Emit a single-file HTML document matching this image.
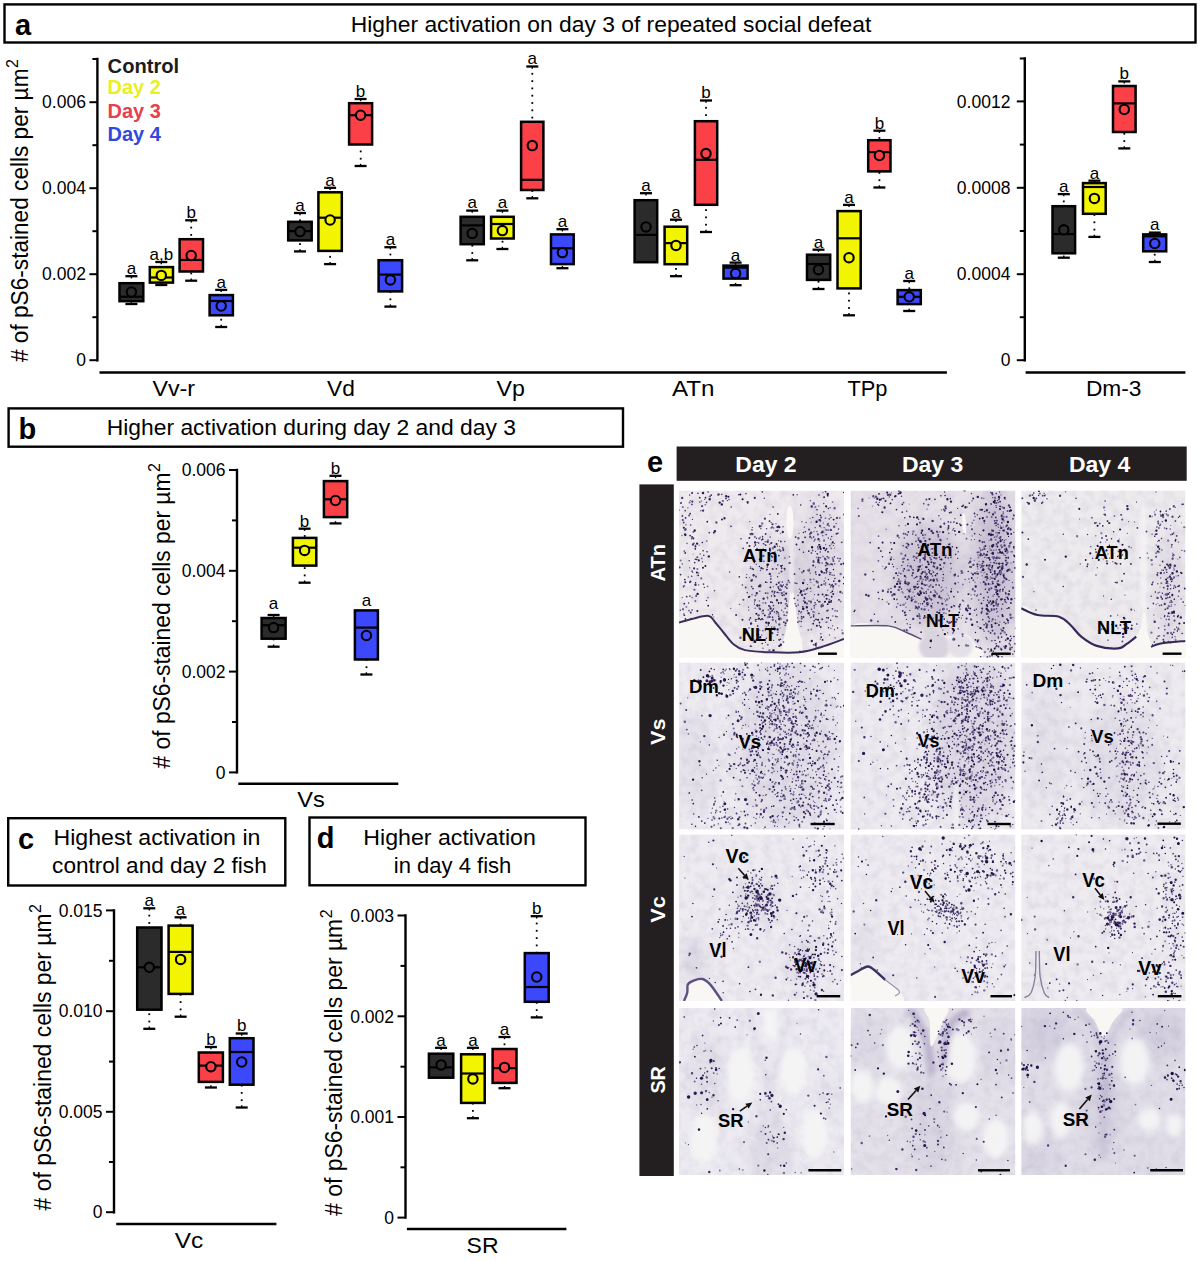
<!DOCTYPE html>
<html><head><meta charset="utf-8"><style>
html,body{margin:0;padding:0;background:#fff;overflow:hidden;}
svg{display:block;}
text{font-family:"Liberation Sans", sans-serif;}
</style></head><body>
<svg width="1200" height="1261" viewBox="0 0 1200 1261">
<defs><filter id="blur8" x="-50%" y="-50%" width="200%" height="200%"><feGaussianBlur stdDeviation="8"/></filter><filter id="tex0" x="0" y="0" width="100%" height="100%"><feTurbulence type="fractalNoise" baseFrequency="0.11" numOctaves="3" seed="3"/><feColorMatrix values="0 0 0 0 0.45 0 0 0 0 0.42 0 0 0 0 0.55 0.5 0 0 0 -0.19"/></filter><filter id="tex1" x="0" y="0" width="100%" height="100%"><feTurbulence type="fractalNoise" baseFrequency="0.11" numOctaves="3" seed="11"/><feColorMatrix values="0 0 0 0 0.45 0 0 0 0 0.42 0 0 0 0 0.55 0.5 0 0 0 -0.19"/></filter><filter id="tex2" x="0" y="0" width="100%" height="100%"><feTurbulence type="fractalNoise" baseFrequency="0.11" numOctaves="3" seed="23"/><feColorMatrix values="0 0 0 0 0.45 0 0 0 0 0.42 0 0 0 0 0.55 0.5 0 0 0 -0.19"/></filter><filter id="blur1" x="-50%" y="-50%" width="200%" height="200%"><feGaussianBlur stdDeviation="1.5"/></filter><filter id="blur2" x="-50%" y="-50%" width="200%" height="200%"><feGaussianBlur stdDeviation="3"/></filter></defs>
<rect width="1200" height="1261" fill="#fff"/>
<rect x="4.5" y="4.4" width="1191" height="38.1" fill="none" stroke="#000" stroke-width="2.4"/>
<text x="15" y="35" font-size="29" text-anchor="start" font-weight="bold" fill="#000">a</text>
<text x="350.8" y="31.7" font-size="22" text-anchor="start" fill="#000" textLength="520.5" lengthAdjust="spacingAndGlyphs">Higher activation on day 3 of repeated social defeat</text>
<text x="107.6" y="72.6" font-size="19.5" text-anchor="start" font-weight="bold" fill="#1c1c1c" textLength="71.6" lengthAdjust="spacingAndGlyphs">Control</text>
<text x="107.6" y="93.5" font-size="19.5" text-anchor="start" font-weight="bold" fill="#e9f01c" textLength="53.3" lengthAdjust="spacingAndGlyphs">Day 2</text>
<text x="107.6" y="117.5" font-size="19.5" text-anchor="start" font-weight="bold" fill="#e8404c" textLength="53.3" lengthAdjust="spacingAndGlyphs">Day 3</text>
<text x="107.6" y="141.1" font-size="19.5" text-anchor="start" font-weight="bold" fill="#3048e0" textLength="53.3" lengthAdjust="spacingAndGlyphs">Day 4</text>
<path d="M97.4 57.8L97.4 361.4" stroke="#000" stroke-width="2.4"/>
<path d="M92.4 59L97.4 59" stroke="#000" stroke-width="2.0"/>
<path d="M89.4 102.2L97.4 102.2" stroke="#000" stroke-width="2.0"/>
<path d="M92.4 145.2L97.4 145.2" stroke="#000" stroke-width="2.0"/>
<path d="M89.4 188.2L97.4 188.2" stroke="#000" stroke-width="2.0"/>
<path d="M92.4 231.2L97.4 231.2" stroke="#000" stroke-width="2.0"/>
<path d="M89.4 274.2L97.4 274.2" stroke="#000" stroke-width="2.0"/>
<path d="M92.4 317.2L97.4 317.2" stroke="#000" stroke-width="2.0"/>
<path d="M89.4 360.2L97.4 360.2" stroke="#000" stroke-width="2.0"/>
<text x="85.9" y="108.4" font-size="17.5" text-anchor="end" fill="#000">0.006</text>
<text x="85.9" y="194.4" font-size="17.5" text-anchor="end" fill="#000">0.004</text>
<text x="85.9" y="280.4" font-size="17.5" text-anchor="end" fill="#000">0.002</text>
<text x="85.9" y="366.4" font-size="17.5" text-anchor="end" fill="#000">0</text>
<text transform="translate(28,362) rotate(-90)" font-size="23" textLength="293.5" lengthAdjust="spacingAndGlyphs"># of pS6-stained cells per µm</text>
<text transform="translate(18.3,68) rotate(-90)" font-size="16">2</text>
<path d="M99.5 372.6L946.9 372.6" stroke="#000" stroke-width="2.5"/>
<text x="173.7" y="395.9" font-size="21.5" text-anchor="middle" fill="#000" textLength="42.6" lengthAdjust="spacingAndGlyphs">Vv-r</text>
<text x="341" y="395.9" font-size="21.5" text-anchor="middle" fill="#000" textLength="27.8" lengthAdjust="spacingAndGlyphs">Vd</text>
<text x="510.7" y="395.9" font-size="21.5" text-anchor="middle" fill="#000" textLength="28.4" lengthAdjust="spacingAndGlyphs">Vp</text>
<text x="693.2" y="395.9" font-size="21.5" text-anchor="middle" fill="#000" textLength="42.6" lengthAdjust="spacingAndGlyphs">ATn</text>
<text x="867.5" y="395.9" font-size="21.5" text-anchor="middle" fill="#000" textLength="40" lengthAdjust="spacingAndGlyphs">TPp</text>
<path d="M125.4 276.2L137.4 276.2" stroke="#000" stroke-width="2.3"/>
<path d="M131.4 276.2L131.4 278.4" stroke="#000" stroke-width="1.4"/>
<path d="M125.4 304L137.4 304" stroke="#000" stroke-width="2.3"/>
<path d="M131.4 301.8L131.4 304" stroke="#000" stroke-width="1.4"/>
<rect x="119.5" y="283.2" width="23.8" height="18" fill="#2b2b2b" stroke="#000" stroke-width="2.5"/>
<path d="M119.5 296.7L143.3 296.7" stroke="#000" stroke-width="2.2"/>
<circle cx="131.4" cy="292" r="4.7" fill="#2b2b2b" stroke="#000" stroke-width="2.1"/>
<text x="131.4" y="274" font-size="17" text-anchor="middle" fill="#000">a</text>
<path d="M155.3 262L167.3 262" stroke="#000" stroke-width="2.3"/>
<path d="M161.3 262L161.3 264.2" stroke="#000" stroke-width="1.4"/>
<path d="M155.3 285L167.3 285" stroke="#000" stroke-width="2.3"/>
<path d="M161.3 282.8L161.3 285" stroke="#000" stroke-width="1.4"/>
<rect x="149.8" y="267.1" width="23.2" height="15.5" fill="#f3f500" stroke="#000" stroke-width="2.5"/>
<path d="M149.8 277.5L172.9 277.5" stroke="#000" stroke-width="2.2"/>
<circle cx="161.3" cy="275.4" r="4.7" fill="#f3f500" stroke="#000" stroke-width="2.1"/>
<text x="161.3" y="259.8" font-size="17" text-anchor="middle" fill="#000">a,b</text>
<path d="M185.2 220.3L197.2 220.3" stroke="#000" stroke-width="2.3"/>
<path d="M191.2 220.3L191.2 222.5" stroke="#000" stroke-width="1.4"/>
<path d="M185.2 280.7L197.2 280.7" stroke="#000" stroke-width="2.3"/>
<path d="M191.2 278.5L191.2 280.7" stroke="#000" stroke-width="1.4"/>
<rect x="190.3" y="226.7" width="1.8" height="1.8" fill="#000"/>
<rect x="190.3" y="234" width="1.8" height="1.8" fill="#000"/>
<rect x="190.3" y="272.5" width="1.8" height="1.8" fill="#000"/>
<rect x="179.6" y="239.2" width="23.4" height="32.3" fill="#fc4048" stroke="#000" stroke-width="2.5"/>
<path d="M179.6 259.9L202.9 259.9" stroke="#000" stroke-width="2.2"/>
<circle cx="191.2" cy="255.5" r="4.7" fill="#fc4048" stroke="#000" stroke-width="2.1"/>
<text x="191.2" y="218.1" font-size="17" text-anchor="middle" fill="#000">b</text>
<path d="M215.2 289.9L227.2 289.9" stroke="#000" stroke-width="2.3"/>
<path d="M221.2 289.9L221.2 292.1" stroke="#000" stroke-width="1.4"/>
<path d="M215.2 327L227.2 327" stroke="#000" stroke-width="2.3"/>
<path d="M221.2 324.8L221.2 327" stroke="#000" stroke-width="1.4"/>
<rect x="220.3" y="318.8" width="1.8" height="1.8" fill="#000"/>
<rect x="209.6" y="295.1" width="23.3" height="20.2" fill="#3c48fc" stroke="#000" stroke-width="2.5"/>
<path d="M209.6 301L232.8 301" stroke="#000" stroke-width="2.2"/>
<circle cx="221.2" cy="306" r="4.7" fill="#3c48fc" stroke="#000" stroke-width="2.1"/>
<text x="221.2" y="287.7" font-size="17" text-anchor="middle" fill="#000">a</text>
<path d="M294 213L306 213" stroke="#000" stroke-width="2.3"/>
<path d="M300 213L300 215.2" stroke="#000" stroke-width="1.4"/>
<path d="M294 251.4L306 251.4" stroke="#000" stroke-width="2.3"/>
<path d="M300 249.2L300 251.4" stroke="#000" stroke-width="1.4"/>
<rect x="299.1" y="219.4" width="1.8" height="1.8" fill="#000"/>
<rect x="299.1" y="243.2" width="1.8" height="1.8" fill="#000"/>
<rect x="288.2" y="221.8" width="23.5" height="18.6" fill="#2b2b2b" stroke="#000" stroke-width="2.5"/>
<path d="M288.2 231.1L311.8 231.1" stroke="#000" stroke-width="2.2"/>
<circle cx="300" cy="231.6" r="4.7" fill="#2b2b2b" stroke="#000" stroke-width="2.1"/>
<text x="300" y="210.8" font-size="17" text-anchor="middle" fill="#000">a</text>
<path d="M324.1 187.8L336.1 187.8" stroke="#000" stroke-width="2.3"/>
<path d="M330.1 187.8L330.1 190" stroke="#000" stroke-width="1.4"/>
<path d="M324.1 264.1L336.1 264.1" stroke="#000" stroke-width="2.3"/>
<path d="M330.1 261.9L330.1 264.1" stroke="#000" stroke-width="1.4"/>
<rect x="329.2" y="255.9" width="1.8" height="1.8" fill="#000"/>
<rect x="318.4" y="192.3" width="23.4" height="58.6" fill="#f3f500" stroke="#000" stroke-width="2.5"/>
<path d="M318.4 217.7L341.9 217.7" stroke="#000" stroke-width="2.2"/>
<circle cx="330.1" cy="220" r="4.7" fill="#f3f500" stroke="#000" stroke-width="2.1"/>
<text x="330.1" y="185.6" font-size="17" text-anchor="middle" fill="#000">a</text>
<path d="M354.6 99L366.6 99" stroke="#000" stroke-width="2.3"/>
<path d="M360.6 99L360.6 101.2" stroke="#000" stroke-width="1.4"/>
<path d="M354.6 166L366.6 166" stroke="#000" stroke-width="2.3"/>
<path d="M360.6 163.8L360.6 166" stroke="#000" stroke-width="1.4"/>
<rect x="359.8" y="157.8" width="1.8" height="1.8" fill="#000"/>
<rect x="359.8" y="150.5" width="1.8" height="1.8" fill="#000"/>
<rect x="349.1" y="103.2" width="23" height="41.3" fill="#fc4048" stroke="#000" stroke-width="2.5"/>
<path d="M349.1 115.2L372.1 115.2" stroke="#000" stroke-width="2.2"/>
<circle cx="360.6" cy="115.2" r="4.7" fill="#fc4048" stroke="#000" stroke-width="2.1"/>
<text x="360.6" y="96.8" font-size="17" text-anchor="middle" fill="#000">b</text>
<path d="M384.4 247.2L396.4 247.2" stroke="#000" stroke-width="2.3"/>
<path d="M390.4 247.2L390.4 249.4" stroke="#000" stroke-width="1.4"/>
<path d="M384.4 306.6L396.4 306.6" stroke="#000" stroke-width="2.3"/>
<path d="M390.4 304.4L390.4 306.6" stroke="#000" stroke-width="1.4"/>
<rect x="389.5" y="253.6" width="1.8" height="1.8" fill="#000"/>
<rect x="389.5" y="298.4" width="1.8" height="1.8" fill="#000"/>
<rect x="389.5" y="291.1" width="1.8" height="1.8" fill="#000"/>
<rect x="378.6" y="260.2" width="23.5" height="31.2" fill="#3c48fc" stroke="#000" stroke-width="2.5"/>
<path d="M378.6 274.6L402.1 274.6" stroke="#000" stroke-width="2.2"/>
<circle cx="390.4" cy="279.9" r="4.7" fill="#3c48fc" stroke="#000" stroke-width="2.1"/>
<text x="390.4" y="245" font-size="17" text-anchor="middle" fill="#000">a</text>
<path d="M466.2 210.6L478.2 210.6" stroke="#000" stroke-width="2.3"/>
<path d="M472.2 210.6L472.2 212.8" stroke="#000" stroke-width="1.4"/>
<path d="M466.2 260.3L478.2 260.3" stroke="#000" stroke-width="2.3"/>
<path d="M472.2 258.1L472.2 260.3" stroke="#000" stroke-width="1.4"/>
<rect x="471.4" y="252.1" width="1.8" height="1.8" fill="#000"/>
<rect x="471.4" y="244.8" width="1.8" height="1.8" fill="#000"/>
<rect x="460.6" y="216.8" width="23.2" height="27.4" fill="#2b2b2b" stroke="#000" stroke-width="2.5"/>
<path d="M460.6 225.4L483.9 225.4" stroke="#000" stroke-width="2.2"/>
<circle cx="472.2" cy="233.4" r="4.7" fill="#2b2b2b" stroke="#000" stroke-width="2.1"/>
<text x="472.2" y="208.4" font-size="17" text-anchor="middle" fill="#000">a</text>
<path d="M496.4 210.6L508.4 210.6" stroke="#000" stroke-width="2.3"/>
<path d="M502.4 210.6L502.4 212.8" stroke="#000" stroke-width="1.4"/>
<path d="M496.4 249L508.4 249" stroke="#000" stroke-width="2.3"/>
<path d="M502.4 246.8L502.4 249" stroke="#000" stroke-width="1.4"/>
<rect x="501.6" y="240.8" width="1.8" height="1.8" fill="#000"/>
<rect x="491.1" y="216.8" width="22.6" height="21.7" fill="#f3f500" stroke="#000" stroke-width="2.5"/>
<path d="M491.1 224L513.8 224" stroke="#000" stroke-width="2.2"/>
<circle cx="502.4" cy="230.6" r="4.7" fill="#f3f500" stroke="#000" stroke-width="2.1"/>
<text x="502.4" y="208.4" font-size="17" text-anchor="middle" fill="#000">a</text>
<path d="M526.3 66.5L538.3 66.5" stroke="#000" stroke-width="2.3"/>
<path d="M532.3 66.5L532.3 68.7" stroke="#000" stroke-width="1.4"/>
<path d="M526.3 198.3L538.3 198.3" stroke="#000" stroke-width="2.3"/>
<path d="M532.3 196.1L532.3 198.3" stroke="#000" stroke-width="1.4"/>
<rect x="531.4" y="72.9" width="1.8" height="1.8" fill="#000"/>
<rect x="531.4" y="80.2" width="1.8" height="1.8" fill="#000"/>
<rect x="531.4" y="87.5" width="1.8" height="1.8" fill="#000"/>
<rect x="531.4" y="94.8" width="1.8" height="1.8" fill="#000"/>
<rect x="531.4" y="102.1" width="1.8" height="1.8" fill="#000"/>
<rect x="531.4" y="109.4" width="1.8" height="1.8" fill="#000"/>
<rect x="531.4" y="116.7" width="1.8" height="1.8" fill="#000"/>
<rect x="531.4" y="190.1" width="1.8" height="1.8" fill="#000"/>
<rect x="521.1" y="121.8" width="22.3" height="68.2" fill="#fc4048" stroke="#000" stroke-width="2.5"/>
<path d="M521.1 179.8L543.5 179.8" stroke="#000" stroke-width="2.2"/>
<circle cx="532.3" cy="145.6" r="4.7" fill="#fc4048" stroke="#000" stroke-width="2.1"/>
<text x="532.3" y="64.3" font-size="17" text-anchor="middle" fill="#000">a</text>
<path d="M556.4 229.2L568.4 229.2" stroke="#000" stroke-width="2.3"/>
<path d="M562.4 229.2L562.4 231.4" stroke="#000" stroke-width="1.4"/>
<path d="M556.4 268.2L568.4 268.2" stroke="#000" stroke-width="2.3"/>
<path d="M562.4 266L562.4 268.2" stroke="#000" stroke-width="1.4"/>
<rect x="551" y="234.4" width="22.7" height="29.7" fill="#3c48fc" stroke="#000" stroke-width="2.5"/>
<path d="M551 248.3L573.8 248.3" stroke="#000" stroke-width="2.2"/>
<circle cx="562.4" cy="252.6" r="4.7" fill="#3c48fc" stroke="#000" stroke-width="2.1"/>
<text x="562.4" y="227" font-size="17" text-anchor="middle" fill="#000">a</text>
<path d="M640 193.2L652 193.2" stroke="#000" stroke-width="2.3"/>
<path d="M646 193.2L646 195.4" stroke="#000" stroke-width="1.4"/>
<rect x="634.6" y="200.2" width="22.6" height="62" fill="#2b2b2b" stroke="#000" stroke-width="2.5"/>
<path d="M634.6 234.9L657.2 234.9" stroke="#000" stroke-width="2.2"/>
<circle cx="646" cy="226.9" r="4.7" fill="#2b2b2b" stroke="#000" stroke-width="2.1"/>
<text x="646" y="191" font-size="17" text-anchor="middle" fill="#000">a</text>
<path d="M670 219.7L682 219.7" stroke="#000" stroke-width="2.3"/>
<path d="M676 219.7L676 221.9" stroke="#000" stroke-width="1.4"/>
<path d="M670 276.2L682 276.2" stroke="#000" stroke-width="2.3"/>
<path d="M676 274L676 276.2" stroke="#000" stroke-width="1.4"/>
<rect x="675.1" y="268" width="1.8" height="1.8" fill="#000"/>
<rect x="664.6" y="226.7" width="22.6" height="37.5" fill="#f3f500" stroke="#000" stroke-width="2.5"/>
<path d="M664.6 243.1L687.2 243.1" stroke="#000" stroke-width="2.2"/>
<circle cx="676" cy="245.4" r="4.7" fill="#f3f500" stroke="#000" stroke-width="2.1"/>
<text x="676" y="217.5" font-size="17" text-anchor="middle" fill="#000">a</text>
<path d="M700 100.5L712 100.5" stroke="#000" stroke-width="2.3"/>
<path d="M706 100.5L706 102.7" stroke="#000" stroke-width="1.4"/>
<path d="M700 232L712 232" stroke="#000" stroke-width="2.3"/>
<path d="M706 229.8L706 232" stroke="#000" stroke-width="1.4"/>
<rect x="705.1" y="106.9" width="1.8" height="1.8" fill="#000"/>
<rect x="705.1" y="114.2" width="1.8" height="1.8" fill="#000"/>
<rect x="705.1" y="223.8" width="1.8" height="1.8" fill="#000"/>
<rect x="705.1" y="216.5" width="1.8" height="1.8" fill="#000"/>
<rect x="705.1" y="209.2" width="1.8" height="1.8" fill="#000"/>
<rect x="694.9" y="121.2" width="22.3" height="83.6" fill="#fc4048" stroke="#000" stroke-width="2.5"/>
<path d="M694.9 159.8L717.1 159.8" stroke="#000" stroke-width="2.2"/>
<circle cx="706" cy="153.6" r="4.7" fill="#fc4048" stroke="#000" stroke-width="2.1"/>
<text x="706" y="98.3" font-size="17" text-anchor="middle" fill="#000">b</text>
<path d="M729.6 262.6L741.6 262.6" stroke="#000" stroke-width="2.3"/>
<path d="M735.6 262.6L735.6 264.8" stroke="#000" stroke-width="1.4"/>
<path d="M729.6 285.2L741.6 285.2" stroke="#000" stroke-width="2.3"/>
<path d="M735.6 283L735.6 285.2" stroke="#000" stroke-width="1.4"/>
<rect x="723.5" y="265.6" width="24.1" height="13" fill="#3c48fc" stroke="#000" stroke-width="2.5"/>
<path d="M723.5 267.6L747.6 267.6" stroke="#000" stroke-width="2.2"/>
<circle cx="735.6" cy="273.4" r="4.7" fill="#3c48fc" stroke="#000" stroke-width="2.1"/>
<text x="735.6" y="260.9" font-size="17" text-anchor="middle" fill="#000">a</text>
<path d="M812.5 249.7L824.5 249.7" stroke="#000" stroke-width="2.3"/>
<path d="M818.5 249.7L818.5 251.9" stroke="#000" stroke-width="1.4"/>
<path d="M812.5 289L824.5 289" stroke="#000" stroke-width="2.3"/>
<path d="M818.5 286.8L818.5 289" stroke="#000" stroke-width="1.4"/>
<rect x="817.6" y="280.8" width="1.8" height="1.8" fill="#000"/>
<rect x="807" y="254.7" width="23.2" height="25.2" fill="#2b2b2b" stroke="#000" stroke-width="2.5"/>
<path d="M807 264L830.1 264" stroke="#000" stroke-width="2.2"/>
<circle cx="818.5" cy="269.7" r="4.7" fill="#2b2b2b" stroke="#000" stroke-width="2.1"/>
<text x="818.5" y="247.5" font-size="17" text-anchor="middle" fill="#000">a</text>
<path d="M843 204.9L855 204.9" stroke="#000" stroke-width="2.3"/>
<path d="M849 204.9L849 207.1" stroke="#000" stroke-width="1.4"/>
<path d="M843 315.3L855 315.3" stroke="#000" stroke-width="2.3"/>
<path d="M849 313.1L849 315.3" stroke="#000" stroke-width="1.4"/>
<rect x="848.1" y="307.1" width="1.8" height="1.8" fill="#000"/>
<rect x="848.1" y="299.8" width="1.8" height="1.8" fill="#000"/>
<rect x="848.1" y="292.5" width="1.8" height="1.8" fill="#000"/>
<rect x="837.5" y="211.1" width="23.2" height="77.3" fill="#f3f500" stroke="#000" stroke-width="2.5"/>
<path d="M837.5 238.3L860.6 238.3" stroke="#000" stroke-width="2.2"/>
<circle cx="849" cy="257.7" r="4.7" fill="#f3f500" stroke="#000" stroke-width="2.1"/>
<text x="849" y="202.7" font-size="17" text-anchor="middle" fill="#000">a</text>
<path d="M873.4 130.7L885.4 130.7" stroke="#000" stroke-width="2.3"/>
<path d="M879.4 130.7L879.4 132.9" stroke="#000" stroke-width="1.4"/>
<path d="M873.4 187.5L885.4 187.5" stroke="#000" stroke-width="2.3"/>
<path d="M879.4 185.3L879.4 187.5" stroke="#000" stroke-width="1.4"/>
<rect x="878.5" y="137.1" width="1.8" height="1.8" fill="#000"/>
<rect x="878.5" y="179.3" width="1.8" height="1.8" fill="#000"/>
<rect x="878.5" y="172" width="1.8" height="1.8" fill="#000"/>
<rect x="868.2" y="140.2" width="22.3" height="31.2" fill="#fc4048" stroke="#000" stroke-width="2.5"/>
<path d="M868.2 152.1L890.5 152.1" stroke="#000" stroke-width="2.2"/>
<circle cx="879.4" cy="155.5" r="4.7" fill="#fc4048" stroke="#000" stroke-width="2.1"/>
<text x="879.4" y="128.5" font-size="17" text-anchor="middle" fill="#000">b</text>
<path d="M903.2 281L915.2 281" stroke="#000" stroke-width="2.3"/>
<path d="M909.2 281L909.2 283.2" stroke="#000" stroke-width="1.4"/>
<path d="M903.2 311L915.2 311" stroke="#000" stroke-width="2.3"/>
<path d="M909.2 308.8L909.2 311" stroke="#000" stroke-width="1.4"/>
<rect x="908.4" y="287.4" width="1.8" height="1.8" fill="#000"/>
<rect x="897.6" y="290.1" width="23.2" height="14" fill="#3c48fc" stroke="#000" stroke-width="2.5"/>
<path d="M897.6 296.8L920.9 296.8" stroke="#000" stroke-width="2.2"/>
<circle cx="909.2" cy="296.8" r="4.7" fill="#3c48fc" stroke="#000" stroke-width="2.1"/>
<text x="909.2" y="278.8" font-size="17" text-anchor="middle" fill="#000">a</text>
<path d="M1057.8 194.1L1069.8 194.1" stroke="#000" stroke-width="2.3"/>
<path d="M1063.8 194.1L1063.8 196.3" stroke="#000" stroke-width="1.4"/>
<path d="M1057.8 257.7L1069.8 257.7" stroke="#000" stroke-width="2.3"/>
<path d="M1063.8 255.5L1063.8 257.7" stroke="#000" stroke-width="1.4"/>
<rect x="1062.9" y="200.5" width="1.8" height="1.8" fill="#000"/>
<rect x="1052.5" y="206.2" width="22.6" height="47.1" fill="#2b2b2b" stroke="#000" stroke-width="2.5"/>
<path d="M1052.5 234L1075.2 234" stroke="#000" stroke-width="2.2"/>
<circle cx="1063.8" cy="229.8" r="4.7" fill="#2b2b2b" stroke="#000" stroke-width="2.1"/>
<text x="1063.8" y="191.9" font-size="17" text-anchor="middle" fill="#000">a</text>
<path d="M1088.4 180.7L1100.4 180.7" stroke="#000" stroke-width="2.3"/>
<path d="M1094.4 180.7L1094.4 182.9" stroke="#000" stroke-width="1.4"/>
<path d="M1088.4 236.9L1100.4 236.9" stroke="#000" stroke-width="2.3"/>
<path d="M1094.4 234.7L1094.4 236.9" stroke="#000" stroke-width="1.4"/>
<rect x="1093.5" y="228.7" width="1.8" height="1.8" fill="#000"/>
<rect x="1093.5" y="221.4" width="1.8" height="1.8" fill="#000"/>
<rect x="1093.5" y="214.1" width="1.8" height="1.8" fill="#000"/>
<rect x="1083" y="183.1" width="22.7" height="30.7" fill="#f3f500" stroke="#000" stroke-width="2.5"/>
<path d="M1083 187L1105.8 187" stroke="#000" stroke-width="2.2"/>
<circle cx="1094.4" cy="198.4" r="4.7" fill="#f3f500" stroke="#000" stroke-width="2.1"/>
<text x="1094.4" y="178.5" font-size="17" text-anchor="middle" fill="#000">a</text>
<path d="M1118.3 81.4L1130.3 81.4" stroke="#000" stroke-width="2.3"/>
<path d="M1124.3 81.4L1124.3 83.6" stroke="#000" stroke-width="1.4"/>
<path d="M1118.3 148.4L1130.3 148.4" stroke="#000" stroke-width="2.3"/>
<path d="M1124.3 146.2L1124.3 148.4" stroke="#000" stroke-width="1.4"/>
<rect x="1123.4" y="140.2" width="1.8" height="1.8" fill="#000"/>
<rect x="1123.4" y="132.9" width="1.8" height="1.8" fill="#000"/>
<rect x="1113" y="86" width="22.6" height="46" fill="#fc4048" stroke="#000" stroke-width="2.5"/>
<path d="M1113 103.4L1135.7 103.4" stroke="#000" stroke-width="2.2"/>
<circle cx="1124.3" cy="109.4" r="4.7" fill="#fc4048" stroke="#000" stroke-width="2.1"/>
<text x="1124.3" y="79.2" font-size="17" text-anchor="middle" fill="#000">b</text>
<path d="M1148.8 232.6L1160.8 232.6" stroke="#000" stroke-width="2.3"/>
<path d="M1154.8 232.6L1154.8 234.8" stroke="#000" stroke-width="1.4"/>
<path d="M1148.8 262L1160.8 262" stroke="#000" stroke-width="2.3"/>
<path d="M1154.8 259.8L1154.8 262" stroke="#000" stroke-width="1.4"/>
<rect x="1153.8" y="253.8" width="1.8" height="1.8" fill="#000"/>
<rect x="1143.2" y="234.4" width="23" height="16.9" fill="#3c48fc" stroke="#000" stroke-width="2.5"/>
<path d="M1143.2 236.3L1166.2 236.3" stroke="#000" stroke-width="2.2"/>
<circle cx="1154.8" cy="243.5" r="4.7" fill="#3c48fc" stroke="#000" stroke-width="2.1"/>
<text x="1154.8" y="230.4" font-size="17" text-anchor="middle" fill="#000">a</text>
<path d="M1024.8 57.3L1024.8 361.4" stroke="#000" stroke-width="2.4"/>
<path d="M1019.8 58.5L1024.8 58.5" stroke="#000" stroke-width="2.0"/>
<path d="M1016.8 101.4L1024.8 101.4" stroke="#000" stroke-width="2.0"/>
<path d="M1019.8 144.6L1024.8 144.6" stroke="#000" stroke-width="2.0"/>
<path d="M1016.8 187.8L1024.8 187.8" stroke="#000" stroke-width="2.0"/>
<path d="M1019.8 231L1024.8 231" stroke="#000" stroke-width="2.0"/>
<path d="M1016.8 274.2L1024.8 274.2" stroke="#000" stroke-width="2.0"/>
<path d="M1019.8 317.2L1024.8 317.2" stroke="#000" stroke-width="2.0"/>
<path d="M1016.8 360.2L1024.8 360.2" stroke="#000" stroke-width="2.0"/>
<text x="1010.4" y="107.6" font-size="17.5" text-anchor="end" fill="#000">0.0012</text>
<text x="1010.4" y="194" font-size="17.5" text-anchor="end" fill="#000">0.0008</text>
<text x="1010.4" y="280.4" font-size="17.5" text-anchor="end" fill="#000">0.0004</text>
<text x="1010.4" y="366.4" font-size="17.5" text-anchor="end" fill="#000">0</text>
<path d="M1025.6 372.6L1185.4 372.6" stroke="#000" stroke-width="2.5"/>
<text x="1113.7" y="395.9" font-size="21.5" text-anchor="middle" fill="#000" textLength="55.6" lengthAdjust="spacingAndGlyphs">Dm-3</text>
<rect x="8.6" y="408.4" width="614.4" height="38.3" fill="none" stroke="#000" stroke-width="2.4"/>
<text x="18.5" y="438.7" font-size="29" text-anchor="start" font-weight="bold" fill="#000">b</text>
<text x="106.7" y="434.8" font-size="22" text-anchor="start" fill="#000" textLength="409.3" lengthAdjust="spacingAndGlyphs">Higher activation during day 2 and day 3</text>
<path d="M237 468.8L237 773.6" stroke="#000" stroke-width="2.4"/>
<path d="M229 470L237 470" stroke="#000" stroke-width="2.0"/>
<path d="M232 520.4L237 520.4" stroke="#000" stroke-width="2.0"/>
<path d="M229 570.8L237 570.8" stroke="#000" stroke-width="2.0"/>
<path d="M232 621.2L237 621.2" stroke="#000" stroke-width="2.0"/>
<path d="M229 671.6L237 671.6" stroke="#000" stroke-width="2.0"/>
<path d="M232 722L237 722" stroke="#000" stroke-width="2.0"/>
<path d="M229 772.4L237 772.4" stroke="#000" stroke-width="2.0"/>
<text x="225.5" y="476.2" font-size="17.5" text-anchor="end" fill="#000">0.006</text>
<text x="225.5" y="577" font-size="17.5" text-anchor="end" fill="#000">0.004</text>
<text x="225.5" y="677.8" font-size="17.5" text-anchor="end" fill="#000">0.002</text>
<text x="225.5" y="778.6" font-size="17.5" text-anchor="end" fill="#000">0</text>
<text transform="translate(170,768.5) rotate(-90)" font-size="23" textLength="296" lengthAdjust="spacingAndGlyphs"># of pS6-stained cells per µm</text>
<text transform="translate(160.3,472) rotate(-90)" font-size="16">2</text>
<path d="M238.3 783.7L398.3 783.7" stroke="#000" stroke-width="2.5"/>
<text x="311.1" y="807.4" font-size="21.8" text-anchor="middle" fill="#000" textLength="27.5" lengthAdjust="spacingAndGlyphs">Vs</text>
<path d="M267.6 615L279.6 615" stroke="#000" stroke-width="2.3"/>
<path d="M273.6 615L273.6 617.2" stroke="#000" stroke-width="1.4"/>
<path d="M267.6 646.7L279.6 646.7" stroke="#000" stroke-width="2.3"/>
<path d="M273.6 644.5L273.6 646.7" stroke="#000" stroke-width="1.4"/>
<rect x="272.7" y="638.5" width="1.8" height="1.8" fill="#000"/>
<rect x="261.6" y="618" width="24" height="20.7" fill="#2b2b2b" stroke="#000" stroke-width="2.5"/>
<path d="M261.6 625.2L285.6 625.2" stroke="#000" stroke-width="2.2"/>
<circle cx="273.6" cy="627.6" r="4.7" fill="#2b2b2b" stroke="#000" stroke-width="2.1"/>
<text x="273.6" y="608.5" font-size="17" text-anchor="middle" fill="#000">a</text>
<path d="M298.6 528.7L310.6 528.7" stroke="#000" stroke-width="2.3"/>
<path d="M304.6 528.7L304.6 530.9" stroke="#000" stroke-width="1.4"/>
<path d="M298.6 582.7L310.6 582.7" stroke="#000" stroke-width="2.3"/>
<path d="M304.6 580.5L304.6 582.7" stroke="#000" stroke-width="1.4"/>
<rect x="303.8" y="535.1" width="1.8" height="1.8" fill="#000"/>
<rect x="303.8" y="574.5" width="1.8" height="1.8" fill="#000"/>
<rect x="303.8" y="567.2" width="1.8" height="1.8" fill="#000"/>
<rect x="292.9" y="537.9" width="23.4" height="27.7" fill="#f3f500" stroke="#000" stroke-width="2.5"/>
<path d="M292.9 547.7L316.4 547.7" stroke="#000" stroke-width="2.2"/>
<circle cx="304.6" cy="550.4" r="4.7" fill="#f3f500" stroke="#000" stroke-width="2.1"/>
<text x="304.6" y="526.5" font-size="17" text-anchor="middle" fill="#000">b</text>
<path d="M329.5 475.8L341.5 475.8" stroke="#000" stroke-width="2.3"/>
<path d="M335.5 475.8L335.5 478" stroke="#000" stroke-width="1.4"/>
<path d="M329.5 523.4L341.5 523.4" stroke="#000" stroke-width="2.3"/>
<path d="M335.5 521.2L335.5 523.4" stroke="#000" stroke-width="1.4"/>
<rect x="323.9" y="481.1" width="23.3" height="36" fill="#fc4048" stroke="#000" stroke-width="2.5"/>
<path d="M323.9 499.3L347.1 499.3" stroke="#000" stroke-width="2.2"/>
<circle cx="335.5" cy="500.5" r="4.7" fill="#fc4048" stroke="#000" stroke-width="2.1"/>
<text x="335.5" y="473.6" font-size="17" text-anchor="middle" fill="#000">b</text>
<path d="M360.4 674.5L372.4 674.5" stroke="#000" stroke-width="2.3"/>
<path d="M366.4 672.3L366.4 674.5" stroke="#000" stroke-width="1.4"/>
<rect x="365.6" y="666.3" width="1.8" height="1.8" fill="#000"/>
<rect x="365.6" y="659" width="1.8" height="1.8" fill="#000"/>
<rect x="354.9" y="610.4" width="23" height="49.1" fill="#3c48fc" stroke="#000" stroke-width="2.5"/>
<path d="M354.9 627.6L377.9 627.6" stroke="#000" stroke-width="2.2"/>
<circle cx="366.4" cy="635.5" r="4.7" fill="#3c48fc" stroke="#000" stroke-width="2.1"/>
<text x="366.4" y="605.6" font-size="17" text-anchor="middle" fill="#000">a</text>
<rect x="8.2" y="818.2" width="277.1" height="67.3" fill="none" stroke="#000" stroke-width="2.4"/>
<text x="18" y="848.7" font-size="29" text-anchor="start" font-weight="bold" fill="#000">c</text>
<text x="53.5" y="844.6" font-size="22" text-anchor="start" fill="#000" textLength="206.9" lengthAdjust="spacingAndGlyphs">Highest activation in</text>
<text x="52.1" y="872.7" font-size="22" text-anchor="start" fill="#000" textLength="214.6" lengthAdjust="spacingAndGlyphs">control and day 2 fish</text>
<path d="M114 909.2L114 1213.4" stroke="#000" stroke-width="2.4"/>
<path d="M106 910.4L114 910.4" stroke="#000" stroke-width="2.0"/>
<path d="M109 960.8L114 960.8" stroke="#000" stroke-width="2.0"/>
<path d="M106 1011.2L114 1011.2" stroke="#000" stroke-width="2.0"/>
<path d="M109 1061.6L114 1061.6" stroke="#000" stroke-width="2.0"/>
<path d="M106 1111.8L114 1111.8" stroke="#000" stroke-width="2.0"/>
<path d="M109 1162L114 1162" stroke="#000" stroke-width="2.0"/>
<path d="M106 1212.2L114 1212.2" stroke="#000" stroke-width="2.0"/>
<text x="102.5" y="916.6" font-size="17.5" text-anchor="end" fill="#000">0.015</text>
<text x="102.5" y="1017.4" font-size="17.5" text-anchor="end" fill="#000">0.010</text>
<text x="102.5" y="1118" font-size="17.5" text-anchor="end" fill="#000">0.005</text>
<text x="102.5" y="1218.4" font-size="17.5" text-anchor="end" fill="#000">0</text>
<text transform="translate(51,1210.4) rotate(-90)" font-size="23" textLength="297" lengthAdjust="spacingAndGlyphs"># of pS6-stained cells per µm</text>
<text transform="translate(41.3,912.9) rotate(-90)" font-size="16">2</text>
<path d="M116.2 1224L276.4 1224" stroke="#000" stroke-width="2.5"/>
<text x="189" y="1247.6" font-size="21.8" text-anchor="middle" fill="#000" textLength="28.5" lengthAdjust="spacingAndGlyphs">Vc</text>
<path d="M143.3 908.3L155.3 908.3" stroke="#000" stroke-width="2.3"/>
<path d="M149.3 908.3L149.3 910.5" stroke="#000" stroke-width="1.4"/>
<path d="M143.3 1028.8L155.3 1028.8" stroke="#000" stroke-width="2.3"/>
<path d="M149.3 1026.6L149.3 1028.8" stroke="#000" stroke-width="1.4"/>
<rect x="148.4" y="914.7" width="1.8" height="1.8" fill="#000"/>
<rect x="148.4" y="922" width="1.8" height="1.8" fill="#000"/>
<rect x="148.4" y="1020.6" width="1.8" height="1.8" fill="#000"/>
<rect x="148.4" y="1013.3" width="1.8" height="1.8" fill="#000"/>
<rect x="137.2" y="927.5" width="24.3" height="82.2" fill="#2b2b2b" stroke="#000" stroke-width="2.5"/>
<path d="M137.2 967.3L161.4 967.3" stroke="#000" stroke-width="2.2"/>
<circle cx="149.3" cy="967.3" r="4.7" fill="#2b2b2b" stroke="#000" stroke-width="2.1"/>
<text x="149.3" y="906.1" font-size="17" text-anchor="middle" fill="#000">a</text>
<path d="M174.6 917.3L186.6 917.3" stroke="#000" stroke-width="2.3"/>
<path d="M180.6 917.3L180.6 919.5" stroke="#000" stroke-width="1.4"/>
<path d="M174.6 1016.7L186.6 1016.7" stroke="#000" stroke-width="2.3"/>
<path d="M180.6 1014.5L180.6 1016.7" stroke="#000" stroke-width="1.4"/>
<rect x="179.7" y="923.7" width="1.8" height="1.8" fill="#000"/>
<rect x="179.7" y="1008.5" width="1.8" height="1.8" fill="#000"/>
<rect x="179.7" y="1001.2" width="1.8" height="1.8" fill="#000"/>
<rect x="179.7" y="993.9" width="1.8" height="1.8" fill="#000"/>
<rect x="168.6" y="925.6" width="24" height="68.3" fill="#f3f500" stroke="#000" stroke-width="2.5"/>
<path d="M168.6 951.9L192.6 951.9" stroke="#000" stroke-width="2.2"/>
<circle cx="180.6" cy="959.4" r="4.7" fill="#f3f500" stroke="#000" stroke-width="2.1"/>
<text x="180.6" y="915.1" font-size="17" text-anchor="middle" fill="#000">a</text>
<path d="M204.9 1047L216.9 1047" stroke="#000" stroke-width="2.3"/>
<path d="M210.9 1047L210.9 1049.2" stroke="#000" stroke-width="1.4"/>
<path d="M204.9 1087.5L216.9 1087.5" stroke="#000" stroke-width="2.3"/>
<path d="M210.9 1085.3L210.9 1087.5" stroke="#000" stroke-width="1.4"/>
<rect x="198.8" y="1052.5" width="24.1" height="29.4" fill="#fc4048" stroke="#000" stroke-width="2.5"/>
<path d="M198.8 1065.6L222.9 1065.6" stroke="#000" stroke-width="2.2"/>
<circle cx="210.9" cy="1066.7" r="4.7" fill="#fc4048" stroke="#000" stroke-width="2.1"/>
<text x="210.9" y="1044.8" font-size="17" text-anchor="middle" fill="#000">b</text>
<path d="M235.7 1033.5L247.7 1033.5" stroke="#000" stroke-width="2.3"/>
<path d="M241.7 1033.5L241.7 1035.7" stroke="#000" stroke-width="1.4"/>
<path d="M235.7 1107.5L247.7 1107.5" stroke="#000" stroke-width="2.3"/>
<path d="M241.7 1105.3L241.7 1107.5" stroke="#000" stroke-width="1.4"/>
<rect x="240.8" y="1099.3" width="1.8" height="1.8" fill="#000"/>
<rect x="240.8" y="1092" width="1.8" height="1.8" fill="#000"/>
<rect x="240.8" y="1084.7" width="1.8" height="1.8" fill="#000"/>
<rect x="229.8" y="1038.2" width="23.7" height="46.5" fill="#3c48fc" stroke="#000" stroke-width="2.5"/>
<path d="M229.8 1052L253.6 1052" stroke="#000" stroke-width="2.2"/>
<circle cx="241.7" cy="1062" r="4.7" fill="#3c48fc" stroke="#000" stroke-width="2.1"/>
<text x="241.7" y="1031.3" font-size="17" text-anchor="middle" fill="#000">b</text>
<rect x="309.5" y="817.5" width="276" height="67.8" fill="none" stroke="#000" stroke-width="2.4"/>
<text x="316.7" y="848" font-size="29" text-anchor="start" font-weight="bold" fill="#000">d</text>
<text x="363.3" y="844.6" font-size="22" text-anchor="start" fill="#000" textLength="172.5" lengthAdjust="spacingAndGlyphs">Higher activation</text>
<text x="393.8" y="873.1" font-size="22" text-anchor="start" fill="#000" textLength="117.5" lengthAdjust="spacingAndGlyphs">in day 4 fish</text>
<path d="M405.5 914.3L405.5 1218.8" stroke="#000" stroke-width="2.4"/>
<path d="M397.5 915.5L405.5 915.5" stroke="#000" stroke-width="2.0"/>
<path d="M400.5 965.9L405.5 965.9" stroke="#000" stroke-width="2.0"/>
<path d="M397.5 1016.3L405.5 1016.3" stroke="#000" stroke-width="2.0"/>
<path d="M400.5 1066.7L405.5 1066.7" stroke="#000" stroke-width="2.0"/>
<path d="M397.5 1117L405.5 1117" stroke="#000" stroke-width="2.0"/>
<path d="M400.5 1167.3L405.5 1167.3" stroke="#000" stroke-width="2.0"/>
<path d="M397.5 1217.6L405.5 1217.6" stroke="#000" stroke-width="2.0"/>
<text x="394" y="921.7" font-size="17.5" text-anchor="end" fill="#000">0.003</text>
<text x="394" y="1022.5" font-size="17.5" text-anchor="end" fill="#000">0.002</text>
<text x="394" y="1123.2" font-size="17.5" text-anchor="end" fill="#000">0.001</text>
<text x="394" y="1223.8" font-size="17.5" text-anchor="end" fill="#000">0</text>
<text transform="translate(342,1215.8) rotate(-90)" font-size="23" textLength="297" lengthAdjust="spacingAndGlyphs"># of pS6-stained cells per µm</text>
<text transform="translate(332.3,918.3) rotate(-90)" font-size="16">2</text>
<path d="M406.9 1229L566.4 1229" stroke="#000" stroke-width="2.5"/>
<text x="482.6" y="1253.2" font-size="21.8" text-anchor="middle" fill="#000" textLength="32" lengthAdjust="spacingAndGlyphs">SR</text>
<path d="M435.1 1047.8L447.1 1047.8" stroke="#000" stroke-width="2.3"/>
<path d="M441.1 1047.8L441.1 1050" stroke="#000" stroke-width="1.4"/>
<rect x="428.9" y="1053.7" width="24.4" height="24" fill="#2b2b2b" stroke="#000" stroke-width="2.5"/>
<path d="M428.9 1067.4L453.2 1067.4" stroke="#000" stroke-width="2.2"/>
<circle cx="441.1" cy="1064.9" r="4.7" fill="#2b2b2b" stroke="#000" stroke-width="2.1"/>
<text x="441.1" y="1045.6" font-size="17" text-anchor="middle" fill="#000">a</text>
<path d="M466.9 1047.8L478.9 1047.8" stroke="#000" stroke-width="2.3"/>
<path d="M472.9 1047.8L472.9 1050" stroke="#000" stroke-width="1.4"/>
<path d="M466.9 1118.2L478.9 1118.2" stroke="#000" stroke-width="2.3"/>
<path d="M472.9 1116L472.9 1118.2" stroke="#000" stroke-width="1.4"/>
<rect x="472" y="1110" width="1.8" height="1.8" fill="#000"/>
<rect x="472" y="1102.7" width="1.8" height="1.8" fill="#000"/>
<rect x="461.1" y="1054.3" width="23.6" height="48.6" fill="#f3f500" stroke="#000" stroke-width="2.5"/>
<path d="M461.1 1073.5L484.6 1073.5" stroke="#000" stroke-width="2.2"/>
<circle cx="472.9" cy="1078.9" r="4.7" fill="#f3f500" stroke="#000" stroke-width="2.1"/>
<text x="472.9" y="1045.6" font-size="17" text-anchor="middle" fill="#000">a</text>
<path d="M498.5 1037L510.5 1037" stroke="#000" stroke-width="2.3"/>
<path d="M504.5 1037L504.5 1039.2" stroke="#000" stroke-width="1.4"/>
<path d="M498.5 1088.2L510.5 1088.2" stroke="#000" stroke-width="2.3"/>
<path d="M504.5 1086L504.5 1088.2" stroke="#000" stroke-width="1.4"/>
<rect x="503.6" y="1043.4" width="1.8" height="1.8" fill="#000"/>
<rect x="492.6" y="1049" width="23.9" height="33.9" fill="#fc4048" stroke="#000" stroke-width="2.5"/>
<path d="M492.6 1068.1L516.5 1068.1" stroke="#000" stroke-width="2.2"/>
<circle cx="504.5" cy="1067.4" r="4.7" fill="#fc4048" stroke="#000" stroke-width="2.1"/>
<text x="504.5" y="1034.8" font-size="17" text-anchor="middle" fill="#000">a</text>
<path d="M530.7 916.2L542.7 916.2" stroke="#000" stroke-width="2.3"/>
<path d="M536.7 916.2L536.7 918.4" stroke="#000" stroke-width="1.4"/>
<path d="M530.7 1017.4L542.7 1017.4" stroke="#000" stroke-width="2.3"/>
<path d="M536.7 1015.2L536.7 1017.4" stroke="#000" stroke-width="1.4"/>
<rect x="535.8" y="922.6" width="1.8" height="1.8" fill="#000"/>
<rect x="535.8" y="929.9" width="1.8" height="1.8" fill="#000"/>
<rect x="535.8" y="937.2" width="1.8" height="1.8" fill="#000"/>
<rect x="535.8" y="944.5" width="1.8" height="1.8" fill="#000"/>
<rect x="535.8" y="951.8" width="1.8" height="1.8" fill="#000"/>
<rect x="535.8" y="1009.2" width="1.8" height="1.8" fill="#000"/>
<rect x="535.8" y="1001.9" width="1.8" height="1.8" fill="#000"/>
<rect x="524.8" y="953.1" width="23.9" height="48.7" fill="#3c48fc" stroke="#000" stroke-width="2.5"/>
<path d="M524.8 987L548.6 987" stroke="#000" stroke-width="2.2"/>
<circle cx="536.7" cy="977" r="4.7" fill="#3c48fc" stroke="#000" stroke-width="2.1"/>
<text x="536.7" y="914" font-size="17" text-anchor="middle" fill="#000">b</text>
<text x="647" y="472" font-size="29" text-anchor="start" font-weight="bold" fill="#000">e</text>
<rect x="676.6" y="446.5" width="510.1" height="34.3" fill="#231f20"/>
<text x="766" y="472" font-size="22.5" text-anchor="middle" font-weight="bold" fill="#fff" textLength="61.3" lengthAdjust="spacingAndGlyphs">Day 2</text>
<text x="932.6" y="472" font-size="22.5" text-anchor="middle" font-weight="bold" fill="#fff" textLength="61.3" lengthAdjust="spacingAndGlyphs">Day 3</text>
<text x="1099.6" y="472" font-size="22.5" text-anchor="middle" font-weight="bold" fill="#fff" textLength="61.3" lengthAdjust="spacingAndGlyphs">Day 4</text>
<rect x="639.4" y="484.4" width="34.4" height="691.6" fill="#231f20"/>
<text transform="translate(664.8,562.7) rotate(-90)" font-size="21" font-weight="bold" fill="#fff" text-anchor="middle" textLength="37.6" lengthAdjust="spacingAndGlyphs">ATn</text>
<text transform="translate(664.8,731.7) rotate(-90)" font-size="21" font-weight="bold" fill="#fff" text-anchor="middle" textLength="26.4" lengthAdjust="spacingAndGlyphs">Vs</text>
<text transform="translate(664.8,909.5) rotate(-90)" font-size="21" font-weight="bold" fill="#fff" text-anchor="middle" textLength="26.5" lengthAdjust="spacingAndGlyphs">Vc</text>
<text transform="translate(664.8,1079.9) rotate(-90)" font-size="21" font-weight="bold" fill="#fff" text-anchor="middle" textLength="27.4" lengthAdjust="spacingAndGlyphs">SR</text>
<clipPath id="c00"><rect x="679" y="490.6" width="165" height="167"/></clipPath>
<g clip-path="url(#c00)">
<rect x="679" y="490.6" width="165" height="167" fill="#eeeaee"/>
<rect x="679" y="490.6" width="165" height="167" filter="url(#tex0)"/>
<ellipse cx="778" cy="590.8" rx="33" ry="50.1" fill="#6a5a90" opacity="0.1" filter="url(#blur8)"/>
<ellipse cx="819.2" cy="565.8" rx="24.8" ry="66.8" fill="#6a5a90" opacity="0.1" filter="url(#blur8)"/>
<path d="M679 622.5C681.5 615.8 688.9 618.6 693.9 617.5C698.8 616.4 705.1 615 708.7 615.9C712.3 616.7 712.8 619.7 715.3 622.5C717.8 625.3 720.5 628.9 723.5 632.5C726.6 636.2 729.9 641.5 733.5 644.2C737 647 739 648 745 649.2C751 650.5 760.7 651.3 769.8 651.8C778.8 652.2 790.9 652.6 799.5 651.8C808 650.9 813.5 649 820.9 646.7C828.3 644.5 840.1 636.6 844 638.4C847.9 640.2 871.5 654.4 844 657.6C816.5 660.8 706.5 663.4 679 657.6C651.5 651.8 676.5 629.2 679 622.5Z" fill="#f8f7f4"/>
<path d="M791.7 594.1C792.3 594.1 792.7 589.1 793.7 594.1C794.7 599.1 796.4 614.7 797.8 624.2C799.2 633.7 804.4 646.5 801.9 650.9C799.4 655.4 785.4 655.4 783 650.9C780.5 646.5 785.9 633.7 787.1 624.2C788.3 614.7 789.3 599.1 790 594.1C790.8 589.1 791.1 594.1 791.7 594.1Z" fill="#f8f7f4"/>
<ellipse cx="789.9" cy="522.3" rx="3.6" ry="16.7" fill="#f9f8f7"/>
<ellipse cx="791.7" cy="565.8" rx="2" ry="33.4" fill="#f6f5f6" opacity="0.7" filter="url(#blur1)"/>
<path d="M750.4 617.9h0M692 493.2h0M680.6 574.6h0M817.3 553.8h0M780.9 541.5h0M745.7 587.4h0M783.9 622.2h0M827.1 610.7h0M758.2 615.4h0M765.6 593.1h0M784 594.9h0M690.1 535.6h0M768.2 564.4h0M754.8 640.5h0M815.6 572.1h0M684.8 579.6h0M788.4 580.6h0M837.8 533.3h0M820.4 515.3h0M690.2 513.7h0M819.2 519.9h0M753 588.6h0M685.2 553h0M778.9 555.6h0M686.7 596.6h0M770.2 613.5h0M831.3 585.3h0M698.2 575.3h0M777.4 634.8h0M771.6 542.8h0M774.6 595.9h0M780.5 550.9h0M777.2 592.3h0M795.6 537.1h0M820.4 520.8h0M805.1 594.2h0M819.5 622.5h0M762.7 539.2h0M685.6 517.9h0M806.5 589.4h0M739.3 576.8h0" stroke="#3a2a62" stroke-width="1.8" stroke-linecap="round"/>
<path d="M827.7 495.7h0M831.7 596.7h0M826.5 548.8h0M771.5 556.1h0M831.2 601h0M828.3 617.8h0M759.7 559.4h0M695.3 548.8h0M833.6 519.6h0M825.4 550.3h0M813.2 623.7h0M831.1 564.1h0M747.1 542.8h0M749.5 596.6h0M828 551.8h0M822.6 594.4h0M819.1 601.7h0M821.2 637.1h0M823 605.8h0M803.7 571h0M763.1 610.4h0M736.1 615h0M818.3 587h0M770.4 587.4h0M766.9 569.7h0M749.4 537.9h0M824.1 497.2h0M768.6 622.9h0M764.8 615.4h0M777.8 513.9h0M816.5 581.3h0M759.9 550.2h0M685.6 529.2h0M822.6 639.9h0M787.1 606h0M819.5 544.9h0M832.4 591.3h0M827.7 604.2h0M827.6 563.6h0M769.5 521.1h0M707.3 521.7h0M779.5 527.3h0M843.9 577.3h0M827.1 568.6h0M778.6 603h0M796.5 544.5h0M776.5 584.4h0M769.7 616.9h0" stroke="#1e1340" stroke-width="1.8" stroke-linecap="round"/>
<path d="M769.4 650.4h0M828.4 557.7h0M787 612.4h0M808.4 613.3h0M779.6 549.9h0M683 609.2h0M833.3 586.2h0M842.7 633.3h0M762.2 523.5h0M802.2 572.4h0M779.1 619.1h0M803.7 590.7h0M759.3 538.4h0M840.7 574h0M772.9 548.2h0M821.1 517.4h0" stroke="#7a6f9c" stroke-width="2.4" stroke-linecap="round"/>
<path d="M751.5 580.5h0M802.8 542.1h0M759.8 526.2h0M811.8 641h0M777 600.2h0M751.1 623.4h0M815.6 644.9h0M769.8 573.9h0M782.8 532h0M770.6 608.5h0M822.6 531.8h0M761.4 568.1h0M724.5 518.2h0M818.5 539.2h0M753.6 575.3h0M703.1 510.6h0M747.6 502.1h0M767.6 541.8h0M756.8 593.3h0M695.5 584.8h0M811.7 506.5h0M757.6 634.4h0M779.3 618.6h0" stroke="#3a2a62" stroke-width="2.4" stroke-linecap="round"/>
<path d="M785.6 623.2h0M807.5 588.3h0M765.6 533.9h0M759.5 605.4h0M808.8 551.1h0M793.3 494.8h0M839 599.8h0M765.8 582.2h0M713.8 532.7h0M768.9 605.8h0M708.2 605.7h0M770.9 602h0M824.1 572.8h0M711.2 495.1h0M681 503h0M805.1 537.3h0M794.6 574.1h0M705.5 497.7h0M800 651.5h0M692.1 536.8h0M755.7 619.6h0M769.9 548.5h0M819.1 544.8h0M818.4 594.7h0M684.3 603.7h0M748.8 597.2h0M699.7 497.7h0M816 619.3h0M781.7 568.1h0M685.4 618.9h0" stroke="#2a1c52" stroke-width="1.8" stroke-linecap="round"/>
<path d="M840.1 558.6h0M783 548.1h0M819.5 574.8h0M832.3 564.5h0M706.5 502.3h0M689.1 515.5h0M794.3 598.3h0M785.5 586.8h0M803.4 608.7h0M743.2 548.3h0M825.6 491.7h0M755.4 545h0M825.6 565.6h0M703.5 584.1h0M824.1 540.7h0M772.3 633.2h0M750.2 533.8h0M774.2 627.3h0M691.9 504.4h0M841.7 542.3h0M757.7 626h0M833.8 581.2h0M786.9 588.2h0M726 498.6h0M770.2 637.9h0M776.4 568.8h0M762.3 491.8h0M772.6 617.2h0M765.7 545.2h0M747.8 557h0M826.3 569h0M774.8 591.7h0M772.1 527.1h0M731 526.3h0M694.7 562.6h0M813.7 614.9h0M821.4 532.7h0M682.4 516h0M709.3 532.7h0M832.5 608.8h0M763.1 613.3h0M784.1 615.1h0M786.7 584.6h0M829.5 584.3h0M814.3 605.7h0M773.4 605.6h0M751.6 586.6h0M710 496.4h0M769.8 606.5h0M683.7 522.5h0" stroke="#4a3c74" stroke-width="1.8" stroke-linecap="round"/>
<path d="M838.5 528.9h0M708.1 492h0M803.4 532.5h0M834.9 578.5h0M778.5 588.7h0M808 570.3h0M815.1 602.8h0M761.8 540h0M837.6 627.9h0M827.9 595.2h0M689.9 582.6h0M693.9 543.3h0M785.2 625.2h0M741 538.7h0M776.7 611.5h0M813.6 537h0M695.3 559.3h0M780.5 639.2h0M829.8 545.8h0M684.5 615.3h0M837 616.8h0M830.7 572.8h0M828.4 508.6h0M760.7 619.8h0M815.5 643.5h0M817.7 546.9h0M703.8 555.2h0M843.6 583.7h0M818.9 613.6h0M771.1 528.1h0M826.7 617.8h0M759.4 566.4h0M691.8 576.2h0M830.7 620.3h0M826.9 571.8h0M767.3 567h0M712.5 614.8h0M683.5 586.7h0M817.4 600.3h0M826.2 573.1h0M805.3 531.7h0M808.2 630.1h0M803.5 552.3h0" stroke="#2a1c52" stroke-width="1.5" stroke-linecap="round"/>
<path d="M798.3 604.9h0M828.9 525.8h0M796.9 583.5h0M750.9 534.7h0M684.7 534.3h0M763.1 568.8h0M831 517.5h0M771 578.7h0M714.5 590.7h0M747.8 503.2h0M801.4 611.7h0M795.9 583.2h0M843.6 492.4h0M750.6 567h0M680.3 610.2h0M762.9 619.5h0M781.5 566h0M829 564.7h0M706.8 541h0M759.1 607.9h0M692.3 492.6h0M822.1 562.9h0M770.2 537h0M814.1 541h0M764.3 498.3h0M814.3 608h0M827.7 610.8h0M830.7 539.2h0M817 514.4h0M729 499.5h0M778.8 615.1h0M834.2 575.2h0M831 592.5h0M819.7 562.9h0M777.4 546h0M783.4 584.9h0M784.8 541.5h0M827.1 556.4h0M828.1 610.3h0M689.6 494.9h0M766.6 528.7h0M729.6 571.9h0M811.6 537.9h0" stroke="#4a3c74" stroke-width="1.5" stroke-linecap="round"/>
<path d="M810.9 591.4h0M829.5 526h0M834.5 548.1h0M776.9 613.8h0M693.1 554.1h0M811.2 522.2h0M759.4 638.2h0M805 589.6h0M779.9 581.3h0M776.3 613.4h0M821 527.5h0M713.8 616.9h0M787.8 582.5h0" stroke="#7a6f9c" stroke-width="1.2" stroke-linecap="round"/>
<path d="M742.4 585h0M689.2 560.7h0M823.9 511.8h0M706.5 600.6h0M820.3 552.1h0M746.3 577.5h0M755.7 641.9h0M828.1 523.5h0M782.3 581.9h0M828.4 579.6h0M770.9 543.2h0M831.7 536.4h0M750.4 645.9h0M768.5 623.3h0M811.5 609.2h0M683.9 614h0M774.6 629.8h0M825.7 583h0M827.1 563.9h0M784 591.9h0M781.1 590.1h0M795.1 603.7h0M768.2 609.9h0M807.4 610.8h0M774.7 596.2h0M824.2 581h0M758.9 550.4h0M763.3 543.8h0M777.6 576.8h0M757 548.6h0M819.3 625.6h0M771.5 595.9h0M828.4 537.9h0M839.8 518h0M738.7 494.7h0M785.2 608.2h0M812.8 517.4h0M766.3 638.3h0M778.4 612.9h0M779.6 619.8h0M690.7 525.1h0M813.5 644.7h0M762.6 536.4h0M688.6 603.1h0M758.7 542.9h0M774.5 612h0M804.5 598.5h0M777.1 611.7h0M756.4 538.2h0M837.9 558.3h0M784.9 557.9h0M799.4 549.6h0M699.8 501.9h0M731.2 507.1h0M799 621.2h0M809.9 533.7h0M778.7 616.5h0M770.9 611.7h0" stroke="#3a2a62" stroke-width="1.5" stroke-linecap="round"/>
<path d="M816.6 521.8h0M803.2 608.8h0M812.1 547.3h0M685.3 534.7h0M803.1 583h0M745.2 633.3h0M773.5 650.4h0M755 641.7h0M827.7 494h0M721.8 504.4h0M777.6 629.4h0M818.4 560.1h0M767.5 564.8h0M697.6 593.9h0M760.2 637.3h0M801.1 591.1h0M823.9 548.1h0" stroke="#1e1340" stroke-width="2.4" stroke-linecap="round"/>
<path d="M832.9 615.9h0M823 556.6h0M760.5 570.6h0M820.1 601.8h0M749.1 627.9h0M763 648.3h0M692 597.5h0M768.9 614.5h0M771.6 627h0M804.1 579.9h0M826 534.7h0M816.9 531.6h0M829.5 572.2h0M753.4 642.1h0M688.3 577.1h0M700.8 510.8h0M821.4 571.1h0M810.6 617.6h0M757.1 542.4h0M756.3 564.3h0M829.5 635.1h0M830.5 587h0M752 594.8h0M797.2 494.7h0M806.1 522.5h0M799.7 589.2h0M739.5 604.6h0M789.3 556.7h0M826 622.3h0M761.6 525.9h0M786.4 603.8h0M823.7 503.5h0M813.4 560.4h0M830.1 507.8h0M834.3 557h0M779.1 573.2h0M819 587.6h0M834.6 563.8h0M809.3 569.3h0M776 523.7h0M771.4 628.5h0M813.8 579.2h0M755.1 608.3h0M811 602.7h0M781.2 619.1h0M783 526.8h0M750.6 552.5h0M807.2 607.6h0M820.5 557.7h0M780.6 618h0M759.5 601.1h0M825.5 585h0M778 632.2h0" stroke="#5e5284" stroke-width="1.5" stroke-linecap="round"/>
<path d="M748.8 610.1h0M755.9 621.3h0M692.4 519.3h0M779.1 646.2h0M760.9 528.7h0M816.2 574.5h0M835.1 637.8h0M704.3 587.4h0M747.3 592.8h0M679.1 510.1h0M760.7 586.8h0M765.2 630.5h0M836.1 523.6h0M778.9 592.7h0M750.3 568.3h0M700.2 553.9h0M702.4 561.8h0M769 629.8h0M820.3 639h0M801.9 521.8h0M682.3 563.9h0M786.1 615.5h0" stroke="#1e1340" stroke-width="1.2" stroke-linecap="round"/>
<path d="M742.5 619.8h0M754.8 497.9h0M693.3 538.4h0M695.4 546.4h0M783.3 550.1h0M759 586.4h0M692.3 501.6h0M685.3 582.2h0M819.5 574.9h0M841.1 564.2h0M818.7 557.8h0M826.3 570.2h0M772.5 524.2h0M694.1 568.4h0M784.6 568.8h0M833.2 594.1h0M820.7 627.1h0M762 619h0M778.8 582.8h0M722 519.5h0M803.4 617h0M826.3 562.7h0M749.5 546h0M690.4 581.5h0" stroke="#3a2a62" stroke-width="2.1" stroke-linecap="round"/>
<path d="M780.7 585.4h0M813.6 561.8h0M810.9 601.8h0M716.4 522.5h0M685.2 529.7h0M779.3 624.5h0M760 608.9h0M769.3 616.7h0M798.4 538.3h0M740.4 637.8h0M834.2 526.7h0M810.1 536.8h0M837 517.9h0M834.6 508.2h0M772.4 591.4h0M789.6 562.9h0M702.1 506.1h0M817.6 582.4h0M779.9 589.9h0M781.8 593.2h0M763.4 555.9h0" stroke="#5e5284" stroke-width="2.4" stroke-linecap="round"/>
<path d="M689.7 567.7h0M682 535.4h0M815.6 574h0M829.9 515.1h0M771.6 560.5h0M764.5 544.2h0M780.5 533.6h0M709.3 496.5h0M818.8 506.1h0M831.4 544.1h0M699.1 545.2h0M761.8 611.5h0M774.9 562.7h0M825.8 559.5h0M830.9 628.6h0M746.7 574.4h0M828.4 525.1h0M813.9 531.6h0M823.4 522.9h0M780.2 589.1h0M682.2 597.4h0M779.6 546.6h0M819.7 541.2h0M831.9 575.1h0M698.6 573h0M783.5 611.9h0M730.6 608.4h0M829.9 573h0M773.4 586.7h0M842 630.2h0M814.6 612.3h0M760.3 537.3h0M825.4 577.9h0M833.2 589.1h0M832.7 575.2h0M759.8 630.2h0M769.6 544.2h0M769.7 611.9h0M763.2 548.8h0M767.7 598.7h0M776.2 622.8h0M701.5 500.9h0M697.3 575.3h0" stroke="#7a6f9c" stroke-width="1.5" stroke-linecap="round"/>
<path d="M811.1 532.7h0M840.4 592h0M752.5 534.1h0M770 550.6h0M802.1 594.9h0M682.2 497.9h0M764.9 518.6h0M821.5 606.2h0M781.9 586.3h0M830.8 529.9h0M832.9 586.4h0M718.6 494.4h0M765.4 550.8h0M785.6 598.9h0M772.2 633.1h0M813.7 503.5h0M693 544.4h0" stroke="#4a3c74" stroke-width="2.4" stroke-linecap="round"/>
<path d="M787 621.7h0M839 585.8h0M806.9 593.5h0M762.6 537.9h0M773.3 594.3h0M784.6 615.2h0M825.7 544.6h0M799 533.3h0M813.1 599h0M695.6 545.2h0M694.5 531.6h0M749.4 577.6h0M810.1 518.3h0M770 514.4h0M747.8 635h0M807.6 584.6h0M780.1 627.9h0M766.4 626.8h0M823 492.6h0" stroke="#5e5284" stroke-width="1.2" stroke-linecap="round"/>
<path d="M827.8 590.1h0M770.5 579.1h0M769.4 549.4h0M815.9 604.4h0M692.8 572.3h0M748.5 607.1h0M810.1 573.1h0M822.4 532.7h0M781.7 610.2h0M771.1 522.6h0M809.5 615h0M779.5 640.1h0M765.5 642.3h0M754.2 546.6h0M686 524.8h0M691.4 538.8h0M761.8 635.1h0M815.2 527.7h0M773.7 640.3h0M782.4 565.4h0M820.2 519.6h0M754.5 604.2h0M801.4 616.4h0M832.3 584.4h0M816.5 643.1h0M784.8 570h0M757 619.5h0M794.8 582.8h0" stroke="#2a1c52" stroke-width="1.2" stroke-linecap="round"/>
<path d="M746 493.6h0M765.6 602.9h0M812.7 550.5h0M749.4 619.8h0M798.1 595.3h0M809.9 534.1h0M833.1 559.3h0M814.2 620.7h0M778 530.3h0M843.9 514.5h0M827.6 524.5h0M692 571.2h0M689 610.6h0M767.4 597.3h0M684.1 585.8h0M752 529.8h0M755.5 595.6h0M829.2 518.8h0M773.4 609h0M689.9 596.1h0M691.8 537.8h0M829.3 599.7h0M684.3 551.1h0M821.6 605h0M721.7 494.3h0M701.3 578.2h0M763.9 561.3h0M835.7 616.3h0M803.7 601h0M828.1 530.1h0M811.4 553h0M703.1 550.7h0" stroke="#5e5284" stroke-width="1.8" stroke-linecap="round"/>
<path d="M780.8 644.7h0M709.7 499.2h0M719.7 502.6h0M778.6 526.6h0M760.2 585.4h0M818.3 562.1h0M697.1 543.6h0M763.6 598.6h0M774.7 546.8h0M726.2 496.2h0M805.1 602.4h0M757.4 605.5h0M694.7 530.5h0M714.9 531.3h0M708.8 556.4h0M820 546.9h0M806.8 607.2h0M766.3 622.6h0M755.1 542.4h0M703 493h0M839.3 581h0M758.9 618.6h0M829.1 602.1h0" stroke="#2a1c52" stroke-width="2.4" stroke-linecap="round"/>
<path d="M751.5 553.5h0M750.7 624.3h0M777.8 612.5h0M798.5 613.8h0M762.6 568.7h0M782.4 547.5h0M776.6 530.6h0M834.4 543.5h0M834.4 629.7h0M775.7 530.9h0M810.9 582.3h0M778.6 540.7h0M818.7 585.4h0M814.5 594.6h0M815.4 567.1h0M825.2 529h0M684 615.5h0M814.1 585h0M747.3 592.4h0M690.3 500.6h0M827.1 525.1h0M773.1 619.3h0M754.4 601.9h0M818.7 562.4h0M767.2 582.5h0" stroke="#4a3c74" stroke-width="1.2" stroke-linecap="round"/>
<path d="M829.9 574.4h0M782.2 595.4h0M697.9 493.3h0M754.4 562.5h0M768.4 625h0M801.2 621.5h0M696.7 559.4h0M828.5 627.7h0M824 584.1h0M810.5 588.2h0M773.1 507h0M762.2 643.5h0M837.1 611h0M702.3 542.6h0M772.4 602.6h0M804.3 597.8h0M802.7 606.7h0M777.9 565h0M809 600.9h0M817 509.8h0M751.1 646.2h0M774.4 593h0M833.5 569.5h0M751.8 533.5h0M786.6 600.9h0M707 551.8h0M693.2 531.9h0M692.1 610h0M797.8 622.3h0M819 495h0M800.8 505.1h0M753.3 569.6h0M685.2 510.8h0M775.7 621h0M777.2 531.3h0M758.6 634.6h0M695.6 582.8h0M813.6 616.8h0" stroke="#1e1340" stroke-width="1.5" stroke-linecap="round"/>
<path d="M800.8 612.8h0M773.5 528h0M822.8 535.6h0M816.6 557.5h0M707.9 597.7h0M826.9 622.1h0M822.8 604.1h0M824.3 596.6h0M707.6 586.4h0M816.2 646.9h0M819 545.6h0M765.2 541.7h0M759.7 591.2h0M811.3 629.5h0M747 560.6h0M797.8 600.1h0M840.7 601.5h0M823.6 531.8h0M783.5 642h0M762.9 630.7h0M810.4 500.6h0M799.4 568.8h0M782.9 634.7h0M789.6 582.4h0M831.2 548.3h0M832.6 502.1h0M701.8 558.4h0M775.1 552.1h0M818.1 548.9h0M687 543.3h0M839.1 561.1h0M787.2 605.1h0M832.6 558h0M825.5 518.2h0M835 610.7h0M705.4 504.7h0M755.5 620.3h0M804.4 527.1h0M701.4 578.7h0M686.4 606.9h0M813.8 504.1h0M820.8 633.7h0" stroke="#7a6f9c" stroke-width="1.8" stroke-linecap="round"/>
<path d="M696.2 596h0M743.4 599.8h0M746.8 556.2h0M822.1 572.4h0M835.6 584.1h0M697.3 557.3h0M694.4 589.7h0M807 603.6h0M722.9 501h0M801.7 618.4h0M755 600.1h0M772.7 619.9h0M787 584.5h0M756 576.6h0M758.9 615.2h0M817.9 534.4h0M809 570.8h0M833.4 561h0M772.4 557.1h0M810.4 579.6h0M825.3 559.4h0M779.1 639.8h0" stroke="#5e5284" stroke-width="2.1" stroke-linecap="round"/>
<path d="M728.4 496.8h0M756.4 613.7h0M779.4 646h0M742.6 499.3h0M756.8 639.8h0M768.7 622.9h0M826.2 506.4h0M820.6 548.9h0M786.2 593.6h0M776.5 544h0M740.3 494.5h0M696.9 572.5h0M821.5 571.6h0M825 601.7h0" stroke="#1e1340" stroke-width="2.1" stroke-linecap="round"/>
<path d="M801 626.3h0M704.7 499.5h0M826.8 565h0M832.6 625.8h0M749.8 521.6h0M824.1 527.5h0M826.2 534.4h0M690.9 618.3h0M833.4 545.5h0M727.4 500.6h0M777.6 550.2h0M842.3 593.2h0M752.5 579.8h0M698.8 584.9h0M687.9 507.8h0M763 602.9h0M717.9 495h0M797.8 617.8h0M834.4 556.7h0M785.4 603.9h0M815.6 551.3h0M752.3 527.5h0M811.4 617h0" stroke="#3a2a62" stroke-width="1.2" stroke-linecap="round"/>
<path d="M682.8 520h0M752.4 568.8h0M772.2 610.8h0M824.9 558.5h0M781.5 571.5h0M787.2 620.2h0M836.5 533.8h0M772.7 569h0M770.9 582.3h0M690.8 612.6h0M831 601.9h0M821.5 584.9h0M781.1 602.9h0M819.9 525.9h0M809.1 529.6h0M679.6 567.4h0M822.2 619.3h0M778.3 587h0M799.1 611.2h0" stroke="#4a3c74" stroke-width="2.1" stroke-linecap="round"/>
<path d="M808.6 613.2h0M832.8 542.4h0M698.8 560.4h0M705.4 566h0M683.8 527.8h0M781.1 566h0M843.5 563.6h0M697.4 611h0M770 550h0M813.2 565.5h0M800.5 592.8h0M826.6 598.7h0M703 567.7h0M826.1 595h0M818.1 619.7h0M816.9 625.8h0M777.4 527.1h0" stroke="#2a1c52" stroke-width="2.1" stroke-linecap="round"/>
<path d="M770.8 576.2h0M695.4 601.1h0M697.4 569h0M767.7 593.2h0M767.8 644.8h0M815.3 507h0M826.4 530h0M824 540.2h0M813.1 611.8h0M774.5 627.5h0M767.9 617.2h0M815 539.5h0M682.8 507h0M768 540.2h0M796.3 606.1h0M754.8 536.9h0M689.6 502.5h0M680.7 560.5h0" stroke="#7a6f9c" stroke-width="2.1" stroke-linecap="round"/>
<path d="M679 622.5C681.5 621.8 688.9 619.5 693.9 618.4C698.8 617.2 705.1 615.2 708.7 615.9C712.3 616.5 712.8 619.7 715.3 622.5C717.8 625.3 720.5 628.9 723.5 632.5C726.6 636.2 729.9 641.3 733.5 644.2C737 647.2 739 648.7 745 650.1C751 651.4 760.7 651.9 769.8 652.3C778.8 652.6 790.9 653.1 799.5 652.3C808 651.4 813.5 649.5 820.9 647.2C828.3 645 840.1 640.3 844 638.9" fill="none" stroke="#3c2e5c" stroke-width="2.0" stroke-linejoin="round"/>
</g>
<text x="742.8" y="561.8" font-size="18.5" font-weight="bold" textLength="35" lengthAdjust="spacingAndGlyphs">ATn</text>
<text x="741.8" y="641.3" font-size="18.5" font-weight="bold" textLength="34" lengthAdjust="spacingAndGlyphs">NLT</text>
<path d="M818 653.7H836.9" stroke="#000" stroke-width="2.4"/>
<clipPath id="c01"><rect x="850.6" y="490.6" width="164.8" height="167"/></clipPath>
<g clip-path="url(#c01)">
<rect x="850.6" y="490.6" width="164.8" height="167" fill="#e6e1e8"/>
<rect x="850.6" y="490.6" width="164.8" height="167" filter="url(#tex1)"/>
<ellipse cx="928.1" cy="574.1" rx="33" ry="50.1" fill="#6a5a90" opacity="0.2" filter="url(#blur8)"/>
<ellipse cx="994" cy="565.8" rx="21.4" ry="75.2" fill="#6a5a90" opacity="0.22" filter="url(#blur8)"/>
<path d="M850.6 625.9C856.9 620.6 879.2 624.8 888.5 625.9C897.8 627 901.1 630.6 906.6 632.5C912.1 634.5 917.1 637.3 921.5 637.6C925.9 637.8 928.3 634.5 933 634.2C937.7 633.9 944 635.9 949.5 635.9C955 635.9 962.1 633.4 966 634.2C969.8 635.1 970.9 637 972.6 640.9C974.2 644.8 996.2 654.8 975.8 657.6C955.5 660.4 871.5 662.9 850.6 657.6C829.7 652.3 844.3 631.2 850.6 625.9Z" fill="#f8f7f4"/>
<path d="M962.3 515.6C962.7 512.9 964.5 512.9 965.1 515.6C965.7 518.4 966.3 529.6 966 532.4C965.6 535.1 963.8 535.1 963.2 532.4C962.6 529.6 962 518.4 962.3 515.6Z" fill="#f8f7f4"/>
<ellipse cx="934.6" cy="646.7" rx="15.7" ry="14.2" fill="#d9d3df" filter="url(#blur1)"/>
<ellipse cx="960.2" cy="645.9" rx="12.4" ry="12.5" fill="#e4e0e8" filter="url(#blur1)"/>
<path d="M894.8 496.6h0M916.8 576.6h0M1009.9 543.5h0M917.5 584.1h0M886.1 567.2h0M883.6 498.4h0M974.9 573.2h0M986.7 577.4h0M995 653.7h0M930.8 592.1h0M1001.9 522.8h0M913.1 569.8h0M969.3 503.1h0M912.7 573.2h0M989.7 611.3h0M878.2 592.3h0M904 558.4h0M1005.8 593.7h0M908.1 584.6h0M987.4 592.3h0M990.6 632.9h0M994.7 520.8h0M896.5 509.6h0M917.9 571.2h0M991.6 603.9h0M996.9 520.6h0M908.3 531.9h0M1000.1 501.7h0M894.4 543.1h0M938 602.7h0M923.9 617.9h0M919.9 622.9h0M945.7 508.5h0M1006.4 634.6h0M924.1 593.2h0M939.1 585.1h0M921.1 632.2h0M985.4 577.2h0M1005.7 640.1h0M912.2 575.3h0M991.6 609.2h0M931.2 574h0M938.2 534.9h0M877.9 504.3h0M918.5 540h0M994.9 503h0M963.3 505.5h0M907.9 559.6h0M974.5 513.5h0M995.8 517.4h0M996.2 592.4h0M1013.9 515.5h0M918.3 566.7h0M1014 555.3h0M1008.2 599.2h0M994.8 501.1h0M990.3 570h0M920 522.7h0M1011 542.5h0M945.1 506.8h0" stroke="#3a2a62" stroke-width="1.8" stroke-linecap="round"/>
<path d="M971.7 578h0M983.4 561.7h0M889.9 552.6h0M894.2 543h0M890.5 503.4h0M895.3 621.9h0M1013.8 547h0M1007 525.4h0M962.1 506.3h0M879 493.8h0M977.6 641.6h0M956.9 523.2h0M937.5 567.8h0M1002.3 615h0M992.4 566h0M937.1 568.6h0M956.7 547.7h0M979.7 518.6h0M929.2 572.1h0M935.5 575.4h0M912.1 544h0M1006.7 579.3h0M894.2 599h0M904.2 568.8h0M905.2 581.7h0M1000.4 574.3h0M960.1 604.7h0M1002.9 630.7h0M930.8 579.9h0M960.7 515.2h0M980.9 553.9h0M907.3 599.1h0M1014.6 556.3h0M1008.9 607.9h0M940.1 565h0M949.3 610.9h0M927.6 599h0M1011.2 533.9h0M968.4 594.2h0M924.7 616h0M970.2 608.5h0M980.1 648h0M1006.5 549.1h0M959.2 612.4h0M909.9 516.7h0M1010.9 602.9h0M973.2 498.5h0M907 583.7h0M981.5 603.4h0M987.3 657.2h0M990.4 601.1h0M989 621.4h0M949.1 544.4h0M925.1 576.9h0M997.4 546.5h0M933.8 579.4h0M923.2 544.2h0M981.4 612.8h0" stroke="#1e1340" stroke-width="1.8" stroke-linecap="round"/>
<path d="M1001.6 608.9h0M878.7 505.2h0M1009.3 545.6h0M958.9 617.6h0M988.2 596.9h0M924.9 557.5h0M925 572.6h0M1004.1 622.2h0M930 557.8h0M948.2 558.1h0M1010.6 636.3h0M930.3 647.4h0M910.2 589.2h0M917.1 587.8h0M987.6 600.3h0M936.9 612.3h0M893.5 566.7h0M959.8 524.1h0M901.5 589h0M882.4 599.4h0M980.6 656.7h0M937.2 566.9h0M954.6 606.1h0M987.6 551.7h0M1002.8 591.1h0M987.5 606.4h0M987.9 578.4h0M978.8 552.2h0M996.1 605h0M1008.5 569.4h0M888.6 603.8h0M1006.3 548.2h0M1000.2 589.6h0M916 541.2h0M940.7 597.5h0M874.4 614.3h0M1007.1 608.6h0M904.8 517.8h0M950.8 563.6h0M993.4 651.3h0M892.2 499.8h0M1010.2 645h0M989.2 512.6h0M876.2 502.2h0M918.1 587.5h0" stroke="#2a1c52" stroke-width="1.5" stroke-linecap="round"/>
<path d="M997.2 593.1h0M1004 573.8h0M945.5 600.9h0M907.2 589.3h0M918.8 586.5h0M879.4 502.5h0M948.2 547.4h0M1001.3 563.5h0M950 543.9h0M905.7 603h0M946.3 508.2h0M908.3 590.2h0M933.5 562.7h0M1011.4 638.6h0M1005.7 555.3h0M936.2 555h0M1012.3 551.8h0M922.1 565.1h0M999.9 530.5h0M954.9 518.7h0M997.1 623.3h0M906.4 619.4h0M998.2 616.2h0M1000.4 526h0M1004.6 587.2h0M997.3 575.4h0" stroke="#3a2a62" stroke-width="1.2" stroke-linecap="round"/>
<path d="M988 610.8h0M902.3 512.2h0M992.1 655.6h0M999.6 538.2h0M993.5 558.5h0M986.5 554.7h0M907.2 534.8h0M1005.3 601.8h0M953.9 596.7h0M932.5 552.9h0M920.1 560h0M982.3 563.6h0M982.4 570.3h0M877.9 621.4h0M1009.5 569.5h0M903.6 533.7h0M916.1 557.5h0M903.1 561.9h0M985.9 623.4h0M998.9 499.4h0M943.9 509.4h0M917.8 608.7h0M955.7 554.3h0M977.5 566.6h0M982.7 619.6h0M991.1 504h0M988.3 617h0M904.1 630.2h0M935 499.3h0M885 568.6h0M950.8 557.3h0M931.1 559.5h0M999.8 558.1h0M928.2 562.1h0M1004.4 530.5h0M976 573.5h0M914 556.4h0M927.7 578.8h0M936.9 531.3h0M921.6 609h0M1004.8 549.4h0M1002.4 599.1h0M998.6 596.7h0M929.7 598.2h0M974.6 533.7h0M1001.6 637.1h0M998.4 637.9h0M870.2 542.6h0M937.4 612.2h0M1005.4 578.5h0M998.1 532.9h0M915.6 608.1h0M931.1 640.1h0M1000.6 633.6h0M996.3 563.3h0M1012 647.4h0M984.3 542.1h0M969.8 566.9h0M1007.9 638.4h0M1005.7 623.4h0M943 609.5h0M933.4 572.2h0M953.9 522.1h0M910.1 627.5h0M924.2 584.7h0M991.6 626.9h0M980.7 594.2h0M992.5 574.4h0M948.3 521.8h0M998.1 524.3h0M968 645.7h0M996.9 599.5h0" stroke="#4a3c74" stroke-width="1.8" stroke-linecap="round"/>
<path d="M897.2 568.7h0M928 577.7h0M996.5 612.3h0M978.1 626.6h0M939.6 556.6h0M893.9 559.3h0M985.3 555.6h0M999.8 570.4h0M872.7 506h0M989.1 540.6h0M996.6 604.9h0M1000.8 571.4h0M906.5 614.8h0M927 617.3h0M975 582.2h0M906.3 543.6h0M998 563.4h0M971.1 525.8h0M1005.1 499.4h0M984.7 572.3h0M926.9 605.9h0M989.6 546.1h0M992.6 581.3h0M969.7 582.2h0" stroke="#5e5284" stroke-width="1.2" stroke-linecap="round"/>
<path d="M943.1 577.9h0M927 509h0M915.2 589.3h0M918.2 553.6h0M971.4 573h0M913 599.4h0M935.1 562.9h0M917.5 581.5h0M914.4 589.1h0M962.3 615.3h0M993.7 544.3h0M990.2 550h0M939.9 531.8h0M977.6 594.9h0M881.4 499.8h0M997.3 500.6h0M999.8 570.9h0M991.9 621h0M897.9 603.7h0M925.6 567.2h0M911.7 568h0M972 500.8h0M902.2 591.9h0M1002.5 569.2h0M906.7 511.2h0M1008.5 536.4h0M957.6 508.3h0M924.8 558.8h0M966.1 645.8h0M910.1 624.5h0" stroke="#1e1340" stroke-width="1.2" stroke-linecap="round"/>
<path d="M1008.4 528.6h0M1008.9 505.4h0M999.3 585h0M933 533h0M988.9 602.6h0M987 613.8h0M871.2 620.5h0M910.7 566.4h0M922.7 549.7h0M1002.5 566.1h0M924.5 609.4h0M865.3 574.5h0M882.9 590.7h0M897.7 535.8h0M954.6 575.2h0M993 530.8h0M933.8 595.8h0M1004.6 545.5h0M1001.7 515.9h0M940.4 540h0M987.1 624.9h0M1001.7 569.2h0M939.2 620.4h0M917.9 593.7h0M913.2 618.9h0M890.2 494.7h0M991.2 539.5h0M970.2 561.8h0M1010.2 649.3h0M944.3 563.1h0M966.2 609.7h0M1005.2 647.7h0" stroke="#4a3c74" stroke-width="2.4" stroke-linecap="round"/>
<path d="M992 569.9h0M1011.2 551.7h0M941.2 591.2h0M912.4 575.7h0M961.2 573.3h0M930.9 619.3h0M995 497.3h0M919 569h0M1010.2 647.5h0M947.8 529.7h0M990.6 492.4h0M913.2 557.1h0M999.3 596.8h0M1014 548.8h0M1001.1 633h0M953.7 528.6h0M953.8 638.3h0M991.5 550.3h0M1005.8 578.6h0M888.8 604.1h0M927.9 547.8h0M995.7 647h0M949.4 598.1h0M1012.4 582.6h0M911.5 598.9h0M928.1 589.6h0M1008.3 558.2h0M909.8 610.4h0M965.1 579.6h0M894 577.5h0M997.1 583.3h0M934.2 548.8h0M998.3 636.4h0M917.9 556.6h0M1004.1 555.3h0M978.7 640h0M990.7 562.4h0M962.7 636.3h0M907.2 548.2h0M942.7 553h0M989.3 611.7h0M991.8 545.9h0M907.3 623.7h0M991.2 553.4h0M1006.1 597.2h0M914.2 578.2h0M1002.2 507h0M916.6 602.1h0M989.4 618.6h0M983.1 568.7h0M1003.2 512h0M973.9 520.3h0M989.2 569.5h0" stroke="#5e5284" stroke-width="1.5" stroke-linecap="round"/>
<path d="M990.6 577.2h0M976.6 596h0M921.4 577.9h0M920 562h0M934.6 590.3h0M996 532.7h0M986.9 639h0M983.6 529.9h0M962.9 584.5h0M974.5 594.7h0M937.3 554.7h0M990.9 533.2h0M958.2 551.7h0M1001 599.5h0M929.2 539.2h0M925 571.5h0M925 558.2h0M937.7 532.4h0M858.1 508.3h0M981 572.1h0M947.1 609.2h0M935.1 597h0M980 565h0M996.3 601.8h0M997.5 611.4h0M960 609.1h0M971.6 598.8h0M906 577.3h0M993.5 578.1h0M965.7 622.2h0M1000.8 648.3h0M970.6 558.4h0M986.6 623.7h0M891.4 557.2h0M975.2 516.6h0M1006.4 602.6h0M1002.7 507.3h0M951.2 568.5h0M879.4 500.2h0M978.4 557.5h0M963.5 601.2h0" stroke="#7a6f9c" stroke-width="1.8" stroke-linecap="round"/>
<path d="M906.7 630.5h0M956 622h0M962.4 572.8h0M998.2 580.9h0M986.8 574.2h0M858.8 516.1h0M992.6 581.7h0M929.4 586.5h0M893.8 578.1h0M936.1 584.8h0M928.4 504.7h0M926.4 499.6h0M936.5 558.3h0M873.7 579.5h0M936.8 579.3h0M1013 518.7h0M925.4 597.4h0M1002.7 582.5h0M962.5 634.4h0M991.7 534.8h0M1003.5 530.4h0M951 512.4h0M999.6 590.8h0M941.3 627.1h0M908.9 570.2h0M983.7 597.8h0M988.7 568.4h0M905.4 555.8h0M937.4 580.7h0" stroke="#5e5284" stroke-width="2.1" stroke-linecap="round"/>
<path d="M896.9 599.4h0M903.6 502.6h0M890.8 542.6h0M927.4 561.4h0M958.1 628.8h0M906.6 629.7h0M933 543.4h0M920.3 565.9h0M938.4 536.7h0M994.8 523.3h0M981.9 611.3h0M911.4 598.2h0M1006.9 532.3h0M934.5 567h0M998.6 573.4h0M895.4 586.4h0M1002.6 604.2h0M973.3 580.3h0M915 602h0M900.8 573.7h0M933.4 579.9h0M996.5 576.2h0M1009.2 546.6h0M923.7 503.7h0M958.2 576.1h0M878.9 598.6h0M980.8 550.2h0M1009.3 643.5h0M907.4 543.3h0M915.8 535.1h0M1006.1 526.4h0M988.6 631.3h0M946.5 604.8h0M916.7 558.3h0M925.1 556h0M966.5 538.7h0M987 516.9h0M923.5 592.3h0M909 583.4h0M987.1 557.8h0M977.4 552.4h0M1008.2 622.7h0M1012 572.2h0M922.5 588.7h0M984.5 582.4h0M878.4 560.8h0M948.7 623h0M945.8 555.6h0M915.7 606.4h0M925.8 580h0M935.4 592h0M905.4 534h0M878.5 536.1h0M968.6 608h0M995.4 560.6h0M981.8 498.1h0M916.8 553.2h0M987 574.5h0M996.6 503h0M983.8 565.6h0M1013.6 562h0M893.7 593.9h0M996.8 593.5h0M937.1 593.9h0M991.7 517h0" stroke="#5e5284" stroke-width="1.8" stroke-linecap="round"/>
<path d="M926.6 577.7h0M996.6 544.1h0M1007 619.2h0M972 529.3h0M992.5 630.6h0M998.5 646.6h0M898.1 581.5h0M967.4 524.6h0M898.9 490.8h0M994.7 633.6h0M982.5 542.1h0M1006.6 516.8h0M862.5 499.3h0M992.5 494.5h0M908.8 596.2h0M1001.9 547.1h0M992.7 619.3h0M973.3 564.9h0M992 567.8h0M887.9 591.9h0M977.1 622h0M991.4 588.3h0M945.5 506.3h0M994.1 562.7h0M915.6 586.8h0M956.9 619.5h0M1008.3 557.6h0M980.4 509.7h0M994.2 609.4h0M993.9 557.4h0M1000.5 537.1h0M944.7 510.8h0M999 625.1h0M920.4 578.8h0" stroke="#4a3c74" stroke-width="2.1" stroke-linecap="round"/>
<path d="M884.6 507.5h0M931.5 531h0M899.6 587.1h0M868.5 595.7h0M996.5 558h0M932.6 520.9h0M986.9 605.3h0M914.3 586.9h0M940.8 568.9h0M926 598.5h0M986.9 510.3h0M985.6 584.3h0M908 523.9h0M1001.3 527.9h0M986.6 627.2h0M966.2 608.8h0M1008.7 594.2h0M920.3 591.4h0M980.4 555.3h0M909.5 591.3h0M999 497h0M926.7 599.7h0M987 577.3h0M905.3 583.1h0M987.9 610.3h0" stroke="#3a2a62" stroke-width="2.4" stroke-linecap="round"/>
<path d="M928.2 545h0M997.2 590.8h0M953.2 629.3h0M1010.8 510.4h0M989 534.3h0M928.1 545.3h0M986.7 609h0M944.9 634.1h0M920.2 541.3h0M936.2 554.7h0M989.4 565.5h0M922 583.6h0M998.2 656.7h0M1007.7 638.6h0M996 586.7h0M997.5 594.3h0M930.8 641h0M900.5 492.5h0M972.2 624.8h0M965.5 507.2h0M983.3 569.8h0M920.8 593.3h0M922.1 530.6h0M927.7 604.3h0M992.6 545.4h0M980.5 628.1h0M1000.2 552.2h0M1007.9 522h0M993.9 501.9h0M918.5 569.7h0M986 504.3h0" stroke="#1e1340" stroke-width="2.4" stroke-linecap="round"/>
<path d="M920.5 576.5h0M951.1 591.6h0M982 509.7h0M986.8 565.6h0M939.2 597.1h0M995.4 623.3h0M992.3 546.6h0M994.7 571.2h0M911.7 600.6h0M896.1 573.3h0M1010.5 529.4h0M941.4 559.5h0M934.5 595.4h0M1006.3 564.8h0M1010.3 640.5h0M1003.6 575.4h0M1005.6 551.3h0M880 499.6h0M994.8 579h0M904.8 576h0M928.7 564.2h0M994.7 648.6h0M954 630.4h0M998.1 567.9h0M996.7 655.1h0M997.4 574.3h0M993.2 601.2h0" stroke="#1e1340" stroke-width="2.1" stroke-linecap="round"/>
<path d="M985.4 546h0M989 557.9h0M891 592.1h0M929.7 539.2h0M1004.9 599.8h0M1009.9 507.2h0M992.1 493.1h0M1003.5 628.1h0M1009.5 511h0M1001.9 552.9h0M993 534.8h0M948.4 528.1h0M1004.1 508.1h0M905.4 597h0M954.3 639.4h0M998.2 604.2h0M933.5 580.4h0M921.6 573.6h0M931.3 599.6h0M996 523.1h0M917.4 616.1h0M933.5 566.2h0M978 573.7h0M982.2 608.6h0M934.4 557.7h0M866.1 594.9h0M989.9 559.8h0M977.4 564.4h0M947.3 621.6h0M1002.6 568.2h0M973 574.4h0M951.5 607.1h0M987 554.8h0M999.6 566.8h0M1015.2 643.8h0M888 494.9h0M977.6 640.5h0M1005.8 560.6h0M900 493.3h0M885.5 501h0M944.3 523.6h0M943.3 608.8h0M1004.3 577.6h0M994.8 573.6h0M966.6 618.5h0" stroke="#3a2a62" stroke-width="2.1" stroke-linecap="round"/>
<path d="M925.1 617.5h0M1008.7 527.4h0M1000.6 539.3h0M919 581h0M983.2 629.4h0M929.8 573.4h0M944.6 491.9h0M952.8 632.9h0M960.2 604.3h0M996.3 507.3h0M936.8 554h0M968.9 579.1h0M904.3 538.1h0M978.8 600.1h0M932.4 576h0M977.7 573.4h0M1003.2 513.7h0M892.5 564.3h0M972.3 523.1h0M898.9 573.1h0M1015.4 628.3h0M988.6 617h0M980.5 567.8h0M982.9 561.6h0M897.8 575.6h0M1004 646.5h0M978.1 647.5h0M942.9 589.9h0M999.6 492h0M937.9 635.4h0M1001.1 629.2h0M1004 542.5h0M948.8 533.2h0M984.1 631.2h0M926.7 573.4h0M996.9 557.2h0M909.3 597.5h0M899 525.8h0M962.6 600.3h0M939.4 595.6h0M994.4 537.2h0M918.6 519.2h0M953.5 631.7h0M901.8 565.4h0M912 597.2h0M939.5 557.4h0M1003.6 553.7h0M979.8 548h0M913.3 572.7h0M923.1 579.6h0M971.5 493.4h0M926.9 585h0M923.9 537.9h0M926.4 593.5h0M993.1 596h0M984.9 557.2h0M1004.4 540.4h0M928.9 596.1h0" stroke="#4a3c74" stroke-width="1.5" stroke-linecap="round"/>
<path d="M907.2 570.2h0M982.3 575.7h0M905.1 579.7h0M948.3 595.5h0M990.6 604.7h0M946.2 587.8h0M1010.9 563h0M933.3 618.3h0M1002.7 507.7h0M989.8 651.7h0M991.4 540.4h0M942.8 629.9h0M921.5 569.2h0M958.3 582.6h0M915.5 601.2h0M905.6 525.5h0M972.1 536.1h0M940.7 518.9h0M971 595h0M990.2 579.2h0M947.6 632.8h0M1003.3 526.9h0M939.8 570.1h0M908.1 598h0M886.1 529.3h0M936.6 620.6h0M887.1 602.1h0M946 613.6h0M1010.5 570.6h0M983.8 498.4h0M997.5 535.3h0M999.9 622h0M990.9 584.2h0M926.3 591.3h0M931 549.2h0M980.9 535.2h0M913 592.3h0M899 579.7h0M980.1 551.9h0M906.1 607.3h0M996.2 546.2h0M941.5 509.9h0M996.8 581.7h0M925.8 545.6h0M1001 495h0M994.5 586.6h0M964 533.7h0M1007.5 597h0M967.5 506.9h0M936.7 592.9h0M874.5 498.1h0M974.4 560.5h0" stroke="#7a6f9c" stroke-width="1.5" stroke-linecap="round"/>
<path d="M914.5 596.1h0M992.8 497.6h0M899.4 581.8h0M935.9 558.8h0M957.7 558.4h0M996.2 550h0M994.2 594.3h0M889.3 496.9h0M940.2 559.3h0M1013.8 532.3h0M928.7 610.1h0M898.4 589.6h0M898.8 578.9h0M998.4 585.5h0M920.7 603.8h0M947.2 538.8h0M995.9 600.8h0M951.4 588.8h0M1001.7 656.6h0M971.3 539.8h0M995.3 498.1h0M996 505.6h0M1003.6 576.4h0M941.3 587.2h0M1001.6 630.8h0M1009.1 580.3h0M961.4 618h0M998.3 527.1h0M932 556.1h0M986.1 637.4h0M1005.8 592.4h0" stroke="#2a1c52" stroke-width="1.2" stroke-linecap="round"/>
<path d="M955.5 534.8h0M976.7 614.9h0M989 589.9h0M945.5 624.7h0M943.9 613.1h0M912.6 533.9h0M1007.1 552.9h0M984.1 547h0M994.8 572.7h0M982.6 555.6h0M976.3 609.3h0M908.1 546h0M901.5 496.3h0M919.9 618.4h0M925 556.8h0M903.1 545.7h0M1002 518h0M998 552.9h0M1001.8 515.3h0M1014.4 651.2h0M988.5 583.9h0M1006.2 579h0M952.9 529.9h0M927.7 576.7h0M991.9 640.8h0M896.6 607.1h0M929.2 580.9h0M900.3 605.3h0M907.7 565.7h0M930.8 585h0M991.8 610.6h0M938.9 515.7h0M873 571.6h0M1007.3 511h0M988.7 557.8h0M915.7 577.4h0M982.7 549.7h0M991.9 530.8h0M921.6 546.4h0M903.3 571.1h0M899 537.8h0M977.3 514.7h0M998.9 496.8h0M953.7 605.7h0M926 592.1h0M996.1 525.6h0M881.9 498.6h0M993.4 554h0M914.4 560.3h0M921.4 587.9h0M984.8 511.6h0M940 610.1h0M905.5 554.9h0M891 588.4h0M937 532.1h0" stroke="#3a2a62" stroke-width="1.5" stroke-linecap="round"/>
<path d="M995.9 576.7h0M949.3 622.2h0M996.6 536.6h0M1003.7 581.2h0M941.5 598.4h0M907.8 582.8h0M1004.7 632.4h0M974.9 591.1h0M901.3 553.6h0M922.9 518.6h0M913.4 531.5h0M925.6 541.3h0M992.7 557.1h0M903.8 604.6h0M924.8 554.7h0M997.7 605.7h0M1009.3 546.5h0M984.8 652.1h0M900.3 581.4h0M1003.5 520.5h0M994.9 512.5h0M1001.2 545.4h0M918.5 538.1h0M947.2 599.5h0M966.2 645.3h0M862.4 500.9h0" stroke="#7a6f9c" stroke-width="2.4" stroke-linecap="round"/>
<path d="M920.7 541.8h0M982.8 518.1h0M1000.6 541h0M1007.9 533.7h0M897.1 583.9h0M977.8 496.9h0M926.5 567.1h0M919.3 594.9h0M1002.6 519.1h0M1011.4 599.3h0M999.8 572h0M969.8 613.9h0M917.2 517.5h0M1000.2 571.5h0M951 501.6h0M959.2 531.9h0M940.6 526.7h0M982.3 566.4h0M947.4 499.2h0M894.9 586.6h0M943.1 532.1h0M992.6 602.6h0M877.3 498.8h0M975.7 586.5h0M997.9 584.5h0M991.1 535h0M999.2 563.6h0M992.8 553h0M929.1 529.1h0M1005.9 646.1h0M927.3 603.2h0M939.2 612.9h0" stroke="#2a1c52" stroke-width="2.4" stroke-linecap="round"/>
<path d="M918.9 607h0M997.9 557.7h0M876.1 496.8h0M919.4 616.3h0M1013 587.7h0M964.5 490.6h0M926.5 574.4h0M996.3 589.9h0M898.7 589.9h0M989.3 589.3h0M984.5 548.9h0M971.1 619.4h0M873.3 496.2h0M1010.8 617.8h0M1007.2 571.1h0M984 553.9h0M932.9 586.9h0M968.1 605.7h0M981.9 565.9h0M953.3 639.4h0M889 563.7h0M972.8 589.3h0M1010.4 614.8h0M892.4 595.3h0M961.5 571.1h0M1007.3 562.9h0" stroke="#5e5284" stroke-width="2.4" stroke-linecap="round"/>
<path d="M919.2 566.7h0M854.1 611.6h0M854.9 610.3h0M952.3 546.8h0M942.9 580.4h0M927.7 561.7h0M996.2 493.6h0M922.6 603.7h0M918 545h0M992.2 654.3h0M902.6 559h0M974.6 610.2h0M969 562.9h0M918.8 547.6h0M925.5 576.2h0M992.8 554h0M925.5 585.2h0M943.3 574.4h0M882.5 556.8h0M1003.1 530.7h0M996.1 643.7h0M909 583.1h0M940.9 495.8h0M929.8 570.7h0M925.5 554.1h0M988 648.9h0M932.2 548.7h0M981.6 648.9h0M928.6 569.6h0M984.1 624.7h0M891.9 617.1h0M957.8 592h0M992 578.3h0M1012.8 653.9h0M985.4 589.2h0M1013.9 636.5h0M1002.4 539.8h0M919.1 614h0M950.3 498.8h0M993.8 602.2h0M995 640.4h0M935 595.4h0M976.2 646.8h0M952.3 628.6h0M996.5 608.8h0M945.1 495.4h0M1007.6 528.9h0M975.5 632.6h0M949.5 512.8h0M968.2 571.4h0" stroke="#1e1340" stroke-width="1.5" stroke-linecap="round"/>
<path d="M979.6 540.7h0M1015.2 567.9h0M894.6 594.4h0M998.2 542.5h0M1001.2 599.4h0M931.3 606.1h0M1008 620.6h0M924.8 559.6h0M878.7 548h0M960.8 525.3h0M904.8 612.6h0M993.7 605.7h0M922.8 572h0M1002.3 552.5h0M929.4 499h0M942.3 603.8h0M931.4 562.3h0M991.3 650.8h0M1002.7 563.6h0M1000.9 572.6h0M917 524.4h0M999.2 497.6h0M900.2 583.6h0M890.8 559.4h0M1001.4 649.5h0M887.2 492.6h0M1002.2 567.8h0M882.3 512.2h0M895.6 496.1h0M991.2 649.6h0M924.2 601.5h0M993 514.4h0M1000 509.1h0M1002.8 616.3h0M1007.8 570.4h0M983.4 530.5h0M882.6 542.6h0M992.5 653.9h0M919.8 566.8h0M999.4 549.8h0M955.2 583.6h0M984.3 520.9h0M1004.7 497.9h0M967.4 610.6h0M959.3 606.6h0" stroke="#2a1c52" stroke-width="2.1" stroke-linecap="round"/>
<path d="M999.8 641.8h0M908.3 544.4h0M950 622.8h0M1002.9 589.3h0M913.8 517.3h0M923.6 519h0M992 626.7h0M902.3 504.3h0M925.3 540.8h0M942.7 616.6h0M996.7 645.9h0M1009.3 591.1h0M1000.1 506.3h0M898.5 493.7h0M916.7 607.4h0M935.5 549.9h0M988.6 584h0M905.3 615.2h0M992 654.3h0M937.2 573.7h0M986.5 554.8h0M975.4 639.8h0M902.7 610.8h0M992.9 583.5h0M990.7 572.2h0M999.3 532.8h0M951.6 621.9h0M958.8 645.6h0M991.6 624.9h0M1006.9 550.2h0M1006.1 557.7h0M1007.6 598h0M996.1 603.1h0M934 563.5h0M944.2 619.1h0M922.9 535.1h0M927.6 554h0M948.6 525.9h0M954.8 530.9h0M880.9 551.1h0M945.4 557.3h0M923.5 558.2h0M906.2 547.1h0M891.7 549.1h0M933.9 580.8h0M955.2 574.3h0M921.4 533h0M983.6 581.9h0M971.1 566.9h0M993.4 545.5h0M926.9 546.9h0M994.8 500.4h0" stroke="#2a1c52" stroke-width="1.8" stroke-linecap="round"/>
<path d="M910.8 591.2h0M882.8 566.3h0M979 561.4h0M909.3 504h0M942.8 571.5h0M908.9 563.1h0M951.5 555.8h0M891.5 492.7h0M969.2 593.6h0M921.3 531h0M907.9 630.7h0M943.5 567.2h0M980.5 582.8h0M983.5 573h0M941.5 603.1h0M994.4 498.7h0M936.6 625.7h0M947.2 593.8h0M924.7 606.3h0M989.9 548.4h0M990 570.9h0M944.7 599.1h0M991.6 529.5h0M869.1 498.1h0M932.4 570.3h0M1006.1 562.7h0M1013.4 514.4h0M935.8 568.8h0M977.4 577.9h0M941.6 540.9h0M987 577.7h0M909.6 544.8h0M974.3 564.4h0M950.4 571.7h0" stroke="#7a6f9c" stroke-width="1.2" stroke-linecap="round"/>
<path d="M974.6 539.3h0M978 554.9h0M918.6 603.7h0M932.4 603.4h0M903.1 592.9h0M905.6 581h0M1015 598.4h0M984.4 523.1h0M995.3 619.8h0M1000 591.8h0M988.1 613.8h0M983.6 600.5h0M902.1 605.1h0M1007.5 511h0M994.9 589.1h0M977.9 568.9h0M979.5 534.4h0M993.8 550.4h0M1013 617.7h0M998.3 502.4h0M977.1 571.6h0M995.3 587.6h0M941.9 614.3h0M1002.6 657.2h0M1006 539.5h0M922.4 573h0" stroke="#4a3c74" stroke-width="1.2" stroke-linecap="round"/>
<path d="M989.5 566.2h0M931.7 607.6h0M1003.8 516.9h0M928.4 603.4h0M1007.8 551.9h0M986.6 580.1h0M989.7 656.4h0M944.2 609h0M1001.3 573.5h0M888.5 589.5h0M925.3 534.8h0M1000.4 572h0M902.8 559h0M922.1 581.5h0M995.7 539.7h0M950.7 522.2h0" stroke="#7a6f9c" stroke-width="2.1" stroke-linecap="round"/>
<path d="M850.6 625.9C856.9 625.9 879.2 624.8 888.5 625.9C897.8 627 901.1 630.3 906.6 632.5C912.1 634.8 919 638.1 921.5 639.2" fill="none" stroke="#5a4d78" stroke-width="1.4" stroke-linejoin="round"/>
</g>
<text x="917.5" y="556.4" font-size="18.5" font-weight="bold" textLength="35" lengthAdjust="spacingAndGlyphs">ATn</text>
<text x="926" y="626.7" font-size="18.5" font-weight="bold" textLength="33" lengthAdjust="spacingAndGlyphs">NLT</text>
<path d="M991.8 653.7H1010.8" stroke="#000" stroke-width="2.4"/>
<clipPath id="c02"><rect x="1021.2" y="490.6" width="164.3" height="167"/></clipPath>
<g clip-path="url(#c02)">
<rect x="1021.2" y="490.6" width="164.3" height="167" fill="#eeebee"/>
<rect x="1021.2" y="490.6" width="164.3" height="167" filter="url(#tex2)"/>
<ellipse cx="1169.1" cy="590.8" rx="16.4" ry="58.4" fill="#6a5a90" opacity="0.08" filter="url(#blur8)"/>
<path d="M1021.2 608.3C1023.9 601.1 1031.3 612.9 1037.6 614.2C1043.9 615.4 1053.5 614.2 1059 615.9C1064.5 617.5 1066.8 620.9 1070.5 624.2C1074.2 627.5 1076.8 632.4 1081.2 635.9C1085.6 639.4 1090.6 643.1 1096.8 645.1C1102.9 647 1113.2 647.9 1118.1 647.6C1123.1 647.3 1123.3 645.4 1126.4 643.4C1129.4 641.5 1133.7 638.8 1136.2 635.9C1138.7 633 1140 629.5 1141.1 625.9C1142.2 622.3 1142 616.1 1142.8 614.2C1143.5 612.2 1144.9 611.1 1145.7 614.2C1146.6 617.2 1146.6 627.3 1147.7 632.5C1148.9 637.8 1150.4 644.1 1152.6 645.9C1154.8 647.7 1155.4 644.2 1160.9 643.4C1166.3 642.6 1181.4 638.5 1185.5 640.9C1189.6 643.3 1212.9 654.8 1185.5 657.6C1158.1 660.4 1048.6 665.8 1021.2 657.6C993.8 649.4 1018.5 615.6 1021.2 608.3Z" fill="#f8f7f4"/>
<ellipse cx="1143.6" cy="565.8" rx="3.3" ry="66.8" fill="#f6f5f6" opacity="0.7" filter="url(#blur1)"/>
<path d="M1118.3 540.9h0M1154.7 621.8h0M1160.8 573h0M1174.8 565.7h0M1127.3 506.1h0M1169.9 576.8h0M1167.1 581.6h0" stroke="#3a2a62" stroke-width="2.4" stroke-linecap="round"/>
<path d="M1172.5 516.7h0M1151.6 560.1h0M1173.5 612.3h0M1029.9 495.6h0M1178.4 629.1h0M1123.2 636.9h0M1173.8 506.2h0" stroke="#5e5284" stroke-width="2.4" stroke-linecap="round"/>
<path d="M1165.9 520.5h0M1172 612.7h0M1158.2 546.8h0M1065.8 556.6h0M1116.2 625.8h0M1156.4 530.6h0M1034.9 500.5h0M1026.7 564.5h0M1104.4 629h0M1033.7 498h0M1172.5 573.2h0" stroke="#1e1340" stroke-width="2.4" stroke-linecap="round"/>
<path d="M1174 577.4h0M1174 612.9h0M1168.6 625.2h0M1032.4 495h0M1122.2 519.6h0M1097.4 545.7h0M1117 582.6h0M1125.3 625.1h0M1158.1 521.6h0" stroke="#5e5284" stroke-width="2.1" stroke-linecap="round"/>
<path d="M1172.7 553.2h0M1106.5 561.5h0M1178.3 542h0M1134.5 522h0M1108 553.9h0M1160.5 514.5h0M1169.2 616.6h0M1178.9 586.6h0M1153.9 614.9h0M1035 500.8h0M1065.6 491.7h0M1124.5 549.3h0M1156 492.1h0M1166.3 593.6h0M1131.3 547.8h0M1156.2 604.5h0M1156.4 510.1h0M1152.1 516.6h0M1185.2 527.3h0M1097.3 567.7h0M1159.6 592.2h0M1170.6 574.8h0M1126.9 630.6h0M1171.7 611.8h0M1175.1 604.8h0" stroke="#7a6f9c" stroke-width="1.5" stroke-linecap="round"/>
<path d="M1166.5 513.7h0M1170.7 525.4h0M1105.7 542h0M1157.5 541.4h0M1167.7 563.3h0M1171.5 604.7h0M1105.2 550.9h0M1134.5 610.6h0M1104.8 510.5h0M1157.9 603.5h0M1165 513.6h0M1045.6 494.8h0M1160.1 587h0M1181.4 522.8h0M1175.2 638h0M1160.9 618.2h0" stroke="#7a6f9c" stroke-width="1.2" stroke-linecap="round"/>
<path d="M1119.4 539h0M1178.2 627.9h0M1124.9 595.2h0M1156.3 545.1h0M1127.3 533.4h0M1176.1 576h0M1154.2 511.9h0" stroke="#5e5284" stroke-width="1.2" stroke-linecap="round"/>
<path d="M1164 641.8h0M1124.5 618.6h0M1157.7 551.5h0" stroke="#3a2a62" stroke-width="2.1" stroke-linecap="round"/>
<path d="M1173.7 533h0M1063.3 534.2h0M1041.6 503.3h0M1170.9 534.8h0M1095.6 549.4h0M1178.2 615.5h0M1161.5 538.5h0M1038.6 495.6h0M1152.6 582.7h0M1123.1 628.5h0M1115.3 582.4h0M1168.7 623.9h0M1170.6 588.8h0M1036 609.9h0M1168.3 641.4h0M1158.7 627.9h0" stroke="#3a2a62" stroke-width="1.5" stroke-linecap="round"/>
<path d="M1167.7 583.5h0M1173.2 578.2h0M1160.5 524.3h0M1170.6 566.1h0M1166.4 619.4h0M1107.9 640.2h0M1120.9 555.7h0M1090.7 546.6h0M1174.2 569.8h0M1106.9 560.8h0M1171.3 613.6h0M1152 564.5h0M1164.7 625.9h0M1158.2 592.8h0M1114.4 516h0M1167.7 578h0" stroke="#7a6f9c" stroke-width="1.8" stroke-linecap="round"/>
<path d="M1112.8 561.7h0M1106.1 633.7h0M1167.5 588.8h0M1177.8 559h0M1128.6 521.6h0M1033.9 591.7h0M1172.1 595.8h0M1079.6 519h0M1103.5 595.9h0" stroke="#4a3c74" stroke-width="1.2" stroke-linecap="round"/>
<path d="M1150 516.3h0M1167.7 586.1h0M1157.5 597.9h0M1060.1 495.7h0M1172.6 558.6h0M1164.7 604h0M1167.7 633.1h0M1168.2 593.9h0M1124.9 628.8h0" stroke="#4a3c74" stroke-width="2.4" stroke-linecap="round"/>
<path d="M1177.9 586.5h0M1113.7 531.8h0M1027.3 502.6h0M1166.8 564.5h0M1156.2 556.5h0M1164.1 573.1h0M1111.8 624.4h0M1173.6 588.3h0M1140 557.7h0M1167.7 589.1h0M1175.7 539.4h0M1111.5 538.7h0M1161.2 597.5h0M1159.9 525.5h0M1162.4 593.3h0M1156.9 526.9h0M1076 498.3h0M1109.4 545.3h0M1166.8 572.3h0M1063.2 586.6h0M1164.5 616.7h0" stroke="#2a1c52" stroke-width="1.5" stroke-linecap="round"/>
<path d="M1159.4 548.9h0M1168.4 565.8h0M1039 491.2h0M1177.7 616.7h0M1173.6 554.9h0M1120.5 563.8h0M1097.9 546.2h0M1160.5 511.5h0M1175.4 540.8h0M1159 540.6h0M1107.5 521.1h0M1085.7 560h0M1181.7 573.1h0" stroke="#1e1340" stroke-width="1.8" stroke-linecap="round"/>
<path d="M1095.1 523.2h0M1161.1 515.9h0M1182.3 504.3h0M1166 598.4h0M1044.6 495.6h0M1137.4 527.9h0M1171.1 578.2h0M1166.5 528.6h0M1125.1 558.8h0M1165.3 609.3h0M1171.9 544.8h0M1131.9 625.3h0M1042.5 502.4h0M1163.3 639.7h0M1122 581h0M1036.3 498.4h0M1124.4 628.8h0M1162.6 561.5h0M1175.5 587.1h0M1155.6 534.3h0M1162.2 598.9h0" stroke="#3a2a62" stroke-width="1.8" stroke-linecap="round"/>
<path d="M1164 635.7h0M1164.8 629.6h0M1099.7 523.5h0M1156.1 553.1h0M1157 638.5h0M1158.2 636.2h0M1122.4 554.8h0M1178.3 575.6h0M1171.1 600.6h0M1157.7 572.8h0M1174.7 629.4h0M1175.4 521h0M1170 602.3h0M1158.9 528h0M1179.8 557.4h0M1169.3 577.3h0M1172.2 637.3h0M1167.7 616.2h0M1118.7 633.6h0M1116.9 633.6h0M1179.2 590.8h0M1156.1 556.9h0M1101.8 629.1h0M1174 616h0M1118.5 551.3h0M1171.9 602h0" stroke="#5e5284" stroke-width="1.8" stroke-linecap="round"/>
<path d="M1130.9 563.9h0M1096.1 552.1h0M1109.6 523.1h0M1172.3 634.3h0M1116.8 563.8h0M1124.3 624.3h0M1102.8 525.8h0M1106.1 536h0M1120.4 625h0M1172.5 534.1h0M1087.2 566.3h0M1028.3 539.1h0M1166.3 583.1h0M1157.2 574.7h0M1180.9 572.6h0M1121.1 514.8h0M1170.7 579.3h0M1152 584.4h0M1121.6 621.9h0M1124.1 573.7h0M1179.1 585.6h0" stroke="#2a1c52" stroke-width="1.8" stroke-linecap="round"/>
<path d="M1102.3 547.8h0M1173 555.6h0M1168.2 540.6h0M1104.1 507.4h0M1125 550h0M1151.4 632.6h0M1171.1 633h0M1170.5 642.2h0M1168.8 606.3h0M1155.1 514.6h0M1077.1 536.3h0M1163.2 517.1h0M1039.7 493.6h0" stroke="#7a6f9c" stroke-width="2.4" stroke-linecap="round"/>
<path d="M1147.9 608.3h0M1163.3 570.2h0M1117.6 556.6h0M1179.6 516.2h0M1033.8 493.1h0M1154.3 641.9h0M1177.3 631.1h0M1182.2 633.4h0M1155.4 592h0M1136.8 624.1h0M1119.5 551.6h0M1111.2 599.2h0M1108.8 523.1h0M1167.7 564.8h0M1105.1 501.1h0M1154.7 536.3h0M1171.7 581.4h0" stroke="#1e1340" stroke-width="1.5" stroke-linecap="round"/>
<path d="M1170.2 529.1h0M1172.5 595.5h0M1092.6 558.3h0M1087.5 534.4h0M1151.2 596.3h0M1178.5 517.4h0M1096 575.1h0M1047 498.7h0M1164.7 615.6h0M1183.3 504.3h0M1170.5 585.1h0M1118.9 556h0M1161 596.3h0" stroke="#4a3c74" stroke-width="1.5" stroke-linecap="round"/>
<path d="M1185 588.6h0M1169.8 567.5h0M1022.4 532.5h0M1107.1 563.5h0M1172.3 594.9h0M1184.1 623h0M1079.3 508.9h0M1045 559.8h0M1165 567.6h0M1106.6 550.4h0" stroke="#2a1c52" stroke-width="2.1" stroke-linecap="round"/>
<path d="M1028.8 503.5h0M1127.6 509h0M1123.1 633.9h0M1162.8 514.9h0M1180.8 617.4h0M1173.9 611.8h0M1170.3 564.8h0M1176.9 571.4h0M1131.5 628.7h0M1128.1 628.1h0" stroke="#2a1c52" stroke-width="2.4" stroke-linecap="round"/>
<path d="M1167.7 597.6h0M1173.8 632.3h0M1167 595h0M1161.4 605.2h0M1146.5 531.5h0M1102 538h0M1169 619.4h0M1169.5 568h0M1169.9 509h0M1158.7 551.9h0M1110.7 615.9h0M1156.8 534h0M1163.7 587.7h0M1158.3 523.5h0M1172.2 579.6h0M1166.4 569.7h0M1183.2 602.1h0M1122.4 641.4h0M1042.7 495.7h0M1166.2 511.1h0M1153.4 603.5h0M1176.7 535.9h0M1087.7 564.2h0M1100.5 542.3h0M1126.8 626.4h0M1174.3 599.2h0M1162.8 515.9h0" stroke="#4a3c74" stroke-width="1.8" stroke-linecap="round"/>
<path d="M1161.3 583.2h0M1175.6 640h0M1101.4 533.3h0M1129.1 546.7h0M1091.9 517.7h0M1107 539.9h0M1174.3 585.8h0M1184.1 527.2h0M1168 515.4h0M1165.8 594.4h0M1184.7 551.1h0M1179 591.5h0" stroke="#7a6f9c" stroke-width="2.1" stroke-linecap="round"/>
<path d="M1122.5 544.7h0M1120.1 529.5h0M1090.3 553.4h0M1168.7 613.3h0M1166.1 579.5h0M1097.6 525.8h0M1123.8 617.8h0M1179.4 623.5h0M1098.8 559.9h0" stroke="#1e1340" stroke-width="2.1" stroke-linecap="round"/>
<path d="M1103.1 559h0M1080.2 563.9h0M1173.9 568.1h0M1095.8 535.8h0M1152.4 644.6h0M1178.5 615.7h0M1104 514.4h0M1181.9 550.4h0M1175 636.5h0" stroke="#3a2a62" stroke-width="1.2" stroke-linecap="round"/>
<path d="M1112.2 631.8h0M1175.2 507.3h0M1162.3 521.7h0M1159.7 635.8h0M1118.9 542.1h0M1169.6 592.5h0M1118 628h0M1136.5 502.1h0M1109.5 558h0" stroke="#2a1c52" stroke-width="1.2" stroke-linecap="round"/>
<path d="M1159.3 605.6h0M1103.9 555.5h0M1171.1 606.3h0M1148.3 558h0M1161.8 570.1h0M1185.2 605.5h0M1166.5 582.3h0M1178.4 596.3h0M1161.9 550.1h0M1160.7 578.1h0M1094.8 522.8h0M1157.6 575.6h0M1105.4 515.4h0M1152.1 534.3h0M1164.5 527.9h0M1171.5 547h0M1153 582h0M1096.4 522.8h0M1181.1 599.1h0M1160 565.2h0M1165.2 594.8h0M1166.7 514.8h0M1157.8 583.7h0" stroke="#5e5284" stroke-width="1.5" stroke-linecap="round"/>
<path d="M1117.7 615h0M1147.2 553.1h0M1044.1 493.3h0M1176.7 627.2h0" stroke="#1e1340" stroke-width="1.2" stroke-linecap="round"/>
<path d="M1167.6 608.3h0M1174.5 620.6h0M1022.3 498.3h0M1023 576.9h0M1131.3 609.6h0M1105 514.5h0M1115.4 563.1h0M1169.8 597.3h0" stroke="#4a3c74" stroke-width="2.1" stroke-linecap="round"/>
<path d="M1021.2 608.3C1023.9 609.4 1031.3 613.6 1037.6 615C1043.9 616.4 1053.5 615 1059 616.7C1064.5 618.4 1066.8 621.7 1070.5 625C1074.2 628.4 1076.8 633.2 1081.2 636.7C1085.6 640.2 1090.6 644 1096.8 645.9C1102.9 647.9 1113.2 648.7 1118.1 648.4C1123.1 648.1 1123.3 646.2 1126.4 644.2C1129.4 642.3 1134.6 638 1136.2 636.7" fill="none" stroke="#36285a" stroke-width="2.2" stroke-linejoin="round"/>
<path d="M1151 646.7C1152.6 646.2 1155.1 644.4 1160.9 643.4C1166.6 642.4 1181.4 641.3 1185.5 640.9" fill="none" stroke="#36285a" stroke-width="2.0" stroke-linejoin="round"/>
</g>
<text x="1094.8" y="558.9" font-size="18.5" font-weight="bold" textLength="34" lengthAdjust="spacingAndGlyphs">ATn</text>
<text x="1097" y="634" font-size="18.5" font-weight="bold" textLength="34" lengthAdjust="spacingAndGlyphs">NLT</text>
<path d="M1162.6 653.7H1181.5" stroke="#000" stroke-width="2.4"/>
<clipPath id="c10"><rect x="679" y="662.6" width="165" height="167"/></clipPath>
<g clip-path="url(#c10)">
<rect x="679" y="662.6" width="165" height="167" fill="#eeebf1"/>
<rect x="679" y="662.6" width="165" height="167" filter="url(#tex0)"/>
<ellipse cx="786.2" cy="746.1" rx="49.5" ry="83.5" fill="#6a5a90" opacity="0.08" filter="url(#blur8)"/>
<ellipse cx="695.5" cy="762.8" rx="19.8" ry="50.1" fill="#6a5a90" opacity="0.06" filter="url(#blur8)"/>
<path d="M837.1 804.1h0M780 673.1h0M772 772.8h0M827.8 719.6h0M812.8 761.3h0M761.4 720.2h0M706.8 681h0M805.5 708.9h0M692.1 800h0M806.2 688.6h0M731.7 739h0M777.6 671.3h0M783 696.2h0M819.9 690.2h0M812.7 789h0M836.6 736.5h0M832.9 733.8h0M818.8 663.8h0M717.2 760.3h0M785.9 789h0M713.9 805h0M760.6 730.6h0M782.8 721.2h0M740.1 780.1h0M745 748.4h0M731 818.8h0M753.8 687h0M733.2 693.6h0M822.3 667.6h0M806.3 709h0M766.6 744.2h0M729.1 817.3h0M778 758.9h0M744.5 699.4h0M840.9 776.9h0M812.2 749.4h0M795.1 723.5h0M796 780.7h0M750.1 773.8h0M695.5 826.3h0M809.7 726h0M714.9 680.7h0M761.5 771.6h0M785.2 725.7h0M800.2 787.4h0M823.2 693.6h0M813.8 720.8h0M777.9 792.5h0M796.2 785.2h0M791.2 730.9h0M784.9 711h0M722.9 806.3h0M734.5 732.5h0M781.1 800.4h0M812.4 796.5h0" stroke="#1e1340" stroke-width="1.5" stroke-linecap="round"/>
<path d="M830.9 705.3h0M755.5 800.1h0M787.9 764.2h0M822 786.4h0M812.3 787.3h0M810.8 807.3h0M787.4 776.7h0M758.4 753h0M752.4 771.2h0M824.1 800.6h0M823.5 758.1h0M709.3 745h0M714.2 669.5h0M808.7 736h0M786.9 712.1h0M800.6 672.2h0M795.7 755h0M792.2 729.8h0M731.4 678.7h0M777.8 663.1h0M829.3 732h0M763.3 777.2h0M744.8 770.4h0M801.4 794.2h0M759.1 781.3h0M765.7 708.3h0M839.4 792.8h0M825.5 710.6h0M770.4 780.2h0M792.4 731.1h0M838.2 693.5h0M792.1 807.4h0M774 745.3h0M691.9 824.2h0M747 777.7h0M727.7 808.9h0M809.5 747.8h0M819.2 768.6h0M784.3 717.5h0M775.7 707.7h0M754.6 772.2h0M789.6 693.9h0M785.2 786.9h0M757.9 715.8h0M757.1 696.9h0M800.1 707h0M738.4 711.7h0M828.1 813.8h0M712 820h0M771.7 806.5h0M825.1 734.5h0M784.1 684.4h0M769.8 674.2h0M796.4 731.1h0" stroke="#2a1c52" stroke-width="1.5" stroke-linecap="round"/>
<path d="M762 763.7h0M790.6 772.5h0M754.1 754.4h0M836.3 812.4h0M805.6 797.5h0M753 806.4h0M822.3 717h0M772.6 710.7h0M771.1 821.3h0M839.6 756.5h0M741.9 728.2h0M788.8 823.3h0M734 677h0M803.8 759h0M730 823.9h0M726.2 718.1h0M769.5 724.3h0M823.4 754.9h0M813.6 801.2h0M759.1 716.9h0M801.6 725.1h0M803.3 759.5h0M784 724.7h0M738.8 747.2h0M794 725.8h0M763.4 816.6h0M718.9 765.5h0M778.2 819.8h0M730.8 816.3h0M772.6 757.8h0" stroke="#5e5284" stroke-width="1.2" stroke-linecap="round"/>
<path d="M794.7 809.3h0M801.8 681.9h0M686.2 710h0M818.3 807.8h0M752.2 751.3h0M789.7 744h0M777.8 761.3h0M760.9 734.1h0M780.2 747.5h0M742.8 738.9h0M784.4 807.6h0M809.1 735h0M732.8 724.1h0M801.7 787h0M796.6 771.5h0M841.2 782.8h0M769.3 749.3h0M795.2 732.4h0M810.4 805.6h0M736.6 813.5h0M760.2 682.4h0M768.9 707h0M760.3 757.2h0M711.5 826.8h0M739.5 817.3h0M798.3 801.4h0M763.2 717.6h0M786.3 666.8h0M840.1 741h0M778.9 699.7h0M788.3 749h0M820.5 814.6h0" stroke="#4a3c74" stroke-width="2.1" stroke-linecap="round"/>
<path d="M804.6 770.8h0M775.6 670.3h0M820.7 778.3h0M772 685.9h0M784.6 711h0M736.1 677.2h0M763 739.5h0M774.6 826.1h0M796.6 718.3h0M699.9 765.3h0M796.3 817.7h0M769 744.2h0M805.9 734.1h0M796 733.4h0M840.7 706.9h0M772.2 782.2h0M756.1 775.2h0M795.9 756.8h0M821.3 713.3h0M756.7 763.5h0M816.6 774.8h0M765.4 724.2h0M837.7 679.7h0M768.7 746.9h0M810.5 744h0M775.9 782.4h0M824.2 826.6h0M771.8 713.8h0M770.4 737.4h0M776.3 742.4h0M759.2 777.8h0M759 702.2h0M789.2 666.8h0M772 767.8h0M702.2 777.8h0M769.3 687.3h0M787.7 664.1h0M783.4 700.7h0M753.5 761.3h0M782.9 750.3h0M768.1 691.7h0M797.9 693.9h0M803.6 738.3h0M798.8 686.6h0M789.1 686.7h0M738 681.4h0M714.7 798.1h0M782.6 816.5h0M738.1 825.4h0M776.4 726.8h0" stroke="#3a2a62" stroke-width="1.5" stroke-linecap="round"/>
<path d="M781.2 748.8h0M777.9 684.8h0M769.4 680.7h0M829 780.7h0M700.7 670h0M778.1 740h0M785.4 749.1h0M821 714.8h0M843.7 705.7h0M784.6 749.5h0M798.2 819.8h0M809.3 799.1h0M742.9 765.6h0M761.6 686.8h0M823.5 775h0M756.8 813.9h0M724.5 679h0M723.3 792h0M698.9 816.9h0M793.5 799.1h0M759 743.2h0M754.7 785.4h0M773.8 739.7h0M830.1 788.5h0M811.1 786.4h0M761.4 737.9h0M782.2 754.3h0M804.7 699.3h0M756.2 792.6h0M783.8 710.8h0M749 761.4h0M762 800h0M783 750.2h0M836.2 800.2h0M824.2 771.2h0M803.4 802.4h0M734.6 687.8h0M728.5 715.4h0M794 774.3h0M777 728.1h0M744.4 811.5h0M720.5 682.5h0M723.2 669.3h0M827.8 739.4h0M693.3 803.6h0M826.5 718.9h0M762.7 695.1h0M772.3 701.6h0M758.7 692.1h0M808.3 811.5h0" stroke="#2a1c52" stroke-width="1.8" stroke-linecap="round"/>
<path d="M815.9 771.8h0M763.1 722.2h0M742.5 677.1h0M765.8 731.3h0M768.6 695.5h0M815.1 827.9h0M724.8 817.3h0M815.3 718.7h0M815.5 781.8h0M762.2 762.6h0M787.4 665.3h0M800.3 785.3h0M751.2 825.6h0M786 669.5h0M767.9 741.3h0M693.7 813.9h0M803.8 733.4h0M735.7 793.7h0M761 809.5h0M688.5 733.8h0M721.1 672.9h0M840.4 800h0M752.2 784h0M788 749.3h0M794.2 726.8h0M793.2 765h0M715.5 680.1h0M800.1 760.3h0M810.7 691.8h0M829.1 823.3h0M708.7 677.1h0M787.4 758.2h0M769.5 727.6h0M832.4 697.7h0M767.2 700.1h0M767.2 706.3h0M811.6 808.3h0M757.4 744.7h0M810.3 793.5h0M736.1 711.1h0M721.8 817.9h0M798.7 759.5h0M791 694h0M778.9 739.5h0M735.2 752.9h0M756.7 765.9h0M762.2 723.5h0M768.5 770.6h0M784.9 757.9h0M769.8 713h0M827.3 680.9h0M759.1 755.5h0M771.4 717.1h0M725.2 670.4h0M826.5 704.4h0M784.2 799h0M825.6 779.8h0M778 708.1h0" stroke="#7a6f9c" stroke-width="1.8" stroke-linecap="round"/>
<path d="M776.7 796.8h0M834.4 697.4h0M790.3 678h0M762.2 704.5h0M783.5 768.4h0M740.5 762.9h0M797.5 762.5h0M787.5 685.5h0M743 725.4h0M784.5 746.5h0M753.6 714h0M825.2 747.6h0M798.7 786.9h0M815.6 710.8h0M753.4 787.5h0M784.9 674.9h0M780.7 796.4h0M769.8 736.5h0M770.2 743.6h0M781 715.6h0M734.5 807.4h0M762.9 727.7h0M742.6 703.1h0M831.6 782.3h0M804.5 746.9h0M790.4 809h0M777.4 816.8h0M781.1 770.2h0M780.9 683.2h0M809.8 678.8h0M809.3 754.2h0M788.2 765h0M785.7 714.8h0M794.3 697h0M821.7 752.3h0M788.5 674.3h0M774 771.3h0M835.5 699h0M768.4 688.2h0M715.9 768.1h0M755.3 823h0M771.7 687.7h0M761.6 682h0M756.4 735.9h0M841.7 787.1h0M729.9 669.6h0M715.6 812.7h0M764 786.7h0M810.7 777.4h0M754.4 767.8h0M807.6 726.4h0M785.8 712.4h0" stroke="#4a3c74" stroke-width="1.5" stroke-linecap="round"/>
<path d="M761.9 728.9h0M759.6 795.4h0M816.6 750.9h0M826.2 808.3h0M809.2 747.9h0M805.2 781.2h0M771.7 742.2h0M745 772.7h0M745.5 664.9h0M811.1 693.7h0M779.9 668.2h0M770.9 705.4h0M781.1 775.8h0M825 681.9h0M803.9 812.1h0M799.2 805.2h0M736.6 680.5h0M767.8 684.3h0M736.7 735.9h0M815.4 735.7h0M790.1 741.8h0M769.2 718.2h0M760.9 772.6h0M760.3 688.9h0M729.6 768.9h0" stroke="#1e1340" stroke-width="2.1" stroke-linecap="round"/>
<path d="M765.1 827.2h0M806.2 749.3h0M797.4 745h0M841.2 799.1h0M812.5 740.4h0M747.2 663.5h0M715.1 801.5h0M812.9 763.6h0M736.3 712.2h0M810.7 699h0M788.5 718.9h0M818.9 797.7h0M768.6 759.4h0M799.6 826.8h0M814.2 809.3h0M836 749h0M822.6 766.1h0M819.6 782.8h0M791.8 721.2h0M825.3 705.3h0M780.9 711.7h0M720.3 811.8h0M790.5 690.6h0M726.9 771.3h0M774.5 664.5h0M808.3 763.4h0M777.8 745.8h0M701.9 715.7h0M784.7 826.7h0M767.2 708.1h0M774.8 783.8h0M810.3 670.1h0M757.4 779.3h0M803.9 705.3h0M818.9 745.7h0M785.5 770.4h0M789 729.7h0M815.1 667.1h0M726.3 695h0M829.1 787.1h0M743.4 679.2h0M799.4 824.4h0M801.9 783.7h0M768.1 752.8h0M803.1 774.4h0M725.1 816.3h0M761 777.5h0M786.2 673.4h0M749.4 749.5h0M766.3 808h0M775.4 822.3h0M796.6 749.3h0M826.3 700.7h0M779.8 666.7h0M698.5 680.2h0M819.2 777.6h0M777.3 793.3h0M773.1 768.5h0M829.9 799.2h0M772.3 685h0" stroke="#5e5284" stroke-width="1.8" stroke-linecap="round"/>
<path d="M770.3 779.5h0M736.8 734.5h0M801.6 713.1h0M799.9 681.2h0M793 723.9h0M744.9 662.8h0M807.7 768.8h0M811.7 765.5h0M760.1 727.9h0M782 683.2h0M770.7 720.1h0M759.9 707.1h0M772.6 764h0M821.8 806.2h0M833 805.2h0M793.2 716.9h0M789.8 813.4h0M772.1 721.6h0M790.3 790.9h0M806.8 740.9h0M758.1 748.3h0M807.7 748.4h0M737.3 737.3h0M793.6 692.1h0M780.7 747.3h0M791 690.1h0M709.4 671.4h0M703.4 677.2h0M830.8 681.4h0M786.3 714.6h0M805.1 707.7h0M772 743h0M799.7 771.5h0M780.5 694.4h0M804.9 730.5h0M783.2 778.5h0M745.9 694.8h0M789.3 763.4h0M794.4 807h0M837.9 781.7h0M774.4 789.8h0M842.7 813h0M797.9 742.4h0M805.4 813.6h0M733.6 777.6h0M826.9 820.4h0M813.1 666.3h0" stroke="#1e1340" stroke-width="1.8" stroke-linecap="round"/>
<path d="M798.6 692h0M798.3 780.5h0M828.7 666.3h0M775.2 794.4h0M783.3 686.1h0M757.2 705.3h0M765.8 795.3h0M769.4 721.9h0M742.6 693.6h0M826.4 801.3h0M776 728.8h0M768.6 770.7h0M826.7 762.7h0M840.3 787.4h0M793.2 713.8h0M792.5 695.7h0M784.9 736.5h0M778.2 737.9h0M791.5 745.5h0M713.4 770.4h0M711.2 812.9h0M760.2 744.5h0M729.3 763.7h0M813.2 796.7h0M752.9 788.3h0M758.6 737.6h0M836.4 707h0M753.8 676h0M782.2 779.6h0M790.8 788.8h0M791.7 685.7h0M813.2 727.7h0M770.9 690.5h0M818.2 710.4h0M824 715.3h0M829.9 736.8h0M781.4 691.1h0M817.4 686h0M794 816.4h0M793.2 704h0M761 687h0M791.2 693.1h0" stroke="#5e5284" stroke-width="1.5" stroke-linecap="round"/>
<path d="M778.2 737.5h0M776.5 705.9h0M704.8 823.1h0M810.3 763.2h0M782.5 692.9h0M774.3 665.9h0M778.8 783.2h0M824.9 754.2h0M742.4 672.3h0M782.6 739.3h0M701.7 821.1h0M780 721.8h0M738.4 686.5h0M775.4 719.3h0M760.4 713h0M810.3 815h0M792.2 663.2h0M773.7 820.2h0M743.5 770h0M739.7 715.8h0M711.2 668.6h0M779.5 709.9h0M813.4 777.9h0M794.4 820.3h0M729.7 755.1h0M793.7 755.1h0M738.5 765.4h0M750.5 751.7h0M786.4 819.4h0M787.6 689.8h0M808.7 728.3h0M777.7 796.1h0M793.1 676.8h0M770.6 715.3h0M714.1 803.8h0M713.6 688h0M743.7 745.7h0M808 724.2h0M746.9 733.9h0M745.3 815.4h0M761.8 716.5h0M776.8 724.9h0M787.2 696.1h0M772 740.9h0" stroke="#3a2a62" stroke-width="1.8" stroke-linecap="round"/>
<path d="M832 769.3h0M825.9 787.7h0M778.7 702.6h0M783 738.2h0M798.1 701.3h0M797.5 734.4h0M834.7 809.8h0M769.4 737.1h0M830.9 796.2h0M828.9 800.1h0M795.7 710h0M793.1 726.8h0M751.8 748.3h0M759.9 724.8h0M809.2 721.4h0M786.2 737.5h0M839.7 741.5h0M775 709.9h0M820.2 721.3h0M806.7 747h0M779.5 726.9h0M759.3 716.6h0" stroke="#2a1c52" stroke-width="2.1" stroke-linecap="round"/>
<path d="M823.2 741.5h0M814.7 823.1h0M777.8 715.9h0M838.4 766.8h0M686.8 729.6h0M806.9 718.1h0M766.6 699.8h0M783.8 694.8h0M813.9 788.9h0M815.1 735.1h0M741 719.3h0M775.6 694.1h0M701.7 790.3h0M741.1 771.6h0M821 751.1h0M762.8 727.2h0M747.7 814.6h0M829 784h0M773.9 719.6h0M773.7 806h0M825.6 798.6h0M763.7 722.2h0M795.3 693.5h0M796.7 774.4h0M745.5 823.5h0M799.3 825.5h0M744.5 764.9h0M790 719.6h0M799.7 712.5h0M817.7 760.1h0M792.3 781.9h0M820.7 767.1h0M794.8 703.4h0M818.7 698.7h0M798.3 682h0M771.1 695.1h0M786.5 734.2h0M799.4 794.6h0M791.7 746.3h0M785.3 732.2h0M793.5 756h0M800.2 748.9h0M752 677.8h0M824.7 779h0M804.7 666h0M757.6 712h0M779.8 711.7h0M823.3 765.2h0M781.8 790.4h0M770.9 667.2h0M732.4 818.1h0M689.3 793h0M767.2 716.8h0M790.9 752.1h0M800.5 663.4h0M821 668.5h0M762.5 778.1h0M790.7 800.4h0M768.1 709.6h0M744.5 705h0M758.8 776.3h0M754.2 746.7h0M736.6 682.8h0M761.3 716.8h0M761.4 801.4h0M813.7 689.4h0" stroke="#4a3c74" stroke-width="1.8" stroke-linecap="round"/>
<path d="M806.5 716.7h0M756 701.6h0M817.2 690.8h0M763 750.1h0M777.9 668.8h0M786.6 770.6h0M724.8 809.8h0M810 757.9h0M754.8 760h0M738.2 819.3h0M732.8 690.9h0M807.8 733.3h0M789.8 718.6h0M738.7 799.2h0M699.4 761.3h0M766.9 699.1h0M782.5 751.8h0M806.1 746h0M752.1 733h0M768.1 689h0M795.9 721.1h0M815 763.2h0M800.6 735.3h0M757.2 755h0M714 680.2h0" stroke="#2a1c52" stroke-width="2.4" stroke-linecap="round"/>
<path d="M756 778h0M767.5 667.7h0M803 794.2h0M721.2 677.3h0M797.2 767.6h0M805.3 746.7h0M747.1 667.3h0M757 769.1h0M782.1 666.1h0M753.5 784.8h0M804.6 682.5h0M780.1 663.9h0M781.9 797.1h0M835.7 725.2h0M773.1 743.1h0M814.7 733.4h0M748.4 770.3h0M784.7 707.1h0M808.1 774.7h0M803 783.8h0M748.6 690.9h0M756.9 765.4h0M828.5 773.4h0M791.7 709h0M818.5 793h0M782.5 698.3h0M794.4 746.4h0M728.7 689.7h0M741 811.4h0M729 683.2h0M779.3 783.9h0M781.3 793.4h0M834.1 678.1h0M802.5 771.7h0M781.4 758.4h0M813.6 728.9h0M775.8 714.7h0M769.2 695.8h0M734.3 674.5h0M783.7 748h0M774.9 765.1h0M826.5 776.5h0M791.6 738.2h0M814.8 672.5h0M789.6 786.2h0M761.5 662.7h0" stroke="#7a6f9c" stroke-width="1.5" stroke-linecap="round"/>
<path d="M784.3 718.7h0M770.1 716.1h0M841 811.6h0M820.8 812.3h0M780.7 752.4h0M819.2 758.2h0M779.8 720.6h0M778.9 750.4h0M762 765h0M829.9 739.1h0M758.3 783.3h0M773.5 821.7h0M797.5 802.2h0M780.9 729.1h0M798 745.1h0M793.3 794.5h0M825.6 800.3h0M776.6 744.5h0M788.8 712.1h0M780.4 713.3h0M720.6 780.4h0M737.1 688.9h0M784.9 798.9h0M826.7 736h0M833.2 719.6h0M732.7 828.3h0M791.4 808.8h0M716.3 810.6h0M829 751.8h0M790.3 719.7h0M795 688.9h0M828.8 790h0M734.1 734.6h0M802.4 789.6h0M788.7 720.4h0M774.8 724.5h0M829.1 799.5h0M727.4 818.8h0M806.9 810.4h0" stroke="#7a6f9c" stroke-width="2.4" stroke-linecap="round"/>
<path d="M787.4 698.4h0M827.6 785.8h0M747 759.8h0M773.4 786.8h0M824.1 792.7h0M704.3 736.1h0M763.2 713.4h0M694.3 680.2h0M772.3 724.1h0M798.1 777.3h0M818.6 816.5h0M747.5 762.7h0M744.5 827.4h0M793 744.7h0M791.6 723h0M781.2 767.8h0M793.2 698.1h0M800.6 798.6h0M777.8 718.4h0M764 811.8h0M785.4 682h0M760.8 814.3h0M770.5 817.3h0M753.3 747.5h0M782.1 776.8h0M824 821.7h0M750.1 689.4h0M803.2 789.5h0M783.6 795.5h0M747.2 828.2h0M734.2 764.1h0M753.2 680.6h0" stroke="#3a2a62" stroke-width="2.4" stroke-linecap="round"/>
<path d="M778.3 815.6h0M712.3 808.2h0M831.9 733.5h0M792.9 747.4h0M736.7 748.8h0M757.1 739.5h0M776.5 691.5h0M770.6 723.8h0M782.3 685.5h0M766.2 794.5h0M787.2 748.9h0M835.7 742.9h0M802.8 681.8h0M814.8 802.5h0M726.4 731.6h0M826.1 819h0M745.6 724.8h0M725.7 809.1h0M772.8 765.2h0M803.7 690.2h0M837.3 722.9h0M812.3 725.2h0M814 738.9h0M719.1 737.3h0M837.6 786.6h0M786.2 687.1h0M706.5 774.2h0M780.1 677.8h0M729.4 668.6h0M793.2 808.2h0M794 760.9h0" stroke="#2a1c52" stroke-width="1.2" stroke-linecap="round"/>
<path d="M770.9 719.3h0M761.2 734.2h0M727 685.5h0M776.3 749.3h0M787.2 751.5h0M748.6 726.2h0M789.3 821.9h0M784.3 757.1h0M843.3 791.9h0M772.5 698.8h0M771.1 713.7h0M759.6 817.1h0M757.9 750.5h0M801.6 782.4h0M773.3 693.6h0M739.4 819h0M811.6 793.2h0M764 828.8h0M780.4 770.3h0M784.8 732.1h0M772.3 754.2h0M817.7 741.6h0M780.9 766.4h0M820.8 813.8h0M724.1 801.5h0M721.4 795.8h0M818 726.3h0M746.4 828h0M777.9 732.4h0" stroke="#7a6f9c" stroke-width="1.2" stroke-linecap="round"/>
<path d="M752.2 750.4h0M794.7 807.9h0M791.7 696.9h0M777.5 771.6h0M759.4 707h0M726.3 669.2h0M720 807.1h0M782.8 796.3h0M773 781.6h0M742.8 749h0M777.4 826.5h0M779.5 674.2h0M727.6 819h0M801.9 774.9h0M825.5 776.5h0M687.8 697.8h0M765.4 766.2h0M804.9 795.6h0M776.7 762.7h0M727.2 682.5h0M788.9 735.1h0M748.7 699.3h0M834.5 670.5h0M755.2 729.8h0M728.2 822.2h0M826 746.3h0M772.6 743h0M759.6 670h0M749.4 738.9h0M805.8 701.7h0M819.5 668.9h0M736.2 768.6h0M833.2 716.6h0M796.2 751.6h0M794.3 689.5h0M700.3 741.9h0" stroke="#4a3c74" stroke-width="1.2" stroke-linecap="round"/>
<path d="M814.2 805.9h0M797.8 765.3h0M827.9 738.1h0M789.3 709.8h0M790.8 734.6h0M818.1 769.1h0M757.2 711.7h0M802.2 781h0M815.6 716.9h0M724 734.7h0M764.2 810h0M756.6 805.5h0M792.2 728.7h0M782.8 812.4h0M784 707.7h0M769.6 789.1h0M795.5 716.8h0M792.6 763.4h0M684.8 721.8h0M816 695.5h0M730.7 765.9h0M781.6 739.1h0" stroke="#5e5284" stroke-width="2.4" stroke-linecap="round"/>
<path d="M816.7 806.2h0M711 684.7h0M830 829h0M725.6 812.8h0M763.2 795.5h0M775 737.5h0M753.9 817.3h0M801.3 765.7h0M807.6 736.9h0M792.9 778.8h0M708 818.4h0M793 701.5h0M814.8 812.6h0M821.1 810.9h0M817.5 785.7h0M733.4 693.7h0M803.8 696.9h0M821 783.4h0M762.6 773.6h0M756 818.7h0M753.8 781.1h0M812.6 770.1h0M724 673.8h0M796.6 686.6h0M797.4 700.6h0M840.8 806.9h0M783.7 731.2h0M762.6 817.7h0M776.6 694.6h0M800.4 711h0M774.7 729.1h0M795.1 788.5h0" stroke="#3a2a62" stroke-width="1.2" stroke-linecap="round"/>
<path d="M765.5 669.2h0M749.4 708.3h0M823.9 759h0M787.9 715.8h0M778.8 701h0M804 744h0M739.9 764.4h0M792 803.5h0M779.2 704.9h0M837.8 706.1h0M774.1 712.8h0M788.3 733.3h0M772.1 697.7h0M838.1 770.6h0M791.6 769.8h0M781.1 724.2h0M728.5 679.4h0M773.9 754.4h0M826.9 794.1h0M821.4 731h0M723.9 817.2h0M710 676.4h0M793.8 791.9h0M796.4 798.5h0M718.3 823.8h0M734.9 800h0" stroke="#1e1340" stroke-width="1.2" stroke-linecap="round"/>
<path d="M739.3 824.4h0M756.3 751.5h0M770.2 742.7h0M725.9 822.3h0M764.6 736.6h0M767.2 743.4h0M719.3 818.5h0M808.3 804.3h0M780.1 742.8h0M809.8 813.4h0M802.9 759.9h0M786.4 756.3h0M783.6 668.5h0M834.7 777.9h0M785.4 689.7h0M780 739.1h0M735.7 670.7h0M827.7 754.6h0M774.3 739.1h0M784.6 744.1h0M802.6 712.5h0M741.1 758.6h0M825.8 735.4h0M783.1 705.9h0" stroke="#3a2a62" stroke-width="2.1" stroke-linecap="round"/>
<path d="M781.4 680h0M737 669.3h0M767.5 670.6h0M728.6 754.4h0M744.7 692.7h0M793.9 667.3h0M790 696.9h0M797 724.8h0M730.4 694.9h0M768.9 692.4h0M809.9 794.7h0M808.6 747.6h0M774.1 744h0M747.7 667.7h0M780.5 729.1h0M799 754.5h0M714.4 818.5h0M680.7 703.5h0M780.9 686.1h0M720.8 828.3h0M779.8 800.5h0M806 797.7h0M769.3 760.7h0M760.1 732.1h0M784.7 762.2h0M842.3 776.3h0M758.1 665.2h0M771.7 704.8h0M772.5 791.7h0M805.9 775.5h0" stroke="#5e5284" stroke-width="2.1" stroke-linecap="round"/>
<path d="M819 791.4h0M734.6 733.6h0M802.7 730.2h0M826.5 705.4h0M779 783.2h0M785.9 772.4h0M741.6 717.5h0M739.2 671.1h0M814.3 740.1h0M744.9 674.9h0M804.1 817.2h0M750.9 755.1h0M811.6 728.1h0M786.7 700.1h0M820.1 733.8h0M747.3 804.1h0M788.1 702.5h0" stroke="#4a3c74" stroke-width="2.4" stroke-linecap="round"/>
<path d="M723.5 685.6h0M780.7 685.4h0M802.6 805.6h0M816.7 732.8h0M733.9 668.8h0M834.7 738.9h0M787.1 756.9h0M716.8 695.3h0M817.8 828.8h0M720.7 681.1h0M759 702.2h0M805.8 725.4h0M768.3 748.9h0M693.1 779.6h0M765 720.5h0M772.6 816.1h0M761.7 701.2h0M842.4 797.9h0M763 726.1h0M774.6 703.8h0M790.8 739.6h0M756.4 731.5h0M775.5 720.2h0M800.5 748.9h0" stroke="#1e1340" stroke-width="2.4" stroke-linecap="round"/>
<path d="M714.2 825.2h0M742.4 786.2h0M834.4 759.1h0M753.8 790h0M723 672h0M784.6 796.8h0M802.1 821.7h0M713.5 817h0M823.9 767.8h0M760.1 686h0M733.7 728.5h0M743.2 669.7h0M773.9 730.7h0M791 793.8h0M823.1 829.4h0M780.1 734.6h0M755.1 724.3h0M730.4 695.3h0M770.9 745.2h0M806.9 718.1h0M764.6 774.5h0M775.6 759.6h0M800.7 806.8h0M752.7 735h0M712.3 675.8h0" stroke="#7a6f9c" stroke-width="2.1" stroke-linecap="round"/>
<path d="M700.3 681.5h0M707.5 675.8h0" stroke="#1e1340" stroke-width="3.4" stroke-linecap="round"/>
<path d="M712.2 678.1h0M711.9 681h0M739.4 674.1h0M706.9 680.7h0M738.1 720.7h0M752.6 770.5h0M724.8 803.7h0" stroke="#2a1c52" stroke-width="3.0" stroke-linecap="round"/>
<path d="M719.2 693.3h0M721.7 693.8h0" stroke="#1e1340" stroke-width="2.6" stroke-linecap="round"/>
<path d="M710.5 691.5h0" stroke="#2a1c52" stroke-width="2.6" stroke-linecap="round"/>
<path d="M751.7 675.1h0M726.9 696.3h0" stroke="#1e1340" stroke-width="3.0" stroke-linecap="round"/>
<path d="M710.1 682h0M724.5 680h0M755.6 687.4h0M745.6 799.6h0M710.1 715.6h0" stroke="#2a1c52" stroke-width="3.4" stroke-linecap="round"/>
</g>
<text x="688.9" y="693" font-size="18.5" font-weight="bold" textLength="30" lengthAdjust="spacingAndGlyphs">Dm</text>
<text x="738.4" y="747.7" font-size="18.5" font-weight="bold" textLength="22.6" lengthAdjust="spacingAndGlyphs">Vs</text>
<path d="M810.6 824H834.7" stroke="#000" stroke-width="2.4"/>
<clipPath id="c11"><rect x="850.6" y="662.6" width="164.8" height="167"/></clipPath>
<g clip-path="url(#c11)">
<rect x="850.6" y="662.6" width="164.8" height="167" fill="#edeaf0"/>
<rect x="850.6" y="662.6" width="164.8" height="167" filter="url(#tex1)"/>
<ellipse cx="974.2" cy="737.8" rx="41.2" ry="83.5" fill="#6a5a90" opacity="0.12" filter="url(#blur8)"/>
<ellipse cx="956.1" cy="806.2" rx="3.3" ry="23.4" fill="#f6f5f6" opacity="0.7" filter="url(#blur1)"/>
<path d="M917.3 803.3h0M970.4 813.7h0M971.8 675.9h0M922.4 717.1h0M949.5 750.4h0M971.2 749.8h0M960.8 778.9h0M961.1 804.9h0M1010.9 759.6h0M968.9 818.5h0M885.8 691.6h0M959.7 786.4h0M954.5 689.1h0M1000 759.1h0M963.9 790.2h0M953.4 736.1h0M983.1 740.2h0M972.1 771.6h0M1002 814.6h0M922.5 714.4h0M984.6 744.1h0M952.5 778.6h0M966.2 805.9h0M963.5 673.2h0M916.9 700.7h0M920 794.2h0M999.2 694.8h0M915.7 821.1h0M972.6 697.8h0M978.6 733.7h0M937.8 775.2h0" stroke="#7a6f9c" stroke-width="1.2" stroke-linecap="round"/>
<path d="M1004.6 723.7h0M979.4 761.7h0M1003.6 762h0M915.1 681.3h0M989.2 739.7h0M996.6 802.1h0M964.9 706.4h0M1007 724.9h0M997.5 725.7h0M970.6 691.8h0M1011.3 665.5h0M967.5 696.7h0M928.6 785.5h0M976.9 705.8h0M926.9 709.7h0M934 760.8h0M958.3 710.8h0M969 682.3h0M990.6 783.3h0M991.9 765.4h0M1000.6 686.3h0M911.8 778.6h0M973.9 732.7h0M992.5 762.3h0M989.1 731h0M928.2 810.8h0M960.5 773h0M998.6 691.7h0M930.2 814.4h0M990.7 735.8h0M899.8 812.7h0M972.6 726.3h0M901.3 709.7h0M939.4 778.2h0M963.3 719.7h0M937.8 748.6h0M896.6 765.7h0M973.9 689.9h0M979.4 728.4h0M988 704.8h0M908.4 684.1h0M962.7 726h0M966.4 744h0M913.1 697.3h0M963 817.1h0M1010.4 726.2h0M974.2 706.8h0M992.2 782.3h0M967.3 749.1h0M940.5 721.5h0M894.1 678.4h0M981.8 789.1h0M982.4 688.7h0M993.9 695.2h0M974.9 786h0M982.9 682.5h0M963.5 731.6h0M970 747.2h0M942.6 793.5h0M958.4 699.3h0M935.9 785.1h0" stroke="#5e5284" stroke-width="1.8" stroke-linecap="round"/>
<path d="M956.7 735.4h0M957.9 738.9h0M996.7 762h0M994.9 739h0M945 727.1h0M993 714.9h0M937 801.1h0M930.1 815.8h0M980.4 670.1h0M925.9 824.1h0M939.1 754.4h0M969.5 702.2h0M961.7 720.7h0M912 705.5h0M912 771.1h0M967.1 720.8h0M981.3 748h0M996.9 694.7h0M968.3 739.1h0M943.8 693.2h0M933.5 778h0M940.5 770.6h0M994.8 703h0M988.6 720.9h0M941 689h0M882.7 715.1h0M988.6 739h0M903.1 672.9h0M961.6 723.1h0M1003.4 733.5h0M1007.9 690.3h0M974 816.8h0M984.4 697.6h0M959.8 735.6h0M961.6 686.5h0M969.8 678.9h0M966.7 779.2h0M896.6 682.6h0M973.1 746.9h0M989.8 765.9h0M928.8 799.2h0M953.3 768h0M934.2 715.3h0M932.8 800.1h0M988.5 694.8h0M973.1 734.4h0M978.9 755.2h0M910.1 807.2h0M972.8 708.7h0M995.1 803.8h0M864.3 797.4h0M901.2 700.8h0M934.3 754.2h0M997.5 813.4h0M918.6 814.2h0M880.2 741.8h0M971.8 828.5h0M963.8 746.1h0M934.5 758.1h0" stroke="#4a3c74" stroke-width="1.8" stroke-linecap="round"/>
<path d="M967 696.7h0M979.2 702h0M991.8 779.9h0M986.7 704.3h0M906.7 800.1h0M869.2 705.4h0M936.5 665.5h0M886.4 795.1h0M985.3 751.4h0M1014.3 732.8h0M926.4 757.6h0M938 785.9h0M968.6 701.3h0M905.7 698.2h0M976.6 718.1h0M963.3 679.2h0M950.5 708.8h0M960.9 741.9h0M1006.2 729.5h0M964.8 824.6h0M967.1 709.3h0M974.3 824.9h0M958.7 715.2h0M985.8 815.5h0M877.2 760h0M994.8 785.7h0" stroke="#5e5284" stroke-width="1.2" stroke-linecap="round"/>
<path d="M953.3 827.8h0M925.1 716.2h0M927.6 814.5h0M947.1 777.5h0M951.1 726.3h0M896.1 694.7h0M992.3 704.2h0M898.5 680.8h0M954.1 697.3h0M960.2 732.3h0M973.2 683.3h0M972.6 749.5h0M960.5 784.3h0M858.7 829.2h0M985.1 711.3h0M983.3 753.1h0M972.1 705.3h0M1014.8 765.8h0M942.6 760.8h0M952 702.2h0M953.9 688.2h0M1003 684.3h0M988.5 763.3h0M926.5 759.6h0M933.4 791.8h0M982 809.2h0M938.5 794.2h0M921.1 789.5h0M990.1 692.7h0M895.9 671.1h0M890.1 709.4h0M955.3 718.2h0M984.2 789.6h0M1004.3 697.9h0M1004 705h0M927.6 785.7h0M940.1 751.7h0M891.2 784.1h0M990.3 677.1h0M975.8 788.2h0M966.3 745.6h0M964 753h0M995.7 779.9h0M906.9 793h0M977.4 756.7h0M985.4 722.2h0M921.4 760h0M988.7 695.8h0M965.3 748.9h0M968 721.9h0M967.4 713.9h0M1013.5 698.4h0M883.9 682.9h0M967.4 704.3h0M996.9 753.1h0M933 747h0M960.6 753.5h0M940 753.1h0M997.7 755.5h0M925.6 791.4h0M967.4 783.8h0M929.8 694.5h0M995 821.7h0" stroke="#3a2a62" stroke-width="1.8" stroke-linecap="round"/>
<path d="M972.3 700.5h0M931.9 736.7h0M937.7 787.7h0M923.5 825.3h0M965.2 773.8h0M899.1 671.9h0M923.9 732.3h0M962.4 697.9h0M960.9 681h0M999.3 778.9h0M973.1 731.2h0M1003.9 734h0M1002.1 768.2h0M965.9 747.6h0M1009.9 684.9h0M1010.4 826.3h0M939.1 688.4h0M952.7 824.7h0M988.8 752.2h0M909.4 690.4h0M965.2 718.8h0M990.1 702.9h0M934.8 776.1h0M971.6 775.5h0M999.9 757.1h0M985.2 690.5h0M921.2 789.2h0M1012.6 748.5h0M997.6 708.7h0M1009.8 678.1h0" stroke="#7a6f9c" stroke-width="2.4" stroke-linecap="round"/>
<path d="M957.9 780.8h0M907.9 808.8h0M973.6 691.4h0M957.6 735.4h0M926.4 736.2h0M927.3 731.7h0M881.4 825.8h0M955.7 723.4h0M961.5 797.7h0M971.3 781.3h0M964.3 680h0M979.1 828.5h0M991.8 764.9h0M989.5 702h0M907.5 790.7h0M928.4 779.1h0M927.9 795h0M969.8 779.3h0M1011.5 678.1h0M983.2 723.5h0M971.3 720.9h0M902.8 691.7h0M905.5 688.7h0M943.5 810.8h0M981.3 746.7h0M998.4 692.5h0M968.2 697.8h0M924 758.7h0M961 753.2h0M959.6 691h0M942.7 735.5h0M920.6 766.1h0M924.7 800.1h0M966.8 687.8h0M966.5 672.8h0M927.4 773.3h0M1012.2 713.5h0M973.9 695.8h0M946.7 806h0M993.4 667.3h0M887 668.6h0M915.5 781.8h0M995.9 774.3h0M999.8 711.2h0M982.5 810.5h0M987.1 698h0M893 675.4h0M991.7 752.7h0M968.7 686.8h0M995.8 828h0M965 666.3h0M952.7 730.9h0M992 745.3h0M1013 817.4h0M996.9 677.1h0M960.4 677.8h0M968.3 729.3h0M980.9 818.3h0M953 783.6h0M977.3 732.1h0M966 716.2h0M969.6 809.3h0M961.9 690.4h0M991.9 758.8h0M1002.9 729.9h0M941.7 780.8h0M964.1 695.3h0M872.9 762.2h0M942.2 807.7h0M970.2 694.2h0M988 712.8h0M1002.2 713.6h0" stroke="#5e5284" stroke-width="1.5" stroke-linecap="round"/>
<path d="M1014.5 761.8h0M916.6 767.7h0M951.9 700.3h0M916.4 807.1h0M925.6 772.9h0M978.3 756h0M972.3 678.6h0M949.4 768.9h0M983.2 760.9h0M982.6 731.9h0M971.8 812.5h0M964.9 709.7h0M959.1 679.5h0M1003.4 695.6h0M908.4 713.4h0M912.9 781.3h0M972.2 773h0M940.3 806h0M968.6 750.1h0M951 718.7h0M926.5 734.8h0M1008.5 771.1h0M972.9 779.6h0M968.2 763h0M905.2 739h0M965.9 741.6h0M981.4 708.7h0M957.3 684.1h0M912.2 689.8h0M928.9 795h0" stroke="#4a3c74" stroke-width="1.2" stroke-linecap="round"/>
<path d="M948 756.1h0M958.9 681.3h0M897.1 698.5h0M980.4 828.3h0M1011.6 740.9h0M972.8 826.7h0M990.2 781h0M980.5 724.9h0M961.1 809.2h0M965.4 678.2h0M888.5 687.1h0M947.7 761h0M947.6 761.1h0M954.3 744.4h0M932.5 817.7h0M974.4 729.8h0M925.7 811.2h0M973.2 761.4h0M926.1 763h0M925.7 767.7h0M964 775.4h0M971.8 820.7h0M1000.5 733.3h0M962.7 729h0M875.4 681.4h0M965.8 700.9h0M966.5 730.9h0M950.8 696.9h0M932.9 715.3h0M1013.3 677.4h0M953.9 783.9h0M966.3 669.1h0M967.7 687.4h0M974.8 738.6h0M854.8 669.8h0M867.4 687.5h0M923 797.1h0M998.6 763.7h0M931.9 768.9h0M952.5 762.4h0M993.2 686.8h0M944.6 716.5h0M1000.7 676h0M986 703.5h0M944.8 764.2h0M963.4 773.6h0M1010.6 715.7h0M966.8 826.6h0M1000.2 777.1h0M937.9 737.5h0M920.1 764.9h0M951 799.1h0M923.4 774.8h0M1003 805.1h0M965.3 720.2h0M990.4 704.7h0M970 778.5h0M964.9 750h0M967.1 706h0M952.4 736.7h0M921.4 740.2h0M1002.1 804.8h0M928 686.1h0M1009.3 799.9h0" stroke="#2a1c52" stroke-width="1.8" stroke-linecap="round"/>
<path d="M914.6 761h0M977.6 678.2h0M967.4 711.2h0M887.8 687.9h0M965.6 782.8h0M918.9 700.3h0M912.1 796.2h0M892.1 690.9h0M975.5 690h0M1001.9 723.9h0M973.1 766.9h0M962.3 690.9h0M961.2 682.1h0M909.6 769.6h0M978 772.7h0M950.4 768.1h0M952 712.2h0M997.5 743.1h0M913.1 694h0M928.2 801.5h0M968 719.2h0M962.9 756.7h0M934.3 780.4h0M930.3 762.8h0M933.5 692.7h0M909 796.3h0M1005.1 679.6h0M1000 689.9h0M977 816h0M1009.7 708.2h0M1000.7 690.2h0M960.7 735.5h0M929.7 719.8h0M987.1 685.1h0M961.2 692.8h0M919.9 792.4h0M944.5 766.5h0M999.7 757.2h0M982.9 713.1h0M930.2 714.8h0M964.3 742.6h0M975 789.5h0M968.3 721.3h0M966.6 690.2h0M918 762.4h0M976.6 676h0M1003.6 750.3h0M1013.4 759h0M988.7 751.4h0M992.4 731.1h0M923 710.2h0M927.2 801.8h0M985.9 775.5h0M1001.1 767.6h0M964.9 735.4h0M965.8 675.7h0M1013.1 781.5h0M887.8 768.7h0M923.6 756.7h0M981.9 742.2h0M957.7 704.4h0M925.8 820.2h0M928.7 751.2h0M985.3 759.6h0M989.9 690.4h0M935.1 682.2h0M950.6 806.3h0" stroke="#2a1c52" stroke-width="1.5" stroke-linecap="round"/>
<path d="M969.7 786h0M998.1 701.2h0M1004.1 759.3h0M983.3 668.7h0M991.1 754.4h0M956.4 734.9h0M1000.6 808.9h0M995.6 731.6h0M955.5 709.8h0M943.4 727.9h0M998.6 716.4h0M906.8 758.9h0M991.6 685.5h0M947.2 713.1h0M983.4 687.3h0M974.7 666.4h0M937.3 796.9h0M885.4 813.7h0M954.7 720.4h0M988 736.4h0M938.1 807.2h0M962.4 707.8h0M925.5 798.1h0M966.9 684.9h0M901 693.6h0M973.7 723.8h0M974.3 744.2h0M994.3 795.6h0M973.7 678.6h0" stroke="#4a3c74" stroke-width="2.1" stroke-linecap="round"/>
<path d="M892 691h0M939.9 759.5h0M919.1 720.9h0M904.4 765.7h0M924.7 752.6h0M964.1 810.7h0M982.5 692h0M983.3 804.9h0M925.6 782.2h0M931.8 794.8h0M999.5 784.6h0M925.6 687.5h0M976.8 787.7h0M956.7 716.2h0M962.5 756.4h0M942.9 671h0M1008.8 697.4h0M854.3 669.6h0M927.2 757.9h0M965.6 742.4h0M926.7 671.7h0M1005.8 781.4h0M921.4 774.7h0M964.3 720h0M951.1 784.1h0M959.9 759.3h0M971.5 746.3h0M910.3 807.2h0M980.4 711.8h0M1010.3 767.3h0M922.3 776.4h0M959.6 736.9h0M976.9 710.1h0M924.3 816.2h0M983.1 805.2h0M958.6 763h0M970.6 701.3h0M980.5 821.4h0M984.8 778h0M890.9 702.2h0M932.5 728.7h0M944.4 756.3h0M927 759.8h0M929.4 791.4h0M893.7 714.6h0M987.6 731.1h0M977.6 781.7h0M962 807.7h0M943.3 818.2h0M998.7 672.2h0M919.8 797.5h0M966.6 669.9h0M916 786.6h0M980.4 777.2h0M977.5 772.6h0M961.8 699.8h0M976 700.7h0M989.7 699.8h0M918 801.9h0M965.5 760.8h0M938.5 749.2h0" stroke="#7a6f9c" stroke-width="1.8" stroke-linecap="round"/>
<path d="M970.8 778.6h0M1000.4 808.8h0M893.4 799.8h0M974.4 802.1h0M987.5 674h0M974.2 693.9h0M996.6 743.2h0M967.8 777.9h0M980.4 732.6h0M959.7 816.8h0M995.2 771.9h0M913.1 687.5h0M1004.6 768.6h0M942.3 748.1h0M958.1 693.5h0M999.6 700.8h0M985.9 772.6h0M987.2 749.3h0M969.9 792.5h0M909.8 773.1h0M966.6 736.6h0M917.6 712.5h0M939.8 772.3h0M900.3 788.1h0M910 819.9h0M971.8 757.9h0M963 691.7h0M964 794.3h0M968.3 694.2h0M908.9 811.3h0M970.9 686.5h0M1004.7 668.4h0M950.7 710.6h0M997.6 710h0M973.2 728h0M965.8 778.2h0M1004 697.6h0M940.3 762.4h0M986.2 740.7h0M947.1 710.8h0" stroke="#7a6f9c" stroke-width="2.1" stroke-linecap="round"/>
<path d="M950.3 751.6h0M954.9 712.9h0M980.7 771.4h0M990.5 683.8h0M917.2 783.3h0M989.6 666.5h0M976.8 728.1h0M910 788.7h0M936.5 818.7h0M952.1 792.9h0M1014 745.8h0M979.3 726h0M988.4 738.7h0M961.5 708.3h0M950.5 754.6h0M887.7 745.9h0M985.3 750.8h0M988.9 813.7h0M978.2 666.4h0M963.4 828.4h0M864.7 813.9h0M937.7 706h0M907.9 697.2h0M1008.7 814.6h0" stroke="#1e1340" stroke-width="1.2" stroke-linecap="round"/>
<path d="M930.7 764.1h0M941.3 781.8h0M1009.7 693.9h0M979 758.2h0M926.4 796.7h0M945.9 775.6h0M999.9 800.1h0M1005.5 765h0M975.9 780h0M964.7 680.8h0M964.6 765.3h0M1002.5 666.9h0M1000.2 741.3h0M995.4 745.6h0M889.5 698.5h0M969.8 772h0M970 739.3h0M897 788.8h0M987.9 718.7h0M932.8 737.5h0M996.5 826h0M924.4 794.4h0M971.4 766.4h0M1007.6 754.7h0M936.9 788.6h0M960.2 774.8h0M974.1 764.4h0M982.9 690.9h0M983.9 694.6h0M973.2 699.5h0M947.9 762.5h0" stroke="#1e1340" stroke-width="2.1" stroke-linecap="round"/>
<path d="M981.8 694.8h0M927.8 819.5h0M952.7 780.6h0M991.1 827.5h0M1013.7 782.6h0M961.3 714.5h0M964 728.6h0M958.1 698.7h0M1002.1 765.3h0M956.7 718.8h0M966.3 663.8h0M906.9 675.6h0M992.9 801.6h0M894.5 688.5h0M929.9 723.2h0M961.9 734.4h0M961.6 705.8h0M1010.9 698h0M1015 800.4h0M943.7 752.2h0M973.5 671.8h0M855.7 721.2h0M924.9 756.1h0M972.8 745.5h0M927.4 802.6h0M1002.7 756.5h0" stroke="#2a1c52" stroke-width="1.2" stroke-linecap="round"/>
<path d="M908.5 690h0M955 776.9h0M954.3 738.8h0M956.8 746.2h0M945.6 733.3h0M932.3 816.7h0M989.7 753.5h0M919.1 793.5h0M1007 701.6h0M989.6 676.2h0M933.3 793.8h0M985.1 790.3h0M1006.9 704.8h0M962.1 741.5h0M960 767.3h0M908.6 720.3h0M1002.8 799.2h0M992.2 722.1h0M951.4 808h0M1002.1 724.9h0M972 723.4h0M978.9 686.8h0M1005.6 671h0M988.6 673.2h0M966.4 747.5h0M948.3 725.9h0M1009.9 803.8h0M967.9 754h0M962.5 746.4h0M911.4 694.4h0M984.5 710.3h0M967.6 791.1h0M943.8 756h0M983.5 732.4h0M886.2 690.5h0M944.4 687.4h0M980.3 760.8h0M985.9 807.9h0M955.3 686.7h0M990.1 716.4h0M993.5 688.3h0M959.7 752.1h0M932.9 790.4h0M964.3 771.6h0M980.8 744.1h0M1002.1 721h0M987.4 719.3h0M938.5 774.3h0M956.7 745.3h0M984.3 697.3h0M974.5 740.2h0M925.5 824.3h0M987.6 704.5h0M921.6 777.6h0M982.3 772.5h0M961.6 683.1h0M907.1 811.8h0M985.3 738.6h0M968.8 761.5h0M1003.8 738.3h0M967.4 691.6h0M940.5 755.1h0M975 800.3h0M978.6 747.9h0" stroke="#7a6f9c" stroke-width="1.5" stroke-linecap="round"/>
<path d="M986.4 789.7h0M954.9 702.2h0M1000.3 756.5h0M974.2 784.5h0M996.9 744.1h0M958.9 716h0M970.1 734h0M870.7 764.3h0M937 733.6h0M1005.9 700.6h0M1007.1 700h0M998.8 826.4h0M880.4 768.6h0M962.5 741.9h0M953.6 688.4h0M971.8 750.1h0M962.6 775.2h0M948.5 798.5h0M893.8 686.5h0M929.5 784.2h0M906.4 758.2h0M985.5 782.5h0M975.8 675.5h0M938.8 816.4h0M984 688h0M966.7 759h0M985.7 809.7h0M972.3 704.7h0M962.9 747.5h0M974.5 674.7h0M989.6 807.5h0M907.5 684.2h0M912 701.7h0M934 722.3h0M932 686.2h0M985.5 740.3h0M956.2 711.1h0M951.8 827.7h0M901 751.5h0M983.2 771h0M997.1 710h0M916 808h0M891.4 735.5h0M965.6 676.5h0M966.7 713.2h0M963.2 769.7h0M916.4 823.2h0M902.7 819.1h0M948.6 745.4h0M974.1 802.1h0M986.7 820.1h0M903 796h0M999.1 752.8h0M987.7 756.3h0M982.2 818.4h0M926.9 800.7h0M949.4 726.7h0M959.8 800.9h0M987.3 700h0" stroke="#1e1340" stroke-width="1.5" stroke-linecap="round"/>
<path d="M952.5 741.5h0M1000 737.7h0M971.6 697.4h0M897.6 667.9h0M950.8 707.9h0M1011.3 725.6h0M964.5 694.4h0M981 770.6h0M908.6 721.2h0M972.9 806.6h0M938 718.7h0M917 748.6h0M978.1 797.4h0M939 700.7h0M990.5 739.8h0M927.2 729.7h0M974.6 797.7h0M965.3 739.9h0M904.4 797.8h0M1002.8 786.7h0M963.4 699.7h0M947.2 742.9h0M973.8 687.6h0M925 794.3h0M936.5 786.9h0M971.9 754.1h0M987.1 687.1h0M946.9 805.1h0" stroke="#3a2a62" stroke-width="1.2" stroke-linecap="round"/>
<path d="M917.2 737.9h0M964.8 749.4h0M950.2 712.5h0M976.5 707.7h0M928.7 770.4h0M896.3 693.7h0M954.3 773.6h0M961.9 665.4h0M944.4 799.7h0M966.8 705.3h0M1014.3 677.4h0M970.6 822.3h0M935.4 775.3h0M1012.8 824.5h0M920.2 764.6h0M980.6 747.8h0M989.7 718.4h0M920.9 812.1h0M909.8 811.4h0M1012.2 787.9h0M933.6 791.9h0M912.2 792.4h0M901.5 675.1h0M992.8 677.9h0M938 771.8h0M981.5 677.4h0M998.6 767.5h0M960.6 810.6h0M976.6 795.2h0M934.2 730.1h0M993.5 723h0M980.8 698.8h0M994.8 829.4h0M962.1 714.6h0M865.2 691h0M982.2 729.1h0M1002.6 723.2h0M962.7 771h0M991.8 716.4h0M891.1 694.6h0M1002.4 781.9h0M994.3 729.9h0M871 736.5h0M934.4 761h0M906.6 811.8h0M1000.1 712.3h0M993 699.6h0M906 799.6h0M958.7 730.4h0M971.9 692.1h0M969.5 703.1h0M989.3 743.2h0M943.8 793.6h0M967.5 690.9h0M993.9 766h0M980.3 787.1h0M974.5 777.1h0M936.1 800.6h0" stroke="#4a3c74" stroke-width="1.5" stroke-linecap="round"/>
<path d="M928.8 765.9h0M1013.9 801.7h0M968.7 747.6h0M923 816.6h0M977.4 690.8h0M960 693h0M980 735.2h0M962.5 721.4h0M988.3 712.6h0M973.8 754.3h0M925.9 736.3h0M931.9 728.9h0M982.6 726h0M950.5 801.7h0M978.8 728.5h0M952 762.6h0M957.6 677.5h0M1013.6 755.6h0M979.1 732.6h0M919.5 744.4h0M995.7 792.8h0M1002.6 730.5h0M935 772.5h0M936.5 816.5h0" stroke="#2a1c52" stroke-width="2.4" stroke-linecap="round"/>
<path d="M954.1 704.5h0M883.2 691.5h0M908.9 786.8h0M964.4 766.9h0M942.5 680.5h0M976.7 698.2h0M974.7 721.5h0M959.3 824.9h0M917.5 786.5h0M1001.2 754.6h0M907.4 667h0M929 738.7h0M1005.4 745.6h0M907.3 764.7h0M931.7 806.3h0M974 744.3h0M974.8 737.3h0M965.3 753.1h0M937.8 757h0M991.2 786.4h0M926.8 696h0M903.4 814.5h0M998.3 777.3h0M932.7 678.9h0M1008.3 668h0M972.4 811.9h0M1004.2 757.8h0M926.5 799.3h0M941.9 764.5h0M935 792.1h0M979.5 713.6h0M967.8 706.2h0M973.4 780h0M993.4 757.5h0M915.1 794.1h0M946.1 712.1h0M970.1 769h0M963.4 751.2h0M982 809.3h0M940.6 826.9h0M898.7 710.7h0" stroke="#5e5284" stroke-width="2.1" stroke-linecap="round"/>
<path d="M992.9 701.6h0M888.3 786.4h0M962.5 682.7h0M969.4 769.9h0M987.7 716.8h0M998.2 741.1h0M902.9 803.9h0M967.6 729.5h0M970.6 694.7h0M973.8 797.3h0M973 820h0M913.5 825.8h0M962.1 814h0M996.4 753h0M992.7 797.4h0M936.8 749.3h0M1012.4 737.4h0M976.5 667h0M995.2 734.9h0M981.9 708.4h0M890.6 685.2h0M918 773.5h0M994.5 669.4h0M955.3 778.2h0M966.8 709h0M970.2 711h0M974.6 788.7h0M926.8 747.7h0M915.2 769h0M961.9 712.8h0M942.4 779.1h0M956.7 680.4h0M917.3 772.6h0M974.4 815h0M975.7 691.7h0M980.4 821.3h0M972.6 696.1h0M939.6 781.2h0M958 766.4h0M972 693.7h0M1011.3 745.1h0M938.4 680h0M997.9 795.1h0M973.4 737.6h0M994.4 708.4h0M932 677h0M934.1 736.2h0M974.1 785h0M941.4 738.9h0M977.7 811h0M916.6 807.8h0M902.5 701.5h0M981 734.7h0M927.3 745.7h0M958.5 744.5h0M926.8 762.2h0M943.1 756h0M965 699.9h0" stroke="#1e1340" stroke-width="1.8" stroke-linecap="round"/>
<path d="M918 759.4h0M944.3 715.1h0M1002.3 686.2h0M944.4 702h0M924.4 757.5h0M962.3 702.9h0M1005.3 770.3h0M958.5 715.1h0M964.9 691.6h0M861.8 727.6h0M919.2 793.4h0M981.5 672.2h0M982 777h0M940.6 760.7h0M927.5 789.4h0M967.7 693.6h0M998.4 768.9h0M963.3 687.9h0M966.8 709.7h0M901.2 724h0M987.7 821.4h0M960.4 690.5h0M917.5 774.3h0M1012.9 762.6h0M946.9 814.9h0M858.8 761h0M933.5 690.9h0M929.3 701.7h0M1002 761h0M925.3 788.5h0" stroke="#3a2a62" stroke-width="2.1" stroke-linecap="round"/>
<path d="M957.5 751.3h0M997.8 756.3h0M1003.8 685.3h0M939.8 748.4h0M938.5 758.7h0M949.1 746.6h0M920.3 810.7h0M954.5 733.6h0M953.8 720.6h0M986.9 729.2h0M948.6 738.1h0M919.5 801.1h0M962.7 781.2h0M933.5 731.1h0M955.6 698.5h0M937.8 761.3h0M914.6 693.1h0M944.3 683h0M994.2 769.7h0M966 792h0M901.4 808.5h0M991.3 691.4h0M994.4 732.4h0M917.2 733.3h0M1006.5 815.9h0M959.8 792.8h0M956.3 782.4h0M969.2 821h0M938.3 766.4h0M959.1 714.6h0M945.9 767.2h0M932.8 685.3h0M932.1 716.8h0" stroke="#1e1340" stroke-width="2.4" stroke-linecap="round"/>
<path d="M941.6 702h0M925.5 784.4h0M941.7 786.7h0M987.3 681.1h0M966.2 717h0M938.5 778.6h0M974.6 693.8h0M1015.1 746h0M970.3 777.3h0M979.7 778.3h0M990.8 700.9h0M977 687.7h0M926.9 776.1h0M988.1 720.1h0M962.6 747h0M1003.5 724.7h0M998.7 762.2h0M937.2 717.2h0M962.6 809.6h0M960.5 769.7h0M936.7 783.8h0M973.3 799.6h0M887.4 679.4h0M1002.5 714.5h0M864.4 737.2h0M930.3 739.3h0M958.9 682h0M954.4 721h0" stroke="#3a2a62" stroke-width="2.4" stroke-linecap="round"/>
<path d="M967.4 700h0M976.4 775.2h0M968.4 758.4h0M917.9 821.2h0M960.8 770.7h0M972.3 732.2h0M952 781.6h0M937.7 760h0M897 663.1h0M918.2 808.4h0M981.1 815.2h0M947.6 691.8h0M1005.5 780.2h0M990.9 686.9h0M936.5 751.1h0M941.4 777.2h0M873 696.9h0M960.6 687.7h0M945.6 803.1h0M929.9 778.5h0M958.4 667.3h0M997.3 749h0M978.7 808.7h0M951.4 796.8h0M937.6 758.8h0M948.6 774h0M895.6 722.3h0M937.5 795h0M987.9 714h0M987.2 678.8h0M937.2 770.4h0M970.5 797h0M910.3 674.3h0" stroke="#5e5284" stroke-width="2.4" stroke-linecap="round"/>
<path d="M979.9 747.2h0M914.2 826.1h0M900 683.4h0M977.8 681.4h0M963.6 691.8h0M975 718h0M1011.2 777.6h0M905.9 778.9h0M987.6 677.7h0M980.9 787.5h0M978.8 715.9h0M983.9 783.4h0M949.9 806h0M978.8 824.8h0M915.2 803.9h0M982.6 807.5h0M1004.3 693h0M972.1 760.2h0M912.2 790.9h0M1005.7 708.3h0M947.7 704.2h0M969.7 770.1h0M997 755.4h0M968.4 757.3h0M1006.6 734.3h0M935.5 778.1h0M974.7 729.9h0M1000.4 751.2h0M927.2 754.6h0M925.9 751.8h0M917.5 705.8h0M978.4 691.8h0M959.8 786h0M991.9 774.5h0M944.8 738.8h0M915.1 791.3h0M983.6 767.5h0M952 765h0M971.6 757.3h0M980.6 792.9h0M918.7 776.7h0M992.2 810.3h0M978.7 742.4h0M919.6 669.9h0M947.3 758.5h0M970.4 740.4h0" stroke="#2a1c52" stroke-width="2.1" stroke-linecap="round"/>
<path d="M1006.3 721.3h0M981.2 757h0M987.5 784.6h0M952.1 748.3h0M1001.8 741.8h0M1010.3 741.6h0M995.2 692.7h0M988.5 738h0M981.3 690.4h0M978.1 761.9h0M933.6 766.3h0M916.3 825.4h0M928.9 802.6h0M989.6 729.8h0M982.6 809.5h0M989.7 671.4h0M895.5 743.1h0M1008.9 796.8h0M969.2 702.7h0M964.5 727.8h0M931.7 728.8h0M952.2 684.4h0M992.7 752.4h0M1003.9 699.6h0M905.5 778.2h0M975.6 705.9h0M953.9 691.3h0M989.5 680.1h0M966.3 679.7h0M898.5 716.7h0M1003.1 769.2h0M928.6 776.4h0M978.4 742.3h0M1005.2 730.6h0M981.7 689.6h0M993.1 800h0M974.3 757h0M991.2 746.4h0M1014.1 750.9h0M944.8 701.7h0M936.3 711.6h0M927.6 786.6h0M984.3 681h0M893.2 706h0M893.7 805.9h0M1008.1 771.5h0M891.3 825.9h0M965.6 717.9h0M985.8 678.5h0M911.8 818.2h0M970 748.3h0M984.3 718.2h0M1001 673.3h0M996.2 782.3h0M946.9 731.8h0M957.5 716.1h0M976.7 750.4h0" stroke="#3a2a62" stroke-width="1.5" stroke-linecap="round"/>
<path d="M926.9 759.8h0M926.4 746.9h0M980.8 759.7h0M949.3 786.6h0M943.1 807.3h0M981.3 751.6h0M1015.3 724.1h0M967.6 674.7h0M968.8 717h0M974.7 673.4h0M1002.2 795.1h0M986.3 737.6h0M977.9 714.3h0M877.4 683.7h0M1000.7 705.9h0M970.6 799.8h0M913.9 680.1h0M1004.3 797.8h0M998.9 697.3h0M853.2 691.9h0M987.6 772.3h0M936.3 772.8h0M990.6 760.5h0M934 670.2h0M906.5 698.3h0M1000.7 801.6h0M997.7 736.3h0M909.5 765.1h0M959.6 686.9h0" stroke="#4a3c74" stroke-width="2.4" stroke-linecap="round"/>
<path d="M875.8 693.7h0M880.6 701.7h0" stroke="#1e1340" stroke-width="2.6" stroke-linecap="round"/>
<path d="M879.2 669.3h0" stroke="#1e1340" stroke-width="3.4" stroke-linecap="round"/>
<path d="M901.2 685.8h0M887.9 675h0M883.4 749.8h0" stroke="#1e1340" stroke-width="3.0" stroke-linecap="round"/>
<path d="M883.3 670.1h0" stroke="#2a1c52" stroke-width="3.0" stroke-linecap="round"/>
<path d="M921.9 695.3h0M905 680.7h0M900.2 673.3h0M899.7 676.3h0M863.6 753.4h0" stroke="#2a1c52" stroke-width="3.4" stroke-linecap="round"/>
<path d="M884.7 679.4h0M880 719.5h0M893.1 700.9h0M896.8 694.2h0M885.5 711.4h0" stroke="#2a1c52" stroke-width="2.6" stroke-linecap="round"/>
</g>
<text x="865.7" y="696.6" font-size="18.5" font-weight="bold" textLength="29.2" lengthAdjust="spacingAndGlyphs">Dm</text>
<text x="917.5" y="747" font-size="18.5" font-weight="bold" textLength="21.8" lengthAdjust="spacingAndGlyphs">Vs</text>
<path d="M987.5 824H1010.8" stroke="#000" stroke-width="2.4"/>
<clipPath id="c12"><rect x="1021.2" y="662.6" width="164.3" height="167"/></clipPath>
<g clip-path="url(#c12)">
<rect x="1021.2" y="662.6" width="164.3" height="167" fill="#eeebf0"/>
<rect x="1021.2" y="662.6" width="164.3" height="167" filter="url(#tex2)"/>
<ellipse cx="1045.8" cy="746.1" rx="19.7" ry="58.4" fill="#6a5a90" opacity="0.06" filter="url(#blur8)"/>
<ellipse cx="1119.8" cy="762.8" rx="41.1" ry="58.4" fill="#6a5a90" opacity="0.07" filter="url(#blur8)"/>
<path d="M1075.7 723.3h0M1131.6 743.2h0M1127.4 788.2h0M1061.2 802.9h0M1124.8 666.7h0M1164.5 681.4h0M1166.9 688.3h0M1152.7 816.4h0M1099.6 679.9h0M1039.1 780.5h0M1078.6 751.7h0M1145.2 808h0M1059 813.9h0M1122.4 754h0M1105.2 803.1h0M1132.2 779.6h0M1138.7 802h0M1142.7 752.7h0M1179 763.4h0M1137.7 712h0M1139.4 732.1h0M1125.5 755.4h0M1078.1 692.2h0M1131.1 717.9h0M1149 825h0M1126.7 678.7h0M1098.4 796.1h0M1184.7 671.1h0M1175.8 813.7h0M1108.7 744.8h0M1132.7 741.6h0M1170.6 761h0" stroke="#1e1340" stroke-width="1.8" stroke-linecap="round"/>
<path d="M1109.1 777.7h0M1081.3 728.4h0M1111 800h0M1114.3 705.8h0M1169.2 751.1h0M1090.4 781.6h0M1120.1 734h0M1131.6 666.2h0M1143.4 732.5h0M1093.6 680.4h0M1101 778.1h0M1136.8 701.3h0M1148.2 701.3h0M1084.2 744.1h0" stroke="#4a3c74" stroke-width="2.1" stroke-linecap="round"/>
<path d="M1153.8 763.1h0M1108.9 807.6h0M1123.1 752.7h0M1121.8 774.1h0M1140.7 737.2h0M1104.4 704.9h0M1126 796h0M1152.6 715.2h0M1071.1 670.4h0M1126.3 810.4h0M1143.4 818h0M1163.8 802.2h0M1130 695.7h0M1166.8 693.6h0" stroke="#5e5284" stroke-width="2.4" stroke-linecap="round"/>
<path d="M1115.1 758.7h0M1123.5 795.5h0M1177.1 779.7h0M1125.5 792.4h0M1147.2 694h0M1122.5 761.1h0M1119.5 781.7h0M1124.3 718.9h0M1066.6 785.6h0M1107.8 794.1h0M1130.8 802.6h0M1117.6 765.7h0M1143.1 716.5h0M1167.7 780h0M1121 778.3h0M1083.8 754h0M1116.4 807.1h0M1134.9 703.1h0M1093.8 806.9h0M1130.1 762.2h0M1064.2 810.8h0M1024 752.1h0M1131.2 775.6h0M1032.2 692.6h0M1092.1 740.7h0" stroke="#7a6f9c" stroke-width="1.8" stroke-linecap="round"/>
<path d="M1095.3 695.6h0M1124.3 821h0M1071.2 786.5h0M1144.9 691.2h0M1132.2 711h0M1064.8 807.7h0M1121.4 741.5h0M1054.1 683.1h0M1130.6 757.4h0M1170.4 665.1h0M1148.6 820h0M1127.5 760.8h0M1136.5 676.4h0" stroke="#4a3c74" stroke-width="1.2" stroke-linecap="round"/>
<path d="M1127.8 750.6h0M1084.3 770.2h0M1148.4 727.8h0M1080.3 813.8h0M1060 815.8h0M1112.5 697h0M1099.5 759.4h0M1143 806.6h0M1140.1 733.6h0M1100.6 772.4h0M1115.2 813.8h0M1157 725.5h0M1132.1 744.4h0M1124.9 725.5h0M1063 823.2h0M1136.6 772.3h0M1147 752.9h0M1132.2 688.7h0M1133 797.3h0M1129.7 816.8h0M1138 712h0M1099.4 802.4h0M1081.9 801.7h0M1132.6 737.3h0" stroke="#7a6f9c" stroke-width="1.5" stroke-linecap="round"/>
<path d="M1150 797.4h0M1062.4 818.1h0M1102.8 694.1h0M1071.2 806.3h0M1057 810h0M1100.3 695.2h0M1123.3 762.6h0M1135.6 711.1h0M1064.5 814.8h0M1153.7 803.8h0M1132.1 811.5h0M1159.3 782.1h0M1093 751.4h0M1145.5 783h0M1142.1 751.8h0M1114.5 732.9h0M1115.4 751.2h0M1090.3 689.6h0M1137.4 795h0M1163.5 827.3h0M1063.6 796.8h0M1120.9 708.1h0M1131.3 727.3h0M1026.7 684.8h0M1176.8 820.4h0M1173.4 773.4h0" stroke="#2a1c52" stroke-width="1.8" stroke-linecap="round"/>
<path d="M1129 782h0M1049.6 783.1h0M1097.5 793.6h0M1166.9 756.3h0M1052.2 806.2h0M1140.2 693.9h0M1127.5 785.4h0M1161.6 756.4h0M1112 802h0M1156.3 821h0M1158 786.4h0M1116.3 754.1h0M1129.9 804.1h0M1061.5 702.6h0M1119.8 720.5h0M1036.7 676.1h0M1121.3 710h0M1062.5 815.6h0M1178.4 800.1h0M1081.9 778.7h0M1174 814.4h0M1080.4 668h0M1059.8 811.7h0M1143.5 677h0M1133.5 731.8h0M1124 705h0M1129.2 745.4h0M1063.5 804h0M1083.8 787.4h0M1134.6 748.8h0M1171.2 785.2h0M1132.5 690.6h0M1152.8 793.9h0M1118.1 691h0M1124.5 754.6h0" stroke="#3a2a62" stroke-width="1.5" stroke-linecap="round"/>
<path d="M1101.3 697.6h0M1173.3 761.7h0M1096 756.6h0M1134 819.2h0M1173.5 769.6h0M1071.2 807.4h0M1148.9 782.2h0M1177.7 798h0M1132.9 734.9h0M1174.4 800.8h0M1132 807.5h0M1099.6 761.5h0M1106.1 788.6h0M1164.5 763.3h0M1090 673.8h0M1116.1 757.8h0M1140.9 714.7h0M1086.3 762.7h0M1091.2 719.5h0M1060.3 822.9h0M1119.6 672.3h0M1134.3 774.5h0M1051.5 668.4h0M1130.8 742.5h0M1127.6 737.4h0M1122 730.9h0M1053.5 665.5h0M1087 679.2h0M1126.9 823.2h0M1090.1 750h0M1041.5 764.1h0" stroke="#1e1340" stroke-width="1.5" stroke-linecap="round"/>
<path d="M1170.4 811.2h0M1119.1 802h0M1148.3 747.1h0M1138.4 695.5h0M1117.8 751.7h0M1114.1 688.4h0M1156.7 701.2h0M1175.6 801.2h0M1156.9 798.5h0M1109.7 801.9h0M1129.9 696h0" stroke="#1e1340" stroke-width="1.2" stroke-linecap="round"/>
<path d="M1160.1 778.3h0M1093.1 693.6h0M1121.3 725.9h0M1046.3 787.8h0M1134.7 678.2h0M1115.2 718.2h0M1091.3 729.7h0M1099.2 817.8h0M1151.9 803.3h0M1138.4 814.1h0M1133.8 751.5h0M1142.6 686.4h0M1108 806.3h0M1125.5 747.9h0M1143.2 707h0M1121.7 786h0M1166 797.8h0M1091.7 817.7h0M1058 818h0M1131 764.9h0M1174.6 798.4h0M1129 740.9h0M1133.1 812.5h0M1069.3 683.5h0M1089.4 673.6h0M1098.4 695.9h0M1137.2 800.5h0M1094.3 755.2h0M1061.9 820h0M1067 800.3h0M1130.7 694.6h0M1100 793.8h0M1129.2 681.2h0M1167.6 737.2h0M1139.5 708.5h0M1182.7 671.2h0M1144.6 765.6h0" stroke="#4a3c74" stroke-width="1.5" stroke-linecap="round"/>
<path d="M1023.4 762.4h0M1142.9 681.4h0M1126.6 761.7h0M1168.9 779.1h0M1157.8 801.6h0M1060.3 828.4h0M1042.8 685.3h0M1136.3 757.6h0M1118.5 711.4h0M1124.3 773.6h0M1139.2 762.3h0M1122.3 806.9h0M1057.1 809.5h0M1093.6 783.9h0M1154.7 814.4h0M1127.1 794.2h0" stroke="#1e1340" stroke-width="2.1" stroke-linecap="round"/>
<path d="M1122.4 731.2h0M1149.5 792.6h0M1179.8 750.8h0M1029.4 758h0M1165.2 803.4h0M1095.3 679.8h0M1070.3 798.9h0M1140.5 783.6h0M1084.7 753h0M1137.6 687.4h0M1054.5 748.7h0M1133.4 732.1h0M1127.5 720.2h0M1173.3 800.1h0M1123.7 779.7h0M1132 696h0M1048.2 687h0M1173.9 776.4h0M1126.4 781.1h0M1166.2 797.7h0M1165.4 787.3h0M1176.3 782h0M1121.9 791h0M1126.9 774.2h0M1060.5 820.9h0M1159 803.4h0M1127.3 774.7h0M1132.9 721.9h0M1111.7 760.7h0M1042.3 772.3h0M1109 681.8h0" stroke="#3a2a62" stroke-width="1.8" stroke-linecap="round"/>
<path d="M1025 771.2h0M1064.5 808.6h0M1066.9 748.6h0M1122.1 767.2h0M1119.9 819h0M1085.2 732.3h0M1063.1 823.2h0M1120.3 698.5h0M1117 776.1h0M1128.4 752.4h0M1127.4 703h0M1123.3 733.6h0M1092.1 784.3h0M1130.4 764.1h0M1132.3 817.7h0M1133.7 790.4h0M1123.5 726.2h0M1103.8 678.3h0M1063.4 795.9h0M1065.5 815.6h0M1129.1 729.2h0" stroke="#2a1c52" stroke-width="1.2" stroke-linecap="round"/>
<path d="M1124.3 740.9h0M1137.6 764.9h0M1144.9 676.1h0M1128.4 808.7h0M1123.6 699.6h0M1141.5 739.4h0M1095.3 767.1h0M1131.4 823.2h0M1121.5 702.8h0M1132.3 757.3h0M1128.5 741.1h0M1056.4 688.8h0M1130.2 779h0M1133.9 823.4h0" stroke="#3a2a62" stroke-width="2.4" stroke-linecap="round"/>
<path d="M1104.4 781.6h0M1074.3 809.3h0M1060.3 664.7h0M1098 755.5h0M1183.8 807.1h0M1173.6 795.3h0M1148.4 825.6h0M1072.2 817.1h0M1136.7 679.3h0M1164.1 827h0M1113 682.4h0M1031.9 725.3h0M1119.6 686.1h0" stroke="#1e1340" stroke-width="2.4" stroke-linecap="round"/>
<path d="M1163.6 736.1h0M1124.8 700.3h0M1124 696.6h0M1154.8 786.2h0M1109.9 668.2h0M1064.7 788h0M1138.2 744.3h0M1071.1 822.7h0M1105.8 680.7h0M1163 803h0M1070.2 707.3h0M1125 764.9h0M1091.7 738.6h0M1151 814.2h0M1123.3 721.7h0" stroke="#7a6f9c" stroke-width="1.2" stroke-linecap="round"/>
<path d="M1138 698.3h0M1131.8 742.3h0M1132.2 702.7h0M1062.5 815.3h0M1155.3 824.8h0M1116.4 748.4h0M1139.4 748h0M1123.4 811.1h0M1132.2 750.3h0M1125.1 748.6h0M1132.1 812.9h0M1135.9 717.7h0M1171.9 778.3h0M1131.9 709h0M1160.1 802.5h0M1138.8 762h0M1135.7 683.7h0M1149.6 720h0M1164.6 779.2h0M1154.4 788h0M1116.3 766.7h0" stroke="#5e5284" stroke-width="1.2" stroke-linecap="round"/>
<path d="M1059.8 827.5h0M1131.7 671.3h0M1139.3 816.1h0M1129.8 781.2h0M1037.7 735.8h0M1125.8 721.3h0M1113.7 682.7h0M1144 773.7h0M1161.4 810.8h0M1119.8 763.5h0M1041.5 821h0M1120.1 675.7h0M1131.5 741.5h0" stroke="#7a6f9c" stroke-width="2.1" stroke-linecap="round"/>
<path d="M1132.9 763h0M1159.6 772.6h0M1143.1 757.7h0M1123.6 770.6h0M1152.2 744.9h0M1135.6 805.8h0M1085.1 757.9h0M1145.7 780.5h0M1124.8 813.2h0M1143.1 712.7h0M1135.8 817.7h0" stroke="#5e5284" stroke-width="2.1" stroke-linecap="round"/>
<path d="M1131.2 740.3h0M1118 734.9h0M1124.8 819.8h0M1169.6 821.8h0M1180.3 815.5h0M1122.6 687.5h0M1099.8 685.3h0M1152.2 738.3h0M1065.8 818.6h0M1106.6 814.1h0M1109.8 677h0M1101.7 719.2h0M1130.9 699.7h0M1095.1 685.4h0M1085 738.1h0M1097.7 668.5h0" stroke="#3a2a62" stroke-width="1.2" stroke-linecap="round"/>
<path d="M1128.8 768.1h0M1139.2 764.3h0M1132.3 675.3h0M1128.3 816.3h0M1081.7 761.4h0M1147.4 740.6h0M1138.2 779.6h0M1135.4 674.2h0M1049.8 814.4h0M1070.7 770.8h0M1061.8 818.9h0M1038.5 675.3h0M1125.5 758h0M1100.3 769.2h0M1097.9 776.1h0M1140.8 775.6h0M1072.6 816.1h0" stroke="#4a3c74" stroke-width="1.8" stroke-linecap="round"/>
<path d="M1134.9 817h0M1122.6 729.9h0M1129.3 805.6h0M1031.4 758.3h0M1179.5 777.8h0M1140.8 743.4h0M1070.9 818.8h0M1128 732.3h0" stroke="#7a6f9c" stroke-width="2.4" stroke-linecap="round"/>
<path d="M1111.1 705.3h0M1122.9 779.1h0M1057.8 823h0M1091.6 735.6h0M1124.4 740.9h0M1093.6 790.3h0M1131.6 711.2h0M1127.2 685.4h0M1125.8 754.2h0M1095.3 701.7h0M1061.6 806.3h0M1149.2 697.5h0M1051.1 783.8h0M1133.7 742.1h0M1122.5 791.6h0M1106 796.2h0M1130.5 753.9h0M1135 692.7h0M1146.5 784.1h0M1076.7 822.3h0M1052.2 825.6h0M1138.4 788.3h0M1150.8 810.2h0M1124.5 778.1h0M1126.9 802.8h0M1075.1 772.6h0" stroke="#2a1c52" stroke-width="1.5" stroke-linecap="round"/>
<path d="M1128.1 761.9h0M1092.5 673h0M1056.9 819.2h0M1125.4 764.3h0M1149.7 687.3h0M1164.6 771.7h0M1138.8 745.8h0M1123.3 787h0M1100.1 761.9h0M1120.5 743.9h0M1064.3 813.8h0M1175.4 821.8h0M1099.6 758.4h0M1129.4 796.3h0M1137.9 680.6h0M1150.9 666.7h0M1146 733.7h0M1157.6 795.3h0M1068.9 727h0M1110 751.5h0M1141.3 741.6h0M1160 708.4h0M1132.1 774.6h0M1158.4 827.9h0M1142.3 807.3h0M1096.6 698.6h0" stroke="#5e5284" stroke-width="1.8" stroke-linecap="round"/>
<path d="M1134 775.8h0M1113.6 810.8h0M1075 810.3h0M1136.6 748h0M1130.3 799.6h0M1122.4 761.5h0M1023.5 755.7h0M1176.7 775.6h0M1161.3 783.8h0M1086.4 681.7h0M1130.3 754.6h0M1161.9 814.2h0M1170.2 794.1h0M1139.3 765.9h0M1109.8 761.9h0M1091.7 680.8h0" stroke="#3a2a62" stroke-width="2.1" stroke-linecap="round"/>
<path d="M1137.6 729.1h0M1128.8 695.6h0M1142.8 745.4h0M1143.9 695.5h0M1163.2 773.1h0M1138.5 708.9h0M1079.8 804h0M1037.8 742h0" stroke="#4a3c74" stroke-width="2.4" stroke-linecap="round"/>
<path d="M1090.3 770h0M1096.6 773.6h0M1121.2 724h0M1056 824.5h0M1060.5 695.1h0M1124.9 709.5h0M1073.2 664.9h0M1063 803.4h0M1117.9 690.8h0M1126.5 752.6h0M1097.3 702.8h0M1128.2 814.5h0M1067.3 809.5h0M1124.9 774.4h0M1088 778.7h0" stroke="#2a1c52" stroke-width="2.4" stroke-linecap="round"/>
<path d="M1172.6 665.4h0M1157 672.9h0M1142 741.5h0M1074.1 811.9h0M1153.1 788.9h0M1073.3 824.8h0M1120.2 740.6h0M1112.9 695.8h0M1122.2 699.4h0M1126.7 712.8h0M1110.8 744.1h0M1131.6 725.9h0M1088.1 781.9h0M1123.7 681.4h0M1132.7 680h0M1086.8 785.3h0M1132.5 751.7h0" stroke="#5e5284" stroke-width="1.5" stroke-linecap="round"/>
<path d="M1118.6 806h0M1091.9 803h0M1154.2 814.1h0M1159.9 809.8h0M1087.6 783.8h0M1120.5 693.9h0M1097.8 718.4h0M1095.2 689.5h0M1170.9 761.9h0M1124.8 738.8h0" stroke="#2a1c52" stroke-width="2.1" stroke-linecap="round"/>
</g>
<text x="1032.5" y="687.2" font-size="18.5" font-weight="bold" textLength="30.9" lengthAdjust="spacingAndGlyphs">Dm</text>
<text x="1091.3" y="743" font-size="18.5" font-weight="bold" textLength="22.3" lengthAdjust="spacingAndGlyphs">Vs</text>
<path d="M1157.5 823.7H1180.8" stroke="#000" stroke-width="2.4"/>
<clipPath id="c20"><rect x="679" y="834.4" width="165" height="166.6"/></clipPath>
<g clip-path="url(#c20)">
<rect x="679" y="834.4" width="165" height="166.6" fill="#eeecf1"/>
<rect x="679" y="834.4" width="165" height="166.6" filter="url(#tex0)"/>
<ellipse cx="693.9" cy="961" rx="9.9" ry="20" fill="#6a5a90" opacity="0.16" filter="url(#blur8)"/>
<ellipse cx="756.5" cy="901" rx="19.8" ry="23.3" fill="#6a5a90" opacity="0.08" filter="url(#blur8)"/>
<ellipse cx="802.8" cy="961" rx="16.5" ry="26.7" fill="#6a5a90" opacity="0.08" filter="url(#blur8)"/>
<path d="M686.4 1004.3C680.6 1002.4 687 996 687.2 992.7C687.5 989.3 686.8 986.4 687.9 984.3C689.1 982.3 691.7 981.2 694.2 980.3C696.6 979.5 700.1 978.5 702.6 979C705 979.5 706.8 981.2 708.9 983.2C711 985.2 713 987.5 715.1 991C717.3 994.5 726.7 1002.1 721.9 1004.3C717.1 1006.6 692.2 1006.3 686.4 1004.3Z" fill="#f8f7f4"/>
<path d="M815.5 870h0M836.7 859.3h0M796.7 984.3h0M814.5 841.2h0M820.7 961.5h0M811.4 955.7h0M755.7 903.2h0M788.5 1000.2h0M804.9 986.3h0M736.2 913.8h0M818.2 938.1h0M733.4 948.4h0M804.8 958.8h0M829.9 901.5h0M751 916.8h0M803 847.3h0M802.8 870.5h0M814.2 844.8h0M803.1 982.7h0M738.8 933.2h0M754.9 907.1h0M823.8 935.8h0M810.5 990h0M813.4 971.5h0M818.3 856.2h0M805.2 973.1h0M758.2 895.2h0M745.9 893.9h0M763.6 931.2h0M816.1 851.1h0M684.2 856.5h0M806.4 974.1h0" stroke="#5e5284" stroke-width="1.5" stroke-linecap="round"/>
<path d="M833.6 966.7h0M771 904.3h0M741.9 921.7h0M745.3 909.4h0M841.9 956.5h0M798.4 976.5h0M793.2 965.4h0M761.8 893.9h0M826.1 996.5h0M811.6 879.3h0M692.9 903.5h0M822.6 976.7h0M770.3 922.4h0M777.8 883.3h0M746.2 887.4h0M757.4 884.2h0M726.7 928.6h0M745.5 929.3h0M715.2 982.6h0M730.5 928.3h0M809.1 949.8h0M775.3 905.3h0M719.2 919.5h0M802 941.9h0M718.2 944.7h0M750.6 919h0M808.7 871.9h0M824.6 836.3h0M807.5 949.1h0M836 952.3h0M752.4 882.5h0M814 954.4h0M830 869.1h0" stroke="#2a1c52" stroke-width="1.5" stroke-linecap="round"/>
<path d="M767.7 910.8h0M763.2 907.6h0M807.9 960.8h0M756.5 904.8h0M758.5 893.9h0M818.8 850.6h0M756.9 890.7h0M737 912.7h0M748.5 922.2h0M757.2 938.3h0M791.1 969.4h0M771.1 927h0M802.7 984.1h0M815.9 950h0M821.9 990h0M772.2 902.4h0M772.8 995.4h0M782.3 952.4h0M767.8 902.3h0M795.1 959.7h0M721.5 956.7h0M806.7 970.7h0M750.8 920.9h0" stroke="#3a2a62" stroke-width="2.4" stroke-linecap="round"/>
<path d="M789.1 954.6h0M761.3 910.2h0M764.8 890.5h0M745.8 914.3h0M806.8 982.9h0M747.8 904.9h0M787 910.4h0M738.8 937.3h0M801.9 968.7h0M730.6 919h0M827.7 971.4h0M824.7 948.6h0M716.6 868h0M761.4 910.9h0" stroke="#5e5284" stroke-width="1.2" stroke-linecap="round"/>
<path d="M761 994.8h0M823.1 944.8h0M796.6 969.3h0M761.8 898.7h0M763.1 908.3h0M773.6 916h0M803.7 855.5h0M763.7 891.8h0M820.8 953.9h0M815.8 872.4h0M752.2 917.5h0M818.2 955.8h0M816.1 946.9h0M742.9 909.4h0M831.7 885.6h0M792.9 895.9h0M754.5 888.9h0M812.8 870.3h0" stroke="#2a1c52" stroke-width="2.4" stroke-linecap="round"/>
<path d="M752.8 898h0M797.2 972.5h0M809.1 846.7h0M722.6 934.7h0M767.5 914h0M771.8 876.8h0M759.1 895.4h0M841 861.9h0M803.6 962.5h0M835.8 921.8h0M720.8 935.5h0M789.7 944.8h0M824.5 952.5h0M833.1 942h0M757.4 900.6h0M804.3 968.9h0M756.8 914.2h0M837.3 984h0M818.6 958.9h0M798.7 967.7h0M799.2 951.3h0M770.6 888.3h0M767.5 889.9h0M747.3 925.6h0M803.6 992.1h0M810 936.2h0M737.5 908.3h0" stroke="#5e5284" stroke-width="1.8" stroke-linecap="round"/>
<path d="M835.5 924h0M743.5 887.8h0M752.6 880h0M758.4 918.1h0M798.2 949.3h0M768.4 895.3h0M744.7 906.2h0M827.2 938.5h0M831.4 914.8h0M828.2 873.9h0" stroke="#5e5284" stroke-width="2.1" stroke-linecap="round"/>
<path d="M747.8 911h0M823.1 912.8h0M821.4 965.1h0M821.1 912.1h0M759.6 905.9h0M771.9 920.7h0M803.6 972.5h0M837.3 876.4h0M805.5 978.7h0M803.9 956.2h0M830.3 970.9h0M802.2 960.9h0M807.9 941.9h0M825.7 860.7h0" stroke="#4a3c74" stroke-width="2.1" stroke-linecap="round"/>
<path d="M740.3 909.7h0M757.2 904.9h0M820.6 895.8h0M791 980.2h0M796.5 978.9h0M759.1 897.4h0M801.9 961.3h0M748.1 925.8h0M822.2 910.2h0M766.2 913.8h0M755.3 890.9h0M811.8 969.8h0M737.7 904.2h0M792.2 876.6h0M828.1 901.4h0M800.5 949.8h0M751.8 913.9h0M805.7 958.2h0M771.2 907h0M743.9 909.5h0M746.4 910h0M745.5 883.7h0M807.7 962.9h0M787.6 978.1h0M804.8 963.4h0M738.1 897.3h0M804.7 954.7h0M809.7 858h0M765.2 914h0M754.2 912.4h0" stroke="#7a6f9c" stroke-width="1.5" stroke-linecap="round"/>
<path d="M808.5 961.4h0M817.6 976.7h0M719.6 909.2h0M812.8 962.3h0M831.7 912.2h0M819.6 871.7h0M831.9 974h0M822.4 911.5h0M816 969.2h0M749.3 907.4h0M764.1 909.5h0M757 905.8h0M805.8 958.1h0M836.3 871.7h0" stroke="#7a6f9c" stroke-width="2.1" stroke-linecap="round"/>
<path d="M827.6 850.9h0M804.1 970.4h0M824.1 857.8h0M807 838.1h0M753 893.3h0M799.2 971.9h0M773.1 894.2h0M799.8 936.4h0M727.6 920h0M709.4 978.4h0M809.2 887.3h0M758.8 881.9h0M808.2 956.3h0M712.9 896.4h0M742.8 911.1h0M747.2 879.1h0M809.7 969.2h0M832.1 936.8h0M796.5 992.8h0M753.8 905.3h0M753.4 901.7h0M684.9 878h0" stroke="#3a2a62" stroke-width="1.2" stroke-linecap="round"/>
<path d="M742.2 903.2h0M817.7 956h0M753 929.7h0M760.2 906.7h0M807.8 981.7h0M796.7 954.8h0M819.7 968.6h0M764.2 892h0M830.3 937.8h0M727.2 938.7h0M834.7 869.7h0M752.1 891.4h0M761.6 877.5h0M806.5 940.4h0M752.3 877.8h0M759.9 895.2h0M786.6 967.5h0M815.3 881h0M833.6 886.5h0M806.4 963.5h0M739.6 983.8h0M737.2 911.3h0M791.9 929.4h0M735.2 928.1h0M821.3 868.8h0M800.4 935.7h0M756.2 875.9h0M770.7 913.2h0M768.3 918.8h0M802.7 847.3h0M784.2 933.4h0M749.9 991.4h0M758.8 914.3h0M751.4 905.5h0M833.6 933h0" stroke="#1e1340" stroke-width="1.5" stroke-linecap="round"/>
<path d="M830.5 888.2h0M804.7 870.9h0M828.9 945.1h0M746.5 906.7h0M790.6 960.1h0M809.8 942.9h0M757.5 896.3h0M759.1 900.4h0M807.2 970.6h0M806.2 951.5h0M828.6 925.3h0M809.7 956.4h0" stroke="#7a6f9c" stroke-width="1.2" stroke-linecap="round"/>
<path d="M764.8 909.3h0M817.2 976.5h0M720.4 933.3h0M840.4 980.3h0M760.3 887.8h0M758.7 899.6h0M759.8 888.2h0M797.2 960.6h0M826.9 892.8h0M788.7 967.7h0M799.8 950.5h0M747.8 907h0" stroke="#4a3c74" stroke-width="1.2" stroke-linecap="round"/>
<path d="M802.5 950.8h0M756.1 918.9h0M836.1 862.7h0M731.8 835.3h0M759.4 901h0M760.8 883.8h0M841.5 903.5h0M814.8 987.7h0M748.6 918.1h0M749.7 907.8h0M767.8 910h0M815.5 880.4h0M834 954.8h0M726.1 914.4h0M754.7 899h0M777.3 919.7h0M767.5 895h0M808.4 968h0M823.6 869.8h0M824.1 965.6h0M769 900.8h0M729.3 905.3h0M814.7 877.6h0M819.1 960.3h0M799.2 867h0M689.1 955.5h0M743.3 916.6h0M747.7 928.7h0M723.2 992.8h0M812.5 921h0M809.3 949h0M745.5 896h0M810 986h0M756.7 897.7h0M708.7 842.2h0" stroke="#3a2a62" stroke-width="1.5" stroke-linecap="round"/>
<path d="M756.4 905.8h0M748.6 929.3h0M820.3 964h0M801.5 878.3h0M798.6 973h0M811 935.9h0M793.1 838.9h0M765.7 908.5h0M834.9 979.6h0M747.5 903.2h0M754.3 916h0M810.7 845.9h0M794.6 946.4h0M832.9 950.8h0M837.6 898.8h0M835.7 888.8h0M801.2 959.2h0M803.6 876.9h0M789.8 957.5h0M755 870h0M832.5 881.4h0M823.6 991.3h0M822 974.1h0M761.5 894.2h0M828.8 896.6h0M799.4 966.9h0M824.4 965.3h0M834.9 872.5h0M760.4 899.4h0M831.7 909.4h0M774.7 916.9h0" stroke="#4a3c74" stroke-width="1.5" stroke-linecap="round"/>
<path d="M841.8 880.6h0M800.4 949.8h0M813.4 982.6h0M723.1 925.9h0M737 877.4h0M755.6 920.8h0M744 877.9h0M756.9 896.6h0M732.9 892.3h0M769.1 919.9h0M732.1 941.8h0M718.3 921.9h0M796.4 894.4h0M802.3 970h0M754.5 905.4h0M770.8 900.5h0M763.7 891.9h0M739.1 911h0M807.3 875.1h0M833.8 871.9h0M692 916.6h0M749.2 882.6h0M786.3 979.5h0M810.4 972.4h0" stroke="#2a1c52" stroke-width="1.8" stroke-linecap="round"/>
<path d="M743.5 886.3h0M729 924.8h0M758.3 890.9h0M808.5 978.5h0M745.6 876.9h0M719.8 937.6h0M748 871.2h0M750.9 872.9h0M755.4 920.6h0M830 913h0M820 869.7h0M740.8 908.4h0M752.5 909.5h0M754.7 895.6h0M761.6 910.1h0M748.4 909.8h0" stroke="#2a1c52" stroke-width="1.2" stroke-linecap="round"/>
<path d="M756.5 896.3h0M795.2 962h0M771.6 902.5h0M812.9 964.6h0M827.6 891.5h0M798.8 961h0M771.8 885.9h0M758.4 904.6h0M731.6 924.2h0M824.5 908.2h0" stroke="#5e5284" stroke-width="2.4" stroke-linecap="round"/>
<path d="M753.3 870.3h0M814.8 940.7h0M808.4 976.3h0M832.1 946.4h0M766.6 896.9h0M819.9 870.1h0M751.6 917.4h0M841.2 870.4h0M793 957.5h0M810.9 980.8h0M821.8 845.7h0M804 998h0M759 885.9h0M787.6 967.9h0M830.9 934.1h0M826.4 850.1h0M799.2 970.1h0M746.8 913.4h0" stroke="#1e1340" stroke-width="2.1" stroke-linecap="round"/>
<path d="M800.1 959.8h0M738 926.8h0M813.9 957.6h0M770.5 905.2h0M712.3 928.8h0M808.1 930.4h0M751.2 915.2h0M830.4 921.6h0M814.3 976h0M774.4 885.3h0M809.8 860.7h0M812.5 967.6h0M740.8 895.9h0M835.5 940.1h0M756.4 884h0M804.4 973h0M764.6 906.4h0M768.3 901.7h0M800.9 960.3h0M696.5 967.8h0M800.2 972.4h0M811.3 966.9h0M756.8 905.7h0M755.3 909.9h0M760.9 879.9h0M723.1 981.3h0" stroke="#4a3c74" stroke-width="1.8" stroke-linecap="round"/>
<path d="M712.9 864.3h0M815.4 886.5h0M824.3 970.4h0M714.3 889.4h0M798.5 968.5h0M746.9 897.5h0M796.5 960.3h0M737.3 918.9h0M800.2 976.7h0M747.4 897.5h0M713.4 840.5h0M771.6 916.1h0M796 964.2h0M794.8 994.8h0M796.4 913.3h0M830.1 965.1h0M810.9 877.8h0" stroke="#2a1c52" stroke-width="2.1" stroke-linecap="round"/>
<path d="M762.1 885.6h0M795.5 984.4h0M765 889h0M766.5 889.1h0M759.5 871.3h0M736.1 901.6h0M772.4 888.9h0M800.2 866.2h0M815.1 954.5h0M826.6 857.7h0M767.9 889.8h0M747.3 891h0M725.3 919.9h0M806.1 950.6h0M820 854.9h0M753.1 910.8h0M827.4 865.9h0M763.1 909.8h0M812.6 954.3h0M757.1 912.7h0M723.5 932.2h0M828.3 944.3h0M824.2 906.4h0M805.8 962.8h0M800 954.6h0M750.7 886.3h0M772.1 898.3h0" stroke="#1e1340" stroke-width="1.8" stroke-linecap="round"/>
<path d="M832.1 916.6h0M760.4 929.2h0M777.6 910.4h0M813.1 890.1h0M729.4 879.3h0M730.5 880.4h0M814.1 860.3h0M830.2 883.8h0M767.4 898.7h0M768.4 898.8h0M773.3 912.3h0M761.9 868.9h0M748.2 895.6h0" stroke="#1e1340" stroke-width="2.4" stroke-linecap="round"/>
<path d="M748.4 967.2h0M729.3 936.1h0M815.3 878.7h0M772.6 906.2h0M831.3 935.5h0M828.7 928.3h0M806.4 966.6h0M807.6 964.3h0M800.5 887.1h0M811 998.2h0M793.2 957h0M755.6 925.1h0M801.2 967.2h0M737 885h0M766.1 909.8h0M805 966.3h0M806.4 850.8h0M813.2 884h0M761.1 907.4h0M750.5 892.3h0M826.3 852.8h0M755.5 989.3h0M809.8 970.3h0" stroke="#3a2a62" stroke-width="1.8" stroke-linecap="round"/>
<path d="M786.1 966.7h0M802.8 964.7h0M823.5 975.9h0M786.1 953.5h0M817.9 971.8h0M799.7 959.9h0M806.7 969.4h0M757.4 910.2h0M689.7 953.7h0M777 907.4h0M751.9 883.4h0M819.6 909.4h0M794.7 966.1h0M775.6 977.8h0" stroke="#4a3c74" stroke-width="2.4" stroke-linecap="round"/>
<path d="M744.8 890.8h0M823.4 943.3h0M746.1 897.9h0M819.9 867h0M827.7 953.1h0M804.2 916.9h0M744 857.4h0M819.9 880.2h0M841.9 970.1h0M802.3 985.2h0M820.1 883.9h0M828.2 949.6h0" stroke="#3a2a62" stroke-width="2.1" stroke-linecap="round"/>
<path d="M735.6 918.7h0M822.7 872.1h0M822.9 866.4h0M825.2 863.5h0M807.4 996.3h0M757.1 924.8h0M776.8 877.8h0M755.9 898.7h0M738.7 906.1h0M815.4 1000.1h0M759.2 895.6h0M763 900.8h0M795 953.2h0M773.8 895.1h0M759.8 961.8h0M828.6 881.5h0M809.2 925.4h0M815.1 979.2h0M819.2 938h0" stroke="#7a6f9c" stroke-width="2.4" stroke-linecap="round"/>
<path d="M810.8 956.8h0M800.3 870.1h0M824.4 881.5h0M822.3 896.3h0M751.7 891h0M834.9 845.8h0M802.4 983.3h0M748.5 890.7h0M762.6 904.6h0" stroke="#1e1340" stroke-width="1.2" stroke-linecap="round"/>
<path d="M842.2 854.2h0M764.9 906.8h0M758.6 919.6h0M823.2 878.5h0M814 991h0M750.2 891.8h0M803 958.3h0M750 920.8h0M763.9 910h0M832.9 981.6h0M753.8 885.6h0M833.4 865.2h0M773.9 917.8h0M764.5 929.9h0M814.2 974h0M821.9 901.2h0M843.3 858.3h0M756.3 875h0M759.5 879.1h0M836.7 864.8h0M765.2 913h0M802.3 920.9h0M769.7 909.6h0M807 916h0M768.2 902.2h0" stroke="#7a6f9c" stroke-width="1.8" stroke-linecap="round"/>
<path d="M746.1 898.1h0M760.8 897.8h0M757.1 892h0M769.9 893.9h0M779.7 900.1h0M807.4 976.4h0M814 984.9h0" stroke="#1e1340" stroke-width="3.4" stroke-linecap="round"/>
<path d="M766.5 904.9h0M775.9 876h0M750.9 934.5h0M807.7 950.6h0M805.8 965.3h0" stroke="#2a1c52" stroke-width="3.0" stroke-linecap="round"/>
<path d="M771.4 913.6h0M810 957.7h0" stroke="#1e1340" stroke-width="3.0" stroke-linecap="round"/>
<path d="M746.2 914.6h0M758.4 898.8h0M754.1 920.2h0M750.7 912.7h0M811.3 963.1h0" stroke="#1e1340" stroke-width="2.6" stroke-linecap="round"/>
<path d="M748.1 887.3h0M816.1 993.9h0" stroke="#2a1c52" stroke-width="3.4" stroke-linecap="round"/>
<path d="M798.8 953.8h0" stroke="#2a1c52" stroke-width="2.6" stroke-linecap="round"/>
<path d="M684 1001C684.5 999.6 686.6 995.4 687.2 992.7C687.9 989.9 686.8 986.4 687.9 984.3C689.1 982.3 691.7 981.2 694.2 980.3C696.6 979.5 700.1 978.5 702.6 979C705 979.5 706.8 981.2 708.9 983.2C711 985.2 713 988 715.1 991C717.3 994 720.8 999.3 721.9 1001" fill="none" stroke="#5d5080" stroke-width="2.4" stroke-linejoin="round"/>
</g>
<text x="725.4" y="863.3" font-size="19.5" font-weight="bold" textLength="23.8" lengthAdjust="spacingAndGlyphs">Vc</text>
<text x="709.3" y="956.8" font-size="19.5" font-weight="bold" textLength="17.2" lengthAdjust="spacingAndGlyphs">Vl</text>
<text x="794.3" y="971.8" font-size="19.5" font-weight="bold" textLength="22.3" lengthAdjust="spacingAndGlyphs">Vv</text>
<path d="M738.3 868.3L744.5 875.2" stroke="#111" stroke-width="1.6"/>
<path d="M748.8 880L742.2 877.2L746.7 873.2Z" fill="#111"/>
<path d="M816.6 996.2H840.2" stroke="#000" stroke-width="2.4"/>
<clipPath id="c21"><rect x="850.6" y="834.4" width="164.8" height="166.6"/></clipPath>
<g clip-path="url(#c21)">
<rect x="850.6" y="834.4" width="164.8" height="166.6" fill="#eeecf1"/>
<rect x="850.6" y="834.4" width="164.8" height="166.6" filter="url(#tex1)"/>
<ellipse cx="863.8" cy="942.7" rx="13.2" ry="25" fill="#6a5a90" opacity="0.06" filter="url(#blur8)"/>
<path d="M847.3 974.3C847.9 969.3 848.7 975 850.6 974.3C852.5 973.6 856 971.6 858.8 970.2C861.7 968.8 865.2 966.2 867.7 966C870.3 965.9 871.1 967.1 874 969.3C876.9 971.6 881 975.7 885.2 979.3C889.4 983 896.7 986.8 899.2 991C901.7 995.2 908.7 1002.1 900 1004.3C891.4 1006.6 856.1 1009.3 847.3 1004.3C838.5 999.3 846.8 979.3 847.3 974.3Z" fill="#f8f7f4"/>
<path d="M957.6 877.9h0M868.1 865.1h0M962.1 908.8h0M975.1 987.1h0M873.2 957.5h0M957.6 876.1h0M950.1 881.4h0M972.2 877.7h0M935.6 900.4h0M945 894.2h0M977.3 976.4h0M992.1 870h0M1004.2 966.5h0M963.3 878.8h0M940.1 916.5h0M935.1 907.9h0M954 905.5h0M985.1 968.2h0M985.4 855.9h0M947.5 904.9h0M938.8 901h0M943.7 915.4h0M957 926.4h0" stroke="#3a2a62" stroke-width="1.8" stroke-linecap="round"/>
<path d="M925.6 862h0M953.9 907.5h0M983.4 966.5h0M938.4 916.2h0M955.3 913.3h0M960.3 909.5h0M952 850.7h0M931.1 900.7h0M947.2 872.8h0M960.7 913.5h0M974 873.5h0M897.5 934.6h0M932.9 915h0" stroke="#2a1c52" stroke-width="1.2" stroke-linecap="round"/>
<path d="M924.1 870h0M989.1 943.4h0M938.7 913.6h0M942.3 932.9h0M985.8 853.4h0M967 911.8h0M976.3 947.4h0M927.9 919.7h0M934.6 865h0M937.1 911.8h0M975.9 975.9h0M941 911h0M999.9 878.8h0M950.7 912.5h0M936.8 910.3h0M942.2 899.9h0M916.7 977.8h0M918.3 875.6h0M1004 859.3h0M927.4 909.6h0M950.2 865.6h0" stroke="#7a6f9c" stroke-width="1.8" stroke-linecap="round"/>
<path d="M980.5 876.7h0M977.6 877.2h0M915.6 867.7h0M927.6 873.7h0M882.8 836.6h0M985.5 881.7h0M997.8 978.9h0M941.4 913.6h0M946.6 903.7h0M923.5 912.2h0M1000.6 875.5h0M972.1 994.5h0M981 843.7h0M978.3 898.9h0M992.1 888.9h0M962.4 909.2h0M863.5 903.4h0M956.7 914.9h0M924.5 934.4h0M914.3 856.5h0M982.1 861.2h0M963 978h0M938.2 915.7h0M955 864.8h0M984.8 977.2h0M858.2 866.4h0M918.5 900.3h0M993 860.4h0" stroke="#4a3c74" stroke-width="1.5" stroke-linecap="round"/>
<path d="M953.6 843.8h0M876.2 900.2h0M983.3 848h0M935.2 868.3h0M944.7 911.4h0M905.3 881.7h0M995.2 894.2h0M984 964.7h0" stroke="#3a2a62" stroke-width="2.4" stroke-linecap="round"/>
<path d="M1006.5 863.4h0M974.8 977.1h0M929.7 875.4h0M953 908.3h0M861.4 967.8h0M952.6 914.7h0M934.6 966.9h0M977.6 907.6h0M959.9 874.7h0M913.9 878.6h0M959.3 858.4h0M976.6 971.1h0M946.3 895.6h0M979.5 986.4h0M961.2 918h0M949.9 917.1h0M976.1 883.3h0M957.3 896.6h0M994.1 986.8h0" stroke="#7a6f9c" stroke-width="1.5" stroke-linecap="round"/>
<path d="M978.3 857.2h0M967.6 853h0M969.4 880.7h0M1003.8 878.5h0M967.9 957.2h0M991.8 954.4h0M984.3 990.4h0M932.1 910.6h0M975.1 878.1h0" stroke="#7a6f9c" stroke-width="2.4" stroke-linecap="round"/>
<path d="M926.6 882h0M924.4 880.2h0M968.2 972.5h0M945.8 906.4h0M964 886.9h0M910.5 907.3h0M941.2 894.7h0" stroke="#5e5284" stroke-width="2.1" stroke-linecap="round"/>
<path d="M978.8 856.2h0M986.4 954.5h0M919 891.9h0M991.8 855.4h0M853.7 911.4h0M997 870.5h0M956.8 908.1h0M946.4 917.4h0M903.2 872.6h0" stroke="#5e5284" stroke-width="2.4" stroke-linecap="round"/>
<path d="M1003 858.6h0M978.6 961.9h0M947.1 917.2h0M956.4 918.5h0M985.5 955.8h0M942.1 844.1h0M1002.4 953.1h0M947.8 928h0M966.4 876.6h0M940.6 908h0M991.2 857.7h0M975.3 914h0M929 918.3h0M985.1 924.3h0M959.4 931h0M952.3 847.6h0M975.1 992h0M958.5 914.1h0M931.5 886.9h0M987.2 877.5h0M858.5 856.9h0M960.9 872.2h0M955.5 866.1h0M957.4 971.3h0M943.5 863.6h0M962.5 921.3h0M980.8 885h0M1011.1 852.8h0M955.4 919h0M957.1 911.7h0M964.7 838.1h0M957 927.2h0M976.7 968.4h0" stroke="#3a2a62" stroke-width="1.5" stroke-linecap="round"/>
<path d="M984.3 864.6h0M991.9 942.6h0M1012.5 884.6h0M987.2 986.7h0M951.6 921h0M923.4 860.2h0M1003.3 856.8h0M965.2 874.7h0M971.4 911.6h0M943.9 898.2h0M951.2 907h0M959.3 925.5h0M920.7 904.3h0M957.5 915.7h0M947.5 901.3h0M948.9 908.6h0M948.7 877.5h0M1005.5 965h0M992.4 983.8h0M991.5 967.5h0M911.9 862.2h0M985.8 955.8h0M950.1 907.7h0M959.1 913.5h0M985.9 964h0M965 874.7h0M908.3 865.9h0M860.4 963.8h0" stroke="#5e5284" stroke-width="1.5" stroke-linecap="round"/>
<path d="M1001 885h0M1001 861.6h0M927.3 899.1h0M969.3 945.4h0M939.5 912.7h0M1005.6 873h0M972.6 868.6h0M986.5 960.8h0M949.7 854.8h0M994.8 854.1h0M949.6 924h0M987.3 976.7h0M964 847.4h0M961.9 870.4h0M956.6 921.4h0M1005.9 861.8h0M953.7 913.1h0M977.5 974.9h0M974.1 951.6h0M946.6 908.2h0" stroke="#2a1c52" stroke-width="1.8" stroke-linecap="round"/>
<path d="M975 967.2h0M973.9 900.7h0M910.8 851.3h0M944.7 942h0M979.7 971.9h0M918.3 882.7h0M964.9 924.4h0M974.6 965.8h0M992.9 861.9h0M978 959.1h0M1010.9 914.3h0" stroke="#2a1c52" stroke-width="2.4" stroke-linecap="round"/>
<path d="M967.8 918.7h0M998.9 892.3h0M912.1 847.3h0M1012.8 872.3h0M930.6 873.5h0M985.6 878.3h0M899.8 887.2h0M957.8 911.4h0M978.4 961.4h0M987.3 967.9h0M931.3 846.5h0M982.6 842.7h0M986.6 883.5h0M930.1 852.8h0M985.6 861.1h0M976.5 960.3h0M980.7 856.1h0M1014.3 861.5h0M940.7 904.1h0M946.1 900.9h0M995.6 956.2h0M931.6 862.3h0" stroke="#4a3c74" stroke-width="1.8" stroke-linecap="round"/>
<path d="M955.1 968.2h0M962.1 859.1h0M979.6 872.8h0M963.1 880.6h0M866.4 874.6h0M1011.4 865.2h0M1004.1 908.2h0M946.2 910.9h0M979.8 962.3h0M954 844.2h0M933.6 896.4h0M936.4 904.2h0M925.1 904.8h0M930.1 948.8h0M970.5 855.3h0M936.6 923.7h0M891.3 891.6h0M990.4 868.5h0M965.5 846.2h0M905.6 944.8h0M925.2 885.2h0M966.8 864.3h0M939.1 906.5h0M957.1 912.2h0M952.5 909.1h0M945.1 923.2h0M937.3 906.2h0M932.4 921.4h0M966.8 961.4h0M952.1 912.1h0M956.1 907.1h0" stroke="#1e1340" stroke-width="1.5" stroke-linecap="round"/>
<path d="M985.2 976h0M961.3 903.3h0M963.2 908.4h0M990.6 875.6h0M922.9 860.5h0M932.4 869.9h0M922.5 846.5h0" stroke="#4a3c74" stroke-width="2.4" stroke-linecap="round"/>
<path d="M950.3 841.5h0M957 932.7h0M978.1 973.7h0M979.1 874.9h0M968.8 972.1h0M959.9 894.2h0M950 917.4h0M955.6 908.8h0M995.2 942.3h0M1001.8 887.6h0M973.9 890.7h0M960.7 957.2h0" stroke="#7a6f9c" stroke-width="1.2" stroke-linecap="round"/>
<path d="M920.6 861.2h0M915.1 899.8h0M956.9 867.7h0M960.6 912.5h0M945 873.6h0M958.5 859.4h0M970.7 860.7h0M981.6 860.8h0M954.3 925.7h0M974.8 872.5h0M930.8 930.6h0M946.8 919.8h0M983.1 970h0M988.5 850.6h0M961.3 915.8h0M972.1 981.8h0M969.4 847.5h0M984.1 981.2h0M1005 916.7h0M934.8 860.8h0M988.3 898.7h0M1001.1 930.3h0M1001.4 974.5h0" stroke="#5e5284" stroke-width="1.8" stroke-linecap="round"/>
<path d="M954.5 917.7h0M921.6 911.1h0M966.1 857h0M972.4 859h0M924.9 841.1h0M936.2 868.8h0M921.5 888.9h0M975.5 877h0M991.2 858.4h0M968.8 917.6h0M989.5 841.2h0M964.2 867.5h0M983.3 965.9h0M980.9 978.8h0" stroke="#4a3c74" stroke-width="1.2" stroke-linecap="round"/>
<path d="M906.2 896h0M936.4 911.9h0M973.3 978.2h0M979.1 858.6h0M933.6 871.5h0M980.5 957h0M987.5 946.6h0M1003.3 853.9h0M979.6 968.9h0M942.6 856.7h0M1005.2 893.9h0M950.2 919.7h0M877.3 970h0M870.7 910.4h0M953.9 909.3h0M973.3 982.1h0M1007.2 946.1h0M958.4 913.1h0M927.1 928.8h0M916.6 859.2h0M929.2 883.7h0M928.9 910.4h0" stroke="#2a1c52" stroke-width="1.5" stroke-linecap="round"/>
<path d="M943.7 902.8h0M950.8 869.8h0M945.7 878.5h0M971.2 886.1h0M943.1 896.5h0" stroke="#1e1340" stroke-width="2.4" stroke-linecap="round"/>
<path d="M855.2 933.6h0M1003.1 855.6h0M982.1 971.4h0M919.2 864h0M969 858.8h0M952.1 918.4h0M921.1 849.9h0M982.8 964.9h0M937.9 866.1h0M966.3 891.1h0M1004.8 870.5h0M983.9 954.2h0M949.3 902.9h0M983.1 932.7h0M970 881.6h0M948.6 911.4h0M945 908.3h0M951.9 904.6h0M1012.7 876.6h0M935.3 861.1h0M947.6 875h0" stroke="#1e1340" stroke-width="1.8" stroke-linecap="round"/>
<path d="M975.6 924.6h0M987.2 848.5h0M988.5 904.1h0M1010.8 873.6h0M935.1 996.9h0M973.1 844.2h0M959.1 921.2h0M911.5 856.3h0M978.5 956.9h0M960.6 844h0" stroke="#4a3c74" stroke-width="2.1" stroke-linecap="round"/>
<path d="M953.1 911.1h0M953.4 909.9h0M946.8 850h0M961.8 921h0M943 904.9h0M951.3 911.2h0M893.2 975.3h0M972.2 958.1h0M935.2 904.3h0M960.3 870.8h0M982.5 861.6h0M982.9 871.1h0M976 987.4h0" stroke="#3a2a62" stroke-width="2.1" stroke-linecap="round"/>
<path d="M1014.4 995.1h0M932.9 933h0M916.5 856.6h0M940.9 909.1h0M990.2 849.7h0M1012.9 882.1h0M942.6 900.4h0M862 861.5h0M954.9 871.8h0M928.2 945.1h0M930.8 901.6h0" stroke="#1e1340" stroke-width="2.1" stroke-linecap="round"/>
<path d="M954.5 914.4h0M911.4 933.8h0M942.5 911.1h0M955.7 856.1h0M934.2 884.8h0M982.1 963.6h0M938.3 905.8h0M979.6 950.5h0M946.8 910h0M987.1 947.5h0" stroke="#3a2a62" stroke-width="1.2" stroke-linecap="round"/>
<path d="M939.2 910.1h0M977.5 992.4h0M864.4 924.6h0M968.9 835.3h0M987.3 982.6h0M1002.6 865.7h0M961.2 857.3h0M977.6 864h0M995.7 875.4h0M970.9 962.5h0M976.4 938h0M988.3 888.2h0M957.9 881h0M986.8 963.6h0" stroke="#7a6f9c" stroke-width="2.1" stroke-linecap="round"/>
<path d="M983.9 871.8h0M965.2 845.6h0M943.3 855.6h0M982.2 961.4h0" stroke="#2a1c52" stroke-width="2.1" stroke-linecap="round"/>
<path d="M982.8 857.1h0M935.3 911.7h0M965.8 890.1h0M979 866.9h0" stroke="#1e1340" stroke-width="1.2" stroke-linecap="round"/>
<path d="M961.7 907.2h0M947 911.3h0M983.2 841.5h0M865.9 859.7h0M950.3 912.6h0M992.8 963.8h0M1003.8 863.8h0M892.3 888.6h0M983.4 976.1h0M947 918.9h0M925 953.8h0" stroke="#5e5284" stroke-width="1.2" stroke-linecap="round"/>
<path d="M986.7 861.8h0M969 890h0M977.7 871.6h0M967.2 873.5h0M919.8 848.7h0M943.2 838h0" stroke="#1e1340" stroke-width="3.4" stroke-linecap="round"/>
<path d="M976.4 853.3h0M962.3 848.9h0" stroke="#2a1c52" stroke-width="2.6" stroke-linecap="round"/>
<path d="M988.2 846.3h0M991.8 873.2h0M987.4 875.4h0M967.4 851.8h0" stroke="#1e1340" stroke-width="2.6" stroke-linecap="round"/>
<path d="M986.7 858h0M950.2 849.6h0" stroke="#2a1c52" stroke-width="3.4" stroke-linecap="round"/>
<path d="M1009.8 863.2h0M993.2 874.3h0M960.3 846.2h0" stroke="#2a1c52" stroke-width="3.0" stroke-linecap="round"/>
<path d="M970.3 845.2h0" stroke="#1e1340" stroke-width="3.0" stroke-linecap="round"/>
<path d="M850.6 975.2C852 974.4 856 972.1 858.8 970.7C861.7 969.2 865.2 966.7 867.7 966.5C870.3 966.4 871.1 967.6 874 969.8C876.9 972.1 883.3 978.2 885.2 979.8" fill="none" stroke="#3e3060" stroke-width="2.4" stroke-linejoin="round"/>
<path d="M885.2 979.8C887.5 981.7 897.6 988.3 899.2 991C900.9 993.7 895.8 995.2 895.1 996" fill="none" stroke="#9a90b0" stroke-width="1.2" stroke-linejoin="round"/>
</g>
<text x="909.7" y="889.1" font-size="19.5" font-weight="bold" textLength="23.3" lengthAdjust="spacingAndGlyphs">Vc</text>
<text x="887.4" y="935.3" font-size="19.5" font-weight="bold" textLength="17.2" lengthAdjust="spacingAndGlyphs">Vl</text>
<text x="961.3" y="983.4" font-size="19.5" font-weight="bold" textLength="23.6" lengthAdjust="spacingAndGlyphs">Vv</text>
<path d="M925 891L930.5 897.7" stroke="#111" stroke-width="1.6"/>
<path d="M934.6 902.7L928.2 899.6L932.8 895.8Z" fill="#111"/>
<path d="M990.5 996.2H1012" stroke="#000" stroke-width="2.4"/>
<clipPath id="c22"><rect x="1021.2" y="834.4" width="164.3" height="166.6"/></clipPath>
<g clip-path="url(#c22)">
<rect x="1021.2" y="834.4" width="164.3" height="166.6" fill="#eeecf0"/>
<rect x="1021.2" y="834.4" width="164.3" height="166.6" filter="url(#tex2)"/>
<path d="M1171 864.8h0M1162.6 950.8h0M1107.2 924.8h0M1053.3 858.9h0M1172.4 907.9h0M1142.4 928h0M1124.9 849.4h0M1034.7 975h0M1171.1 948.4h0M1158.5 977h0M1182.3 924.1h0M1172 978.1h0M1109.1 915.4h0M1108.7 919.3h0M1114.1 923.2h0M1165.8 894.3h0M1168.4 862.4h0M1107.2 900.7h0M1178.2 861.2h0M1048.8 865.6h0" stroke="#7a6f9c" stroke-width="1.8" stroke-linecap="round"/>
<path d="M1165.8 991.7h0M1132.7 856.9h0M1078.5 936.3h0M1109.5 920.1h0M1133.4 916.3h0M1171 955.3h0M1139.2 970.9h0M1134.7 927h0M1165.3 875.5h0M1170.4 965.9h0M1178.9 856.1h0M1120 914h0M1157.7 966.4h0M1073.2 897.2h0" stroke="#3a2a62" stroke-width="2.4" stroke-linecap="round"/>
<path d="M1146.7 844.5h0M1114.7 921.9h0M1155.4 978.5h0M1124.9 931.3h0M1108.1 901.4h0M1158 984.2h0M1117.4 900.3h0M1168.4 987.8h0M1177.9 924.8h0M1105.6 896.8h0M1165.2 888h0M1163.1 945.7h0M1122 912.5h0M1112.4 935.1h0M1125.2 906.4h0M1159.2 860.2h0" stroke="#3a2a62" stroke-width="1.8" stroke-linecap="round"/>
<path d="M1138.9 853.6h0M1156.9 936.4h0M1183.1 941h0M1181.2 978h0M1116.5 901.1h0M1164 961.9h0M1182.6 884.9h0M1095.7 946.6h0M1168.4 936.3h0M1102.3 932.9h0M1119.6 898.9h0M1111.6 927h0M1142.1 958.1h0M1175.9 859.3h0M1166.1 981.5h0M1078.6 849h0M1075.6 874.4h0M1180.7 945.3h0M1164.7 988h0M1107.6 901.5h0M1170.4 928.3h0M1176.5 928h0" stroke="#2a1c52" stroke-width="1.8" stroke-linecap="round"/>
<path d="M1177 838.8h0M1165.3 919.7h0M1173.6 956.4h0M1156.7 965.3h0M1117.8 925.2h0M1041.6 841h0M1113.5 913.8h0M1171.8 991.2h0M1166.3 976.6h0M1173.6 885.4h0M1134.5 923.6h0M1120.9 935h0M1158.7 893.4h0M1119.7 923h0M1180.1 898.2h0M1108.2 947.9h0" stroke="#1e1340" stroke-width="2.4" stroke-linecap="round"/>
<path d="M1182.6 917.2h0M1114 866.3h0M1114 930.6h0M1164.8 964.1h0M1166.4 911.8h0M1112.1 917.8h0M1115.9 913.7h0M1182.2 937.1h0M1173.4 974.8h0M1166.2 907.4h0M1144.1 933.7h0M1105.6 901.4h0M1170.9 975.7h0M1174.8 882.2h0M1117.9 922.2h0M1145.6 985.5h0M1168.9 962.2h0M1126.8 905.4h0M1174.2 952.3h0M1170.4 847.9h0M1154.6 967h0M1173.1 853.7h0M1110.8 912.3h0M1173 943.7h0M1168.1 928.8h0" stroke="#5e5284" stroke-width="1.8" stroke-linecap="round"/>
<path d="M1158.1 982.5h0M1108.2 916.8h0M1111.3 920.4h0M1162.6 876.1h0M1047.2 939.7h0M1172.5 921h0M1123.9 916.8h0M1174.8 951.1h0M1168.9 917.7h0M1100.3 901.6h0M1122.4 924h0M1170.6 974.8h0" stroke="#7a6f9c" stroke-width="2.1" stroke-linecap="round"/>
<path d="M1116.6 928.3h0M1076.8 1000.8h0M1169.4 973h0M1112.7 913.4h0M1077.9 848.7h0M1181.8 870.6h0M1111.3 909h0M1093.4 975.2h0M1164.2 965h0M1065.3 1000.4h0M1067.4 997.5h0M1163 947.1h0M1155.8 871.7h0M1165.3 911.9h0M1181.9 863.4h0M1129.6 914.1h0M1177.2 934.1h0M1157.2 908.3h0" stroke="#5e5284" stroke-width="1.5" stroke-linecap="round"/>
<path d="M1173.3 917.1h0M1176.6 905.2h0M1174.6 984.6h0M1163.9 884.5h0M1162.6 921.2h0M1174.3 902.2h0M1156.8 853.3h0M1103.9 962.1h0M1153.7 853.4h0M1176.2 970.1h0M1108 912.4h0M1166.2 890.1h0M1177.1 917.1h0M1123.7 920.4h0M1182.9 868.3h0M1179.1 973.8h0M1118 931h0M1093.4 851.4h0M1105.9 917.6h0M1152.9 877.5h0M1113.3 897.4h0M1150.9 988.6h0M1166 897.1h0M1119.4 909.4h0" stroke="#4a3c74" stroke-width="1.8" stroke-linecap="round"/>
<path d="M1181.2 986.1h0M1120.8 908.3h0M1174.2 954.2h0M1132.6 988.7h0M1151.9 953.9h0M1105.6 928.9h0M1173.5 953.7h0M1145.3 996.8h0M1163.8 928h0" stroke="#4a3c74" stroke-width="1.2" stroke-linecap="round"/>
<path d="M1174.8 940.6h0M1166.4 932.4h0M1116.3 898h0M1170.2 936.4h0M1118.7 925.9h0M1069.1 983.4h0M1169.4 986.2h0M1137.9 970.9h0M1180.1 871.7h0M1132.8 984.4h0M1169.2 915.3h0M1119 922.9h0M1046.2 964h0M1171.5 935.4h0M1091.6 835.9h0" stroke="#2a1c52" stroke-width="2.1" stroke-linecap="round"/>
<path d="M1160.8 979.3h0M1169.6 897.4h0M1167.7 1000.8h0M1175.1 993.6h0M1172.8 959.7h0M1108.9 906.9h0M1167.3 910.3h0M1172.9 936h0M1164.7 847.2h0M1176.9 986.5h0M1162.5 846h0M1114.7 938.6h0M1100.9 973.5h0M1167.2 899h0M1145.6 904.7h0" stroke="#2a1c52" stroke-width="1.5" stroke-linecap="round"/>
<path d="M1153 971.8h0M1175.4 937.8h0M1056.6 979.3h0M1113.4 864.6h0M1118.8 933.2h0M1049.8 983.1h0M1123.6 920.6h0M1156.4 888.9h0M1104 931.5h0M1068.9 847.3h0M1169.3 932.1h0M1147.9 977.4h0M1113.6 917.2h0M1178.5 870.8h0M1113.1 902.1h0M1159 984.8h0M1163.3 840.3h0M1110.7 920.4h0M1153.1 994.6h0M1168.8 987.2h0M1178 923.5h0M1115.2 892.4h0M1115.5 919.3h0M1174.1 902.4h0" stroke="#1e1340" stroke-width="1.8" stroke-linecap="round"/>
<path d="M1175.7 879.7h0M1171.7 993.9h0M1120 913.1h0M1114.3 862.8h0M1120.3 907.1h0M1130.7 897.3h0" stroke="#2a1c52" stroke-width="2.4" stroke-linecap="round"/>
<path d="M1100.3 914.7h0M1077.6 964.4h0M1110 922h0M1131.5 916.7h0M1127.7 988.8h0M1109.5 924.6h0M1180.9 975.3h0M1119.5 916.2h0M1111 922h0M1130 843.2h0M1119.4 913.3h0M1159 855.2h0M1122.7 860.9h0M1115.8 914.7h0M1109.8 912.2h0M1154 986.3h0" stroke="#7a6f9c" stroke-width="2.4" stroke-linecap="round"/>
<path d="M1172.3 982.8h0M1171.8 867.3h0M1171.5 889.8h0M1162.1 906.5h0M1125.3 922.3h0M1092.2 961.8h0M1176.8 945.4h0M1120.9 928.6h0M1112.1 934.5h0M1125.1 906.3h0M1114.8 923.2h0M1163.5 916.9h0M1138.6 842.9h0M1021.3 919.9h0" stroke="#4a3c74" stroke-width="2.4" stroke-linecap="round"/>
<path d="M1178.4 916.4h0M1170.3 899.7h0M1115 921.8h0M1149.1 921.6h0M1122.5 909h0M1110 932.3h0M1027.6 933.6h0M1070.4 937.8h0M1179.5 906.6h0M1173.4 998.6h0M1108.7 923.8h0M1087.5 979.6h0M1132.5 952.6h0" stroke="#3a2a62" stroke-width="1.2" stroke-linecap="round"/>
<path d="M1126.6 902h0M1105.5 849.1h0M1172.3 923.5h0M1163.5 891.7h0M1178 866.6h0M1165.6 927.9h0M1166 883.1h0M1165.3 853.6h0M1155.1 949.3h0M1136.1 906.5h0M1090.9 989.8h0M1165.4 927.3h0M1110.2 909.5h0M1166.9 887.8h0M1103.4 839h0M1117.4 922.7h0M1148.1 873.4h0M1150.6 938.9h0M1109.6 840.7h0" stroke="#1e1340" stroke-width="1.5" stroke-linecap="round"/>
<path d="M1170.1 877.2h0M1059.7 984h0M1111.9 915.6h0M1183.7 925.2h0M1110.7 936.6h0M1168.9 1000.8h0M1163 986.7h0M1176.5 911.9h0M1032 848.1h0M1181.1 890h0" stroke="#2a1c52" stroke-width="1.2" stroke-linecap="round"/>
<path d="M1089.1 842.3h0M1111.6 916.7h0M1174.4 837.5h0M1161.3 875.8h0M1146.6 979.2h0M1114.5 934.8h0M1171.8 891.7h0M1077.3 855.9h0M1170.7 978h0M1164 932.3h0M1159.9 973.1h0M1175.2 959.7h0M1131.8 850.3h0" stroke="#1e1340" stroke-width="2.1" stroke-linecap="round"/>
<path d="M1114 914.2h0M1115.9 922.5h0M1139.1 848.8h0M1176.1 948h0M1117.3 881.8h0M1120.2 923.4h0M1063.4 990.3h0M1176.1 896.3h0M1118.1 910.4h0" stroke="#3a2a62" stroke-width="2.1" stroke-linecap="round"/>
<path d="M1076.3 834.7h0M1127.3 862.2h0M1149.3 972.9h0M1102.6 995.5h0M1118.6 926h0M1172.2 894.1h0M1112.7 962.7h0M1174.8 913.3h0M1165 927.8h0M1064.4 910.7h0M1173.6 890.5h0M1178.4 933.4h0M1117.1 911.4h0M1182.4 840.6h0" stroke="#3a2a62" stroke-width="1.5" stroke-linecap="round"/>
<path d="M1174.5 920.4h0M1175.1 941.6h0M1174.8 925.7h0M1059.5 991h0M1034.7 916.6h0M1140.4 852.3h0M1178.5 866.1h0M1180.6 896.6h0M1114.5 901.7h0M1179.2 1000.9h0M1168.4 878h0" stroke="#5e5284" stroke-width="2.1" stroke-linecap="round"/>
<path d="M1114.1 920.8h0M1119.9 994.6h0M1183 876.3h0M1123.9 921.9h0M1120.3 964.8h0M1111.7 918h0M1177.1 898.4h0M1116.9 901.9h0M1163.6 886.5h0M1180 920.5h0M1159.7 930.7h0" stroke="#1e1340" stroke-width="1.2" stroke-linecap="round"/>
<path d="M1183.7 946.8h0M1136.7 854.1h0M1120.2 915.7h0M1175.4 856.3h0M1120.3 926.4h0M1113.4 915.7h0M1167 899.7h0M1168.1 972.9h0M1104.8 918.6h0" stroke="#4a3c74" stroke-width="2.1" stroke-linecap="round"/>
<path d="M1168.9 873.8h0M1178.7 949.3h0M1133.6 873.3h0M1185.1 933.1h0M1179.7 886.2h0M1162.4 963.5h0M1116.8 909.7h0M1165.1 941.3h0M1177.8 986.8h0M1112.8 915.4h0M1105.4 925.6h0M1183.9 957.7h0M1110.6 914.2h0M1175.6 899.5h0M1156 987h0M1164.4 996h0M1146 852.4h0M1126.2 918.4h0M1115 923.8h0M1118.3 915.7h0M1029.8 963.1h0M1172.8 888.5h0M1175.3 868.9h0" stroke="#4a3c74" stroke-width="1.5" stroke-linecap="round"/>
<path d="M1129.4 916.4h0M1097.2 913.4h0M1161 987.1h0M1027.2 897.5h0M1176.3 983.4h0M1169.7 955.4h0M1103.8 908.8h0M1114.9 881.6h0M1087.6 911.9h0M1125.1 916.2h0M1047.8 988.1h0M1121 923.3h0M1172.9 913.5h0M1168.1 873.3h0M1111.5 928h0M1169.3 943.6h0M1173.9 946h0M1123.4 907.3h0M1134.3 838.5h0M1113.8 901.2h0M1074 931.8h0M1101.8 915.7h0M1095.3 908.7h0" stroke="#7a6f9c" stroke-width="1.5" stroke-linecap="round"/>
<path d="M1100.7 907.4h0M1108.1 894.5h0M1172.9 900.6h0M1166 979.3h0M1100.4 906.3h0M1126.8 991.3h0M1122.1 849.9h0M1168.5 865.8h0M1109 952.9h0M1172.2 959.8h0" stroke="#7a6f9c" stroke-width="1.2" stroke-linecap="round"/>
<path d="M1163.6 898.3h0M1094.1 878.6h0M1121.7 911.2h0M1127.8 856.2h0M1148.4 926.8h0M1144.2 860.4h0M1173.3 936.1h0M1167.8 978.1h0M1179.8 971.9h0M1119.5 937.6h0M1122.9 921.5h0M1114.4 914.8h0M1132.6 855.7h0M1035.1 929.4h0" stroke="#5e5284" stroke-width="2.4" stroke-linecap="round"/>
<path d="M1165 976h0M1136.4 837.6h0M1163.1 919h0M1111.5 930.9h0M1119 927.5h0M1177.8 923.5h0M1110.9 909.8h0M1181.9 955.3h0M1173.4 993.1h0" stroke="#5e5284" stroke-width="1.2" stroke-linecap="round"/>
<path d="M1107.8 918h0M1178.4 843.4h0M1171.2 882.4h0M1182.8 913.2h0M1092.9 849.4h0" stroke="#1e1340" stroke-width="3.0" stroke-linecap="round"/>
<path d="M1120.7 916.8h0M1112.4 916.9h0M1112.1 918.8h0M1107.3 924.1h0M1116.1 907.4h0M1179.4 895h0" stroke="#2a1c52" stroke-width="3.0" stroke-linecap="round"/>
<path d="M1116.5 924.7h0" stroke="#1e1340" stroke-width="3.4" stroke-linecap="round"/>
<path d="M1128.4 917.8h0M1172.1 899.7h0M1126.9 838.7h0" stroke="#2a1c52" stroke-width="3.4" stroke-linecap="round"/>
<path d="M1162 848h0M1159.7 919.6h0M1145 838.5h0" stroke="#2a1c52" stroke-width="2.6" stroke-linecap="round"/>
<path d="M1178.1 909.3h0" stroke="#1e1340" stroke-width="2.6" stroke-linecap="round"/>
<path d="M1036 951C1035.9 955.2 1036 969.1 1035.2 976C1034.3 983 1032.8 989.1 1031.1 992.7C1029.3 996.3 1025.6 996.8 1024.5 997.7" fill="none" stroke="#8a7fa0" stroke-width="1.4" stroke-linejoin="round"/>
<path d="M1039.3 951C1039.4 955.2 1039.3 969.1 1040.1 976C1040.9 983 1042.7 989.1 1044.2 992.7C1045.7 996.3 1048.3 996.8 1049.1 997.7" fill="none" stroke="#8a7fa0" stroke-width="1.4" stroke-linejoin="round"/>
</g>
<text x="1082.2" y="886.6" font-size="19.5" font-weight="bold" textLength="22.7" lengthAdjust="spacingAndGlyphs">Vc</text>
<text x="1053.3" y="961" font-size="19.5" font-weight="bold" textLength="17.2" lengthAdjust="spacingAndGlyphs">Vl</text>
<text x="1138.2" y="975" font-size="19.5" font-weight="bold" textLength="23.6" lengthAdjust="spacingAndGlyphs">Vv</text>
<path d="M1095 888.3L1100.3 894.9" stroke="#111" stroke-width="1.6"/>
<path d="M1104.4 900L1098 896.8L1102.7 893.1Z" fill="#111"/>
<path d="M1157.8 996.2H1181.4" stroke="#000" stroke-width="2.4"/>
<clipPath id="c30"><rect x="679" y="1008" width="165" height="167"/></clipPath>
<g clip-path="url(#c30)">
<rect x="679" y="1008" width="165" height="167" fill="#edebf1"/>
<rect x="679" y="1008" width="165" height="167" filter="url(#tex0)"/>
<ellipse cx="707" cy="1074.8" rx="19.8" ry="41.8" fill="#6a5a90" opacity="0.07" filter="url(#blur8)"/>
<ellipse cx="769.8" cy="1150" rx="19.8" ry="33.4" fill="#6a5a90" opacity="0.09" filter="url(#blur8)"/>
<ellipse cx="827.5" cy="1099.8" rx="13.2" ry="25.1" fill="#6a5a90" opacity="0.05" filter="url(#blur8)"/>
<ellipse cx="740.7" cy="1074.8" rx="13.2" ry="28.4" fill="#f6f6f6" opacity="0.9" filter="url(#blur2)"/>
<ellipse cx="792.9" cy="1070.6" rx="13.2" ry="24.2" fill="#f6f6f6" opacity="0.9" filter="url(#blur2)"/>
<ellipse cx="771.4" cy="1024.7" rx="8.2" ry="16.7" fill="#f6f6f6" opacity="0.9" filter="url(#blur2)"/>
<ellipse cx="814.3" cy="1133.2" rx="13.2" ry="25.1" fill="#f6f6f6" opacity="0.9" filter="url(#blur2)"/>
<ellipse cx="703.8" cy="1138.3" rx="13.2" ry="25.1" fill="#f6f6f6" opacity="0.9" filter="url(#blur2)"/>
<path d="M748.3 1008C750.5 1016.4 758.2 1042.8 761.5 1058.1C764.8 1073.4 768.1 1087.3 768.1 1099.8C768.1 1112.4 764 1120.7 761.5 1133.2C759 1145.8 754.6 1168 753.2 1175" fill="none" stroke="#c9c2d8" stroke-width="3" stroke-linejoin="round" opacity="0.5" filter="url(#blur2)"/>
<path d="M789.5 1008C787.6 1016.4 781 1042.8 778 1058.1C775 1073.4 770.9 1087.3 771.4 1099.8C771.9 1112.4 778 1120.7 781.3 1133.2C784.6 1145.8 789.6 1168 791.2 1175" fill="none" stroke="#c9c2d8" stroke-width="3" stroke-linejoin="round" opacity="0.5" filter="url(#blur2)"/>
<path d="M828 1101.9h0M760.3 1099.7h0M825.7 1119.1h0M694.3 1046.9h0M696.5 1078.3h0M826.3 1102.4h0M765.8 1074.7h0" stroke="#1e1340" stroke-width="1.5" stroke-linecap="round"/>
<path d="M729.6 1017.9h0M707.4 1071.5h0M768.5 1139.7h0M702.6 1035.5h0M713.7 1061h0M706.1 1090.9h0M700.5 1068.6h0M780.7 1165.5h0" stroke="#3a2a62" stroke-width="1.8" stroke-linecap="round"/>
<path d="M710.2 1062.5h0M771.4 1101.6h0M768.4 1126h0M786.3 1109.6h0" stroke="#4a3c74" stroke-width="1.8" stroke-linecap="round"/>
<path d="M823.8 1075.7h0M829.2 1099.3h0M694.7 1081.5h0M767.8 1174.7h0M737.2 1020.1h0M706.5 1077.5h0M840.2 1087.9h0M713.7 1073.1h0M777.2 1142.9h0M684.2 1016.9h0" stroke="#5e5284" stroke-width="1.8" stroke-linecap="round"/>
<path d="M712 1097.2h0M705.1 1067.8h0M763.3 1125.8h0M688.4 1144.6h0M753.9 1029.8h0M766.1 1096.2h0" stroke="#3a2a62" stroke-width="1.2" stroke-linecap="round"/>
<path d="M707 1077.5h0M766.7 1143h0M823.8 1118.2h0" stroke="#5e5284" stroke-width="2.1" stroke-linecap="round"/>
<path d="M830.3 1104.2h0M748.3 1122.1h0M702.9 1078.6h0M833.8 1152h0M705.6 1050.4h0M777.7 1147.9h0M693.2 1049.3h0M779.2 1134.5h0M706.3 1076.2h0M696.6 1105.1h0" stroke="#7a6f9c" stroke-width="1.5" stroke-linecap="round"/>
<path d="M739.4 1169h0M770.2 1109.9h0M701.6 1113.3h0M714.7 1009.1h0M697 1045.5h0M818.6 1009.8h0" stroke="#2a1c52" stroke-width="1.5" stroke-linecap="round"/>
<path d="M692 1073.2h0M679.9 1062.3h0M756.4 1116.3h0" stroke="#4a3c74" stroke-width="2.4" stroke-linecap="round"/>
<path d="M819.8 1094.4h0M795.2 1172.6h0M742.9 1169.9h0M709.3 1092.4h0" stroke="#5e5284" stroke-width="1.5" stroke-linecap="round"/>
<path d="M747 1034.8h0M704.8 1043.1h0" stroke="#5e5284" stroke-width="1.2" stroke-linecap="round"/>
<path d="M768.2 1154.2h0M711.7 1068.2h0" stroke="#3a2a62" stroke-width="2.1" stroke-linecap="round"/>
<path d="M783.9 1172.9h0M744 1142.1h0M749.8 1020.7h0M758.3 1165.6h0" stroke="#7a6f9c" stroke-width="2.4" stroke-linecap="round"/>
<path d="M818.1 1069.4h0M721 1023.5h0M773.7 1137.8h0M814.6 1105.7h0M827.3 1094.3h0" stroke="#2a1c52" stroke-width="2.1" stroke-linecap="round"/>
<path d="M716 1068h0M777.3 1137.1h0M720.6 1017.6h0M768.1 1096.1h0M735.2 1027.1h0M707.3 1108.8h0M778.4 1104.2h0" stroke="#2a1c52" stroke-width="1.8" stroke-linecap="round"/>
<path d="M765.5 1133.9h0M778.5 1134.2h0M694.9 1056.7h0M703 1075.5h0" stroke="#1e1340" stroke-width="1.8" stroke-linecap="round"/>
<path d="M766.5 1057.8h0M770.1 1092.4h0M733.1 1109.1h0M764.4 1170.5h0M784.2 1165.8h0" stroke="#1e1340" stroke-width="2.4" stroke-linecap="round"/>
<path d="M773.9 1141.5h0M718.9 1025.1h0M707.1 1081.7h0" stroke="#4a3c74" stroke-width="2.1" stroke-linecap="round"/>
<path d="M704.6 1073.1h0M701 1104.4h0M714.7 1083.6h0M765.3 1060.3h0M701.5 1084.3h0" stroke="#4a3c74" stroke-width="1.5" stroke-linecap="round"/>
<path d="M706.1 1091.1h0M808.3 1095.6h0M826.4 1056.9h0" stroke="#5e5284" stroke-width="2.4" stroke-linecap="round"/>
<path d="M783.8 1127.3h0M714.2 1061.3h0M768 1127.3h0M717.1 1073.9h0" stroke="#4a3c74" stroke-width="1.2" stroke-linecap="round"/>
<path d="M719.1 1068.5h0M711 1051h0M800.5 1034.1h0M718.1 1100.7h0M765.4 1127.4h0" stroke="#3a2a62" stroke-width="1.5" stroke-linecap="round"/>
<path d="M784.8 1132.7h0M713.5 1095.2h0" stroke="#2a1c52" stroke-width="2.4" stroke-linecap="round"/>
<path d="M829.1 1108.1h0M772.6 1136h0M831.8 1094.1h0" stroke="#1e1340" stroke-width="1.2" stroke-linecap="round"/>
<path d="M783.8 1113.9h0M760.2 1093.9h0M820.9 1113.6h0" stroke="#1e1340" stroke-width="2.1" stroke-linecap="round"/>
<path d="M713.4 1020.9h0M761.1 1131.6h0M828.8 1093.7h0M801.1 1172.8h0" stroke="#2a1c52" stroke-width="1.2" stroke-linecap="round"/>
<path d="M823.1 1093.1h0M771.9 1140.8h0" stroke="#7a6f9c" stroke-width="2.1" stroke-linecap="round"/>
<path d="M685.3 1142.9h0M797.1 1023.3h0M711.9 1062.5h0" stroke="#7a6f9c" stroke-width="1.2" stroke-linecap="round"/>
<path d="M786.3 1163h0M702.1 1077.3h0M770.3 1131.9h0M719.8 1170.5h0M704.1 1051.2h0" stroke="#7a6f9c" stroke-width="1.8" stroke-linecap="round"/>
<path d="M709.3 1172h0M783.6 1139.1h0" stroke="#3a2a62" stroke-width="2.4" stroke-linecap="round"/>
<path d="M699 1129.6h0M716.1 1069.8h0M769.5 1098.2h0M765.4 1093.4h0" stroke="#2a1c52" stroke-width="2.6" stroke-linecap="round"/>
<path d="M701.6 1092.7h0M707.2 1099.5h0M758.3 1013.6h0" stroke="#2a1c52" stroke-width="3.0" stroke-linecap="round"/>
<path d="M688.6 1097h0M710.9 1060.5h0M780.2 1106.2h0" stroke="#1e1340" stroke-width="3.4" stroke-linecap="round"/>
<path d="M701.4 1078.3h0" stroke="#1e1340" stroke-width="3.0" stroke-linecap="round"/>
<path d="M695.2 1093.3h0M771.9 1095.4h0" stroke="#2a1c52" stroke-width="3.4" stroke-linecap="round"/>
<path d="M754.6 1028.6h0" stroke="#1e1340" stroke-width="2.6" stroke-linecap="round"/>
</g>
<text x="718" y="1127.2" font-size="18.5" font-weight="bold" textLength="25.5" lengthAdjust="spacingAndGlyphs">SR</text>
<path d="M739.9 1111.2L747 1106.2" stroke="#111" stroke-width="1.6"/>
<path d="M752.3 1102.4L748.7 1108.6L745.3 1103.7Z" fill="#111"/>
<path d="M808.4 1170.3H841.3" stroke="#000" stroke-width="2.4"/>
<clipPath id="c31"><rect x="850.6" y="1008" width="164.8" height="167"/></clipPath>
<g clip-path="url(#c31)">
<rect x="850.6" y="1008" width="164.8" height="167" fill="#e4e1ea"/>
<rect x="850.6" y="1008" width="164.8" height="167" filter="url(#tex1)"/>
<ellipse cx="933" cy="1124.9" rx="24.7" ry="50.1" fill="#6a5a90" opacity="0.08" filter="url(#blur8)"/>
<ellipse cx="867.1" cy="1041.4" rx="16.5" ry="25.1" fill="#6a5a90" opacity="0.06" filter="url(#blur8)"/>
<ellipse cx="998.9" cy="1049.8" rx="16.5" ry="33.4" fill="#6a5a90" opacity="0.06" filter="url(#blur8)"/>
<ellipse cx="900" cy="1047.2" rx="14" ry="21.7" fill="#f6f6f6" opacity="0.9" filter="url(#blur2)"/>
<ellipse cx="960.5" cy="1058.1" rx="16.2" ry="25.1" fill="#f6f6f6" opacity="0.9" filter="url(#blur2)"/>
<ellipse cx="966" cy="1116.5" rx="13.2" ry="15" fill="#f6f6f6" opacity="0.9" filter="url(#blur2)"/>
<ellipse cx="995.6" cy="1138.3" rx="13.2" ry="20" fill="#f6f6f6" opacity="0.9" filter="url(#blur2)"/>
<ellipse cx="862.1" cy="1086.5" rx="11.5" ry="16.7" fill="#f6f6f6" opacity="0.9" filter="url(#blur2)"/>
<ellipse cx="888.5" cy="1091.5" rx="13.2" ry="15" fill="#f6f6f6" opacity="0.9" filter="url(#blur2)"/>
<path d="M909.9 1008C911.6 1010.8 917.1 1019.1 919.8 1024.7C922.6 1030.3 924.8 1035.8 926.4 1041.4C928.1 1047 928.9 1052.5 929.7 1058.1C930.5 1063.7 931.1 1072 931.4 1074.8" fill="none" stroke="#7a6a9e" stroke-width="6" stroke-linejoin="round" opacity="0.5" filter="url(#blur2)"/>
<path d="M969.3 1011.3C966.5 1013 956.6 1016.9 952.8 1021.4C948.9 1025.8 947.6 1032.8 946.2 1038.1C944.8 1043.3 945.1 1048.4 944.5 1053.1C944 1057.8 943.2 1064.2 942.9 1066.5" fill="none" stroke="#7a6a9e" stroke-width="6" stroke-linejoin="round" opacity="0.5" filter="url(#blur2)"/>
<path d="M924.8 1008C927.8 1005.8 944.8 1005.8 947.8 1008C950.9 1010.2 945.6 1015 942.9 1021.4C940.1 1027.8 933.5 1046.4 931.4 1046.4C929.2 1046.4 930.8 1027.8 929.7 1021.4C928.6 1015 921.7 1010.2 924.8 1008Z" fill="#f8f7f4"/>
<path d="M995.9 1070h0M962.8 1093.1h0M944.8 1055.6h0M914.4 1035.7h0M968.6 1031.4h0M914.9 1025.7h0M896.5 1169.1h0M942.7 1033.4h0" stroke="#2a1c52" stroke-width="2.4" stroke-linecap="round"/>
<path d="M914.7 1041.3h0M946.9 1019.6h0M971.5 1021.5h0M1000.5 1063.1h0M943 1063.2h0M913.3 1032.1h0M916.3 1043.9h0M939.4 1127.2h0M915.7 1041.2h0M910.2 1142h0M952.5 1009.4h0M914.5 1017.2h0M920.3 1139.8h0M942.8 1067.8h0M943.2 1021.9h0M851.7 1168.9h0M918.5 1030.3h0" stroke="#5e5284" stroke-width="1.5" stroke-linecap="round"/>
<path d="M956.1 1084.8h0M941.8 1050.3h0M914.7 1149.3h0M989.1 1052.4h0M949.7 1083.6h0M1000.4 1174.6h0M946.4 1029.6h0M952.9 1029.4h0" stroke="#1e1340" stroke-width="1.8" stroke-linecap="round"/>
<path d="M983.7 1141.8h0M912.8 1063.2h0M975.9 1107.1h0M918.8 1042.4h0M964.1 1022.4h0" stroke="#3a2a62" stroke-width="2.1" stroke-linecap="round"/>
<path d="M1008.6 1075.1h0M945.9 1074.5h0M916.3 1064.3h0M976.3 1160h0M924.4 1043.8h0M1007.9 1160.6h0M964.4 1025.3h0M948.5 1024.1h0M970.6 1019.3h0M915.9 1035.2h0M874.7 1043.1h0M889.3 1140.2h0M934.3 1122.2h0M989.3 1119h0M947.3 1040.9h0M963.2 1153.6h0" stroke="#3a2a62" stroke-width="1.5" stroke-linecap="round"/>
<path d="M1006.5 1060.4h0M958.4 1030h0M956.8 1029.1h0M882.9 1045.1h0M923.5 1141.3h0M919.6 1053.4h0M941.1 1069.7h0M915.8 1133.9h0M918.7 1021.8h0M934.2 1119.1h0" stroke="#7a6f9c" stroke-width="2.4" stroke-linecap="round"/>
<path d="M956.9 1029.5h0M869.5 1136.1h0M945.5 1160h0M940.8 1137.4h0M913.2 1140.7h0M910.3 1025.6h0M964.1 1025.5h0M912.2 1034.6h0M920.4 1124.2h0" stroke="#7a6f9c" stroke-width="1.8" stroke-linecap="round"/>
<path d="M943 1064.5h0M857.6 1043.9h0M940.5 1034.8h0M951 1084.7h0M941.6 1047.5h0M966.6 1033.1h0" stroke="#4a3c74" stroke-width="2.1" stroke-linecap="round"/>
<path d="M912.7 1044h0M1001.7 1097.4h0M938 1144.5h0M946.7 1066.8h0M925 1129.9h0M946.3 1044.1h0M868 1030.6h0M917.9 1059.5h0M855.2 1070h0M931.2 1095.1h0" stroke="#2a1c52" stroke-width="1.8" stroke-linecap="round"/>
<path d="M851.5 1045.1h0M981.2 1171.2h0M861.7 1143h0M905.7 1116.8h0M912.6 1023.9h0" stroke="#5e5284" stroke-width="2.4" stroke-linecap="round"/>
<path d="M917.1 1070.6h0M945.4 1055.5h0" stroke="#4a3c74" stroke-width="1.2" stroke-linecap="round"/>
<path d="M907.4 1141.3h0M1011.4 1040h0M943.1 1033.3h0M938.5 1043.3h0M944.2 1028.9h0M996.1 1115.3h0M976.1 1027.6h0M850.8 1056h0" stroke="#4a3c74" stroke-width="1.5" stroke-linecap="round"/>
<path d="M880.4 1033.7h0M1014.6 1034.8h0M984 1016.2h0M887.6 1135.4h0M921.8 1055.2h0M881.6 1029.6h0M944.3 1050.6h0M934.8 1151.4h0M916 1026.4h0" stroke="#7a6f9c" stroke-width="1.5" stroke-linecap="round"/>
<path d="M948 1025h0M945.6 1041.8h0" stroke="#7a6f9c" stroke-width="2.1" stroke-linecap="round"/>
<path d="M940 1066h0M943 1057.9h0M886 1116.4h0M883.8 1073.6h0" stroke="#1e1340" stroke-width="2.4" stroke-linecap="round"/>
<path d="M942.4 1056.9h0M925.1 1115.2h0M977.4 1084.2h0M878 1068.4h0M962.1 1021.1h0M947.8 1026.7h0M914.5 1032.2h0" stroke="#1e1340" stroke-width="2.1" stroke-linecap="round"/>
<path d="M1003.7 1033.7h0M912.1 1128.4h0M947 1033.2h0M920.2 1047.1h0M937.7 1125.5h0M943.8 1147.4h0M917.8 1044.1h0M896.2 1168.8h0M996 1084.6h0M855.8 1047.4h0M912.7 1145.7h0M913.9 1034.6h0M945.6 1070.6h0M943.1 1031.8h0" stroke="#3a2a62" stroke-width="1.8" stroke-linecap="round"/>
<path d="M938 1140.9h0M913.5 1136.8h0M1008 1049.8h0M959.4 1019.4h0M916.2 1170h0" stroke="#4a3c74" stroke-width="2.4" stroke-linecap="round"/>
<path d="M944.2 1111.6h0M946 1053.1h0M976.7 1138.9h0" stroke="#5e5284" stroke-width="2.1" stroke-linecap="round"/>
<path d="M995 1029.5h0M973.9 1027.9h0M911.5 1119.4h0M921.2 1033.5h0M926.9 1155.9h0M938.9 1033.8h0M944.9 1022.1h0M997.1 1073.4h0M970.8 1021.5h0M917.9 1067.2h0M926.8 1147.7h0M921.6 1072.4h0M941.8 1159.3h0" stroke="#4a3c74" stroke-width="1.8" stroke-linecap="round"/>
<path d="M947.1 1112h0M937.8 1052h0M990.2 1033.2h0M917.1 1027.1h0M946.4 1024.3h0M908.8 1010.3h0" stroke="#2a1c52" stroke-width="1.2" stroke-linecap="round"/>
<path d="M912.1 1056.3h0M981.1 1079.4h0M945.9 1023.1h0M942.6 1068.7h0M991.1 1036.7h0M924.9 1134.8h0" stroke="#5e5284" stroke-width="1.2" stroke-linecap="round"/>
<path d="M902.4 1149.4h0M869.8 1015h0M1001 1050.8h0M908.5 1063.6h0M969.2 1020.3h0M933.4 1062.5h0M939.4 1102.3h0M917.5 1069.1h0" stroke="#3a2a62" stroke-width="2.4" stroke-linecap="round"/>
<path d="M917.5 1020.5h0M949 1026.9h0M920 1057.9h0" stroke="#2a1c52" stroke-width="2.1" stroke-linecap="round"/>
<path d="M971.5 1034.2h0M917.9 1043.1h0M972.2 1019.3h0M921.2 1064.5h0M911.4 1154.2h0M940.9 1131h0M942.1 1026.3h0" stroke="#7a6f9c" stroke-width="1.2" stroke-linecap="round"/>
<path d="M920.9 1072.5h0M912.2 1156.5h0M931 1166.2h0M1011.6 1078.2h0M870 1034.8h0M928.7 1125.8h0M968.7 1020.2h0M944.9 1030.9h0M942.5 1035.7h0" stroke="#5e5284" stroke-width="1.8" stroke-linecap="round"/>
<path d="M929.9 1108.8h0M944.2 1050.3h0M950.4 1027.5h0M938.4 1056.7h0M946 1020.6h0M915.3 1036.4h0M924.8 1036.6h0M963.6 1034.9h0M997.4 1059.5h0M1013 1092.9h0M1011.1 1038.9h0" stroke="#2a1c52" stroke-width="1.5" stroke-linecap="round"/>
<path d="M946 1049.9h0M938.4 1031.2h0M915.4 1021.8h0M946.8 1135.2h0M925.1 1141.9h0M919.7 1134.5h0M915.9 1053.3h0M941.3 1064.2h0M923.7 1072.9h0" stroke="#1e1340" stroke-width="1.5" stroke-linecap="round"/>
<path d="M915.9 1032.6h0M914.1 1064h0M943 1076.2h0M919 1159.1h0M946.7 1025.1h0" stroke="#3a2a62" stroke-width="1.2" stroke-linecap="round"/>
<path d="M920.6 1066.1h0" stroke="#1e1340" stroke-width="1.2" stroke-linecap="round"/>
<path d="M908.7 1052h0M923.2 1030.5h0M908.2 1055.7h0M922.4 1088.7h0M951.9 1063.7h0M948.5 1036.9h0M945.4 1056.6h0" stroke="#2a1c52" stroke-width="2.6" stroke-linecap="round"/>
<path d="M913.6 1013.7h0M911.1 1035.5h0M916.2 1130.6h0" stroke="#1e1340" stroke-width="2.6" stroke-linecap="round"/>
<path d="M939.9 1042h0M944.9 1043.6h0M924.1 1113.5h0" stroke="#2a1c52" stroke-width="3.4" stroke-linecap="round"/>
<path d="M948 1043.2h0M924.7 1145.4h0" stroke="#1e1340" stroke-width="3.0" stroke-linecap="round"/>
<path d="M897.8 1091.5h0" stroke="#2a1c52" stroke-width="3.0" stroke-linecap="round"/>
</g>
<text x="886.8" y="1115.6" font-size="18.5" font-weight="bold" textLength="26.2" lengthAdjust="spacingAndGlyphs">SR</text>
<path d="M908 1099.5L916.1 1090.5" stroke="#111" stroke-width="1.6"/>
<path d="M920.4 1085.7L918.3 1092.5L913.8 1088.5Z" fill="#111"/>
<path d="M978 1170.3H1010" stroke="#000" stroke-width="2.4"/>
<clipPath id="c32"><rect x="1021.2" y="1008" width="164.3" height="167"/></clipPath>
<g clip-path="url(#c32)">
<rect x="1021.2" y="1008" width="164.3" height="167" fill="#e0dde8"/>
<rect x="1021.2" y="1008" width="164.3" height="167" filter="url(#tex2)"/>
<ellipse cx="1045.8" cy="1033" rx="24.6" ry="25.1" fill="#6a5a90" opacity="0.1" filter="url(#blur8)"/>
<ellipse cx="1160.9" cy="1033" rx="24.6" ry="25.1" fill="#6a5a90" opacity="0.1" filter="url(#blur8)"/>
<ellipse cx="1103.3" cy="1108.2" rx="16.4" ry="50.1" fill="#6a5a90" opacity="0.08" filter="url(#blur8)"/>
<ellipse cx="1037.6" cy="1158.3" rx="19.7" ry="16.7" fill="#6a5a90" opacity="0.06" filter="url(#blur8)"/>
<ellipse cx="1068.8" cy="1067.3" rx="14.8" ry="24.2" fill="#f6f6f6" opacity="0.9" filter="url(#blur2)"/>
<ellipse cx="1134.6" cy="1061.4" rx="14.8" ry="23.4" fill="#f6f6f6" opacity="0.9" filter="url(#blur2)"/>
<ellipse cx="1060.6" cy="1119.9" rx="9.9" ry="18.4" fill="#f6f6f6" opacity="0.9" filter="url(#blur2)"/>
<ellipse cx="1149.4" cy="1119.9" rx="11.5" ry="11.7" fill="#f6f6f6" opacity="0.9" filter="url(#blur2)"/>
<ellipse cx="1174" cy="1124.9" rx="8.2" ry="11.7" fill="#f6f6f6" opacity="0.9" filter="url(#blur2)"/>
<ellipse cx="1032.7" cy="1128.2" rx="9.9" ry="16.7" fill="#f6f6f6" opacity="0.9" filter="url(#blur2)"/>
<path d="M1075.4 1008C1078.4 1011.3 1089.1 1019.7 1093.5 1028C1097.9 1036.4 1100.1 1044.7 1101.7 1058.1C1103.4 1071.5 1103.1 1091.5 1103.3 1108.2C1103.6 1124.9 1103.3 1150 1103.3 1158.3" fill="none" stroke="#9d92b8" stroke-width="4" stroke-linejoin="round" opacity="0.45" filter="url(#blur2)"/>
<path d="M1132.9 1011.3C1129.9 1014.7 1119 1023.6 1114.9 1031.4C1110.7 1039.2 1109.6 1045.3 1108.3 1058.1C1106.9 1070.9 1106.9 1099.8 1106.6 1108.2" fill="none" stroke="#9d92b8" stroke-width="4" stroke-linejoin="round" opacity="0.45" filter="url(#blur2)"/>
<path d="M1086.9 1008C1091.3 1005.8 1117 1005.8 1121.4 1008C1125.8 1010.2 1116.2 1016.5 1113.2 1021.4C1110.2 1026.2 1106.4 1037.2 1103.3 1037.2C1100.3 1037.2 1097.9 1026.2 1095.1 1021.4C1092.4 1016.5 1082.5 1010.2 1086.9 1008Z" fill="#f8f7f4"/>
<path d="M1179.2 1088.5h0M1157.3 1023.9h0M1108.4 1042.9h0M1114.3 1129.7h0M1028 1064.7h0M1099.2 1088.4h0M1167.4 1065.4h0M1091.6 1056.5h0M1098.1 1055.6h0M1111.7 1073.6h0M1171.7 1078.2h0" stroke="#3a2a62" stroke-width="1.8" stroke-linecap="round"/>
<path d="M1063.3 1012.2h0M1097.6 1083.6h0M1096.3 1067.6h0M1070.2 1017.4h0M1027.1 1050.6h0" stroke="#1e1340" stroke-width="1.5" stroke-linecap="round"/>
<path d="M1164.7 1010.6h0M1100.4 1095.4h0M1103 1077.6h0M1078.2 1017.1h0M1151.3 1085.3h0" stroke="#3a2a62" stroke-width="1.2" stroke-linecap="round"/>
<path d="M1178.1 1076.6h0M1044.9 1026.1h0M1103 1053.4h0M1094.8 1159.8h0M1103.7 1100.6h0M1173.2 1080.4h0M1102.1 1058.1h0M1106.7 1099.6h0M1074.3 1033.9h0" stroke="#2a1c52" stroke-width="2.4" stroke-linecap="round"/>
<path d="M1094.9 1061.4h0M1098.8 1133h0M1049.8 1026.2h0M1156.3 1168.6h0M1156.4 1033.1h0M1104.3 1036h0M1023.8 1087.6h0" stroke="#7a6f9c" stroke-width="1.5" stroke-linecap="round"/>
<path d="M1027.8 1070.2h0M1079.3 1116.9h0M1086 1025.2h0M1100.8 1067.9h0M1109.3 1099.2h0M1106.8 1033.2h0M1050.1 1013.3h0M1162.1 1026.7h0M1134.2 1172.6h0M1179.3 1067.2h0M1173.7 1081.1h0M1111.8 1080.8h0" stroke="#1e1340" stroke-width="1.8" stroke-linecap="round"/>
<path d="M1102.5 1078.4h0M1097.6 1037.4h0M1099 1083.2h0M1106.5 1134.5h0M1112.3 1066.9h0M1091.6 1087.4h0" stroke="#3a2a62" stroke-width="2.1" stroke-linecap="round"/>
<path d="M1102.8 1073.7h0M1099.1 1155.1h0M1168.6 1026h0M1164.4 1043.2h0M1027.8 1077.6h0M1103.7 1056.7h0M1102.8 1076.2h0M1113.8 1142.6h0M1100.6 1078.3h0" stroke="#1e1340" stroke-width="1.2" stroke-linecap="round"/>
<path d="M1021.8 1063.9h0M1125.2 1077.3h0M1099.9 1043.9h0M1096.6 1063.1h0M1054.6 1028.4h0M1099.5 1053.2h0M1089.3 1024.1h0M1175 1060.4h0" stroke="#5e5284" stroke-width="1.8" stroke-linecap="round"/>
<path d="M1104.6 1058.4h0M1104 1105.5h0M1104.8 1101.6h0" stroke="#7a6f9c" stroke-width="2.4" stroke-linecap="round"/>
<path d="M1102.7 1050.2h0M1107.5 1108.8h0M1105 1065.6h0M1176.7 1074.7h0M1114.2 1099h0M1115.3 1051.6h0" stroke="#2a1c52" stroke-width="2.1" stroke-linecap="round"/>
<path d="M1161.5 1045.9h0M1090.8 1031.9h0M1159.5 1108.5h0M1096.5 1035h0M1063.4 1038.8h0M1094.2 1070h0M1103.1 1089.1h0M1095.6 1127.1h0M1102.5 1101.3h0M1087 1042h0M1099.6 1098.7h0M1182.2 1085.2h0M1045.3 1058.1h0M1104.4 1069.8h0" stroke="#2a1c52" stroke-width="1.5" stroke-linecap="round"/>
<path d="M1021.6 1026.5h0M1124 1150h0M1150.1 1032.5h0M1082.9 1035.2h0M1115.1 1044.7h0M1104 1038.2h0M1103.9 1075.2h0" stroke="#5e5284" stroke-width="1.5" stroke-linecap="round"/>
<path d="M1179.4 1085.4h0M1091.5 1036.2h0M1097.1 1034.9h0M1166 1167.4h0M1097.9 1088.6h0M1075 1019.6h0" stroke="#4a3c74" stroke-width="1.5" stroke-linecap="round"/>
<path d="M1177.2 1084.1h0M1158.5 1047.3h0M1167 1079.6h0M1105.3 1134.7h0M1109.5 1055.3h0M1095.2 1065.7h0M1025.1 1068.5h0M1112.8 1053.9h0" stroke="#4a3c74" stroke-width="1.8" stroke-linecap="round"/>
<path d="M1098.5 1109.5h0M1100.3 1123.2h0M1101.6 1085.9h0M1101.9 1064h0M1107.9 1041.6h0M1115.5 1055.6h0M1115.5 1163.2h0" stroke="#7a6f9c" stroke-width="1.2" stroke-linecap="round"/>
<path d="M1107 1069.8h0M1177.1 1089.1h0M1056.1 1023.4h0M1180.6 1081.2h0M1100.4 1111.7h0M1099.4 1053.5h0M1023.9 1065.1h0M1133.2 1020.3h0M1065.7 1165.7h0M1133 1024.2h0M1167.9 1075.5h0" stroke="#3a2a62" stroke-width="2.4" stroke-linecap="round"/>
<path d="M1085.4 1088.9h0M1098.9 1086.8h0M1101.7 1096.8h0M1068.6 1017h0M1086.7 1110.6h0M1134.7 1155.8h0M1114.3 1153.1h0M1085.5 1154.3h0M1105.8 1060.2h0" stroke="#5e5284" stroke-width="2.1" stroke-linecap="round"/>
<path d="M1104.8 1069.1h0M1105.8 1049.3h0" stroke="#1e1340" stroke-width="2.1" stroke-linecap="round"/>
<path d="M1103.8 1104.6h0M1029.7 1102.1h0M1110.4 1108.8h0M1109.6 1084.7h0" stroke="#7a6f9c" stroke-width="2.1" stroke-linecap="round"/>
<path d="M1026.8 1066.6h0M1104.2 1073.5h0M1025.8 1069.7h0M1096.4 1033.1h0M1098.6 1107.6h0M1107.3 1058.4h0" stroke="#2a1c52" stroke-width="1.8" stroke-linecap="round"/>
<path d="M1109.5 1074.8h0M1098.9 1063.7h0M1103.4 1078.1h0M1105.1 1136.7h0" stroke="#5e5284" stroke-width="2.4" stroke-linecap="round"/>
<path d="M1021.2 1069.5h0M1067.9 1015.8h0M1105.3 1041.2h0" stroke="#4a3c74" stroke-width="2.1" stroke-linecap="round"/>
<path d="M1132.2 1038.4h0M1147.8 1167.9h0M1092.5 1070.7h0M1021.7 1062.9h0M1135.5 1104.6h0" stroke="#7a6f9c" stroke-width="1.8" stroke-linecap="round"/>
<path d="M1102.2 1110.7h0" stroke="#2a1c52" stroke-width="1.2" stroke-linecap="round"/>
<path d="M1094.2 1035.5h0M1175.3 1074h0M1098 1079.1h0M1139.9 1020.6h0M1132 1012.2h0M1104.2 1117.2h0M1184 1087.5h0M1105.9 1078.6h0M1110.3 1088.7h0M1106.9 1040.5h0" stroke="#3a2a62" stroke-width="1.5" stroke-linecap="round"/>
<path d="M1085.6 1120.7h0M1104.5 1117.4h0M1101.8 1036.7h0M1112 1077.6h0M1112.7 1148.9h0M1110.2 1134.7h0" stroke="#5e5284" stroke-width="1.2" stroke-linecap="round"/>
<path d="M1034.4 1081.9h0M1048.1 1145.5h0" stroke="#4a3c74" stroke-width="2.4" stroke-linecap="round"/>
<path d="M1031.3 1065.5h0M1106 1109.4h0" stroke="#1e1340" stroke-width="2.4" stroke-linecap="round"/>
<path d="M1100.5 1157.3h0M1133.5 1024.5h0M1130 1029h0M1181.1 1083.4h0" stroke="#4a3c74" stroke-width="1.2" stroke-linecap="round"/>
<path d="M1110.7 1101.5h0M1172.2 1073.5h0" stroke="#1e1340" stroke-width="3.4" stroke-linecap="round"/>
<path d="M1101.9 1106.7h0M1095.9 1051.2h0M1099.1 1083.9h0M1026.7 1067.8h0M1185.1 1070h0" stroke="#1e1340" stroke-width="2.6" stroke-linecap="round"/>
<path d="M1099.9 1088.3h0M1100.8 1041.6h0M1037.4 1067.3h0" stroke="#2a1c52" stroke-width="3.4" stroke-linecap="round"/>
<path d="M1100.2 1042.1h0M1027.7 1074.9h0M1023.2 1069h0M1171.1 1099.3h0" stroke="#1e1340" stroke-width="3.0" stroke-linecap="round"/>
<path d="M1109.1 1107.7h0M1100.3 1033.4h0M1114 1085.6h0M1165 1077.6h0" stroke="#2a1c52" stroke-width="2.6" stroke-linecap="round"/>
</g>
<text x="1062.7" y="1125.8" font-size="18.5" font-weight="bold" textLength="26.2" lengthAdjust="spacingAndGlyphs">SR</text>
<path d="M1079.4 1109L1087.6 1099.4" stroke="#111" stroke-width="1.6"/>
<path d="M1091.8 1094.4L1089.9 1101.3L1085.3 1097.4Z" fill="#111"/>
<path d="M1150.2 1170.3H1183" stroke="#000" stroke-width="2.4"/>
</svg>
</body></html>
